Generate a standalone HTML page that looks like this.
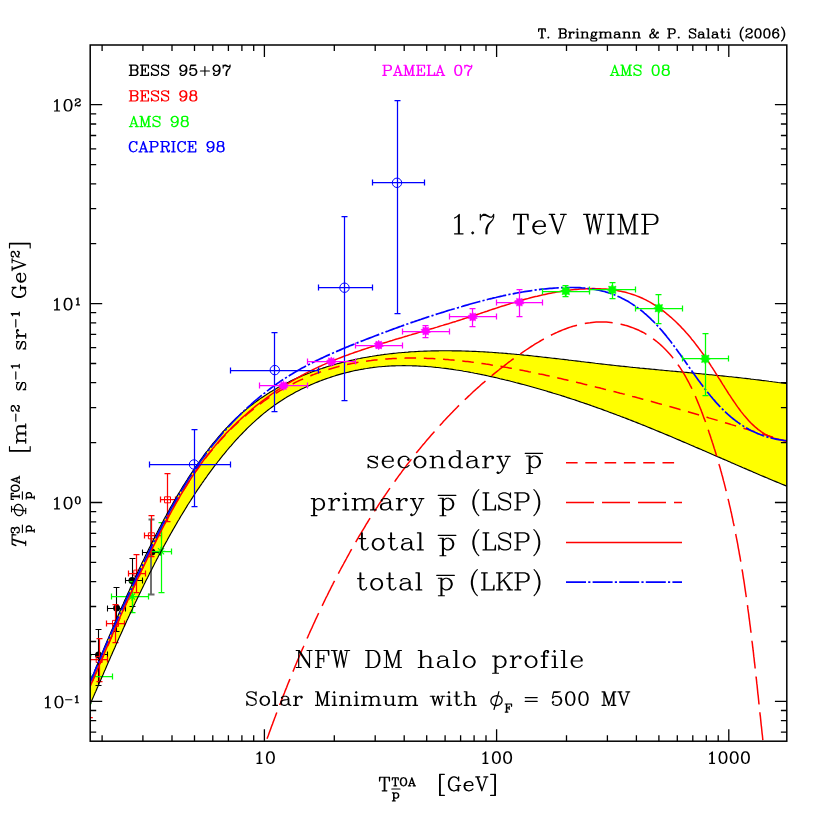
<!DOCTYPE html>
<html><head><meta charset="utf-8"><title>Antiproton flux</title>
<style>html,body{margin:0;padding:0;background:#fff;width:830px;height:830px;overflow:hidden;font-family:"Liberation Serif",serif}</style>
</head><body>
<svg width="830" height="830" viewBox="0 0 830 830" style="position:absolute;left:0;top:0">
<defs><clipPath id="cp"><rect x="90.2" y="45.0" width="696.6" height="696.2"/></clipPath></defs>
<rect width="830" height="830" fill="#fff"/>
<g clip-path="url(#cp)" fill="none" stroke-linecap="butt" stroke-linejoin="round">
<path d="M79.9 707.0 L80.5 705.4 L81.2 703.7 L81.9 702.0 L82.6 700.3 L83.3 698.7 L84.0 697.0 L84.7 695.3 L85.3 693.6 L86.0 692.0 L86.7 690.3 L87.4 688.6 L88.1 687.0 L88.8 685.3 L89.4 683.6 L90.1 681.9 L90.8 680.3 L91.5 678.6 L92.2 676.9 L92.9 675.3 L93.6 673.6 L94.3 671.9 L94.9 670.3 L95.6 668.6 L96.3 666.9 L97.0 665.3 L97.7 663.6 L98.4 661.9 L99.1 660.3 L99.8 658.6 L100.5 656.9 L101.2 655.3 L101.9 653.6 L102.6 651.9 L103.3 650.3 L103.9 648.6 L104.6 646.9 L105.3 645.3 L106.0 643.6 L106.7 642.0 L107.4 640.3 L108.2 638.6 L108.9 637.0 L109.6 635.3 L110.3 633.7 L111.0 632.0 L111.7 630.3 L112.4 628.7 L113.1 627.0 L113.8 625.4 L114.5 623.7 L115.2 622.1 L115.9 620.4 L116.7 618.8 L117.4 617.1 L118.1 615.5 L118.8 613.8 L119.5 612.2 L120.3 610.5 L121.0 608.9 L121.7 607.2 L122.4 605.6 L123.2 603.9 L123.9 602.3 L124.6 600.6 L125.4 599.0 L126.1 597.4 L126.8 595.7 L127.6 594.1 L128.3 592.4 L129.1 590.8 L129.8 589.2 L130.5 587.5 L131.3 585.9 L132.0 584.3 L132.8 582.6 L133.5 581.0 L134.3 579.4 L135.0 577.7 L135.8 576.1 L136.6 574.5 L137.3 572.9 L138.1 571.2 L138.9 569.6 L139.6 568.0 L140.4 566.4 L141.2 564.7 L141.9 563.1 L142.7 561.5 L143.5 559.9 L144.3 558.3 L145.0 556.7 L145.8 555.0 L146.6 553.4 L147.4 551.8 L148.2 550.2 L149.0 548.6 L149.8 547.0 L150.6 545.4 L151.4 543.8 L152.2 542.2 L153.0 540.6 L153.8 539.0 L154.6 537.4 L155.4 535.8 L156.2 534.2 L157.1 532.6 L157.9 531.0 L158.7 529.4 L159.5 527.8 L160.4 526.2 L161.2 524.7 L162.0 523.1 L162.9 521.5 L163.7 519.9 L164.6 518.3 L165.4 516.8 L166.3 515.2 L167.1 513.6 L168.0 512.0 L168.9 510.5 L169.7 508.9 L170.6 507.3 L171.5 505.8 L172.4 504.2 L173.3 502.6 L174.2 501.1 L175.1 499.5 L176.0 498.0 L176.9 496.4 L177.8 494.9 L178.7 493.3 L179.7 491.8 L180.6 490.2 L181.5 488.7 L182.5 487.1 L183.4 485.6 L184.4 484.1 L185.4 482.5 L186.3 481.0 L187.3 479.5 L188.3 477.9 L189.3 476.4 L190.3 474.9 L191.3 473.4 L192.3 471.9 L193.3 470.3 L194.3 468.8 L195.3 467.3 L196.4 465.8 L197.4 464.3 L198.5 462.8 L199.5 461.3 L200.6 459.8 L201.7 458.3 L202.8 456.9 L203.8 455.4 L204.9 453.9 L206.0 452.4 L207.2 451.0 L208.3 449.5 L209.4 448.1 L210.5 446.6 L211.7 445.2 L212.8 443.7 L214.0 442.3 L215.2 440.9 L216.3 439.5 L217.5 438.1 L218.7 436.7 L219.9 435.3 L221.1 433.9 L222.3 432.5 L223.5 431.2 L224.8 429.8 L226.0 428.5 L227.3 427.2 L228.5 425.8 L229.8 424.5 L231.1 423.2 L232.3 422.0 L233.6 420.7 L234.9 419.4 L236.2 418.2 L237.6 416.9 L238.9 415.7 L240.2 414.5 L241.6 413.3 L242.9 412.1 L244.3 410.9 L245.7 409.8 L247.0 408.6 L248.4 407.5 L249.8 406.4 L251.2 405.3 L252.7 404.2 L254.1 403.1 L255.5 402.1 L257.0 401.0 L258.4 400.0 L259.9 398.9 L261.3 397.9 L262.8 396.9 L264.3 395.9 L265.8 395.0 L267.3 394.0 L268.8 393.1 L270.3 392.1 L271.8 391.2 L273.3 390.3 L274.8 389.4 L276.4 388.5 L277.9 387.6 L279.5 386.8 L281.0 385.9 L282.6 385.1 L284.2 384.3 L285.8 383.5 L287.3 382.7 L288.9 381.9 L290.5 381.1 L292.1 380.3 L293.7 379.6 L295.3 378.8 L297.0 378.1 L298.6 377.4 L300.2 376.7 L301.8 376.0 L303.5 375.3 L305.1 374.6 L306.8 374.0 L308.4 373.3 L310.1 372.7 L311.7 372.0 L313.4 371.4 L315.1 370.8 L316.7 370.2 L318.4 369.6 L320.1 369.0 L321.8 368.5 L323.5 367.9 L325.2 367.4 L326.9 366.8 L328.6 366.3 L330.3 365.8 L332.0 365.3 L333.7 364.8 L335.4 364.3 L337.1 363.8 L338.9 363.4 L340.6 362.9 L342.3 362.4 L344.1 362.0 L345.8 361.6 L347.5 361.2 L349.3 360.8 L351.0 360.4 L352.8 360.0 L354.5 359.6 L356.3 359.2 L358.0 358.8 L359.8 358.5 L361.5 358.1 L363.3 357.8 L365.1 357.5 L366.8 357.2 L368.6 356.9 L370.4 356.5 L372.1 356.3 L373.9 356.0 L375.7 355.7 L377.5 355.4 L379.3 355.2 L381.1 354.9 L382.8 354.7 L384.6 354.4 L386.4 354.2 L388.2 354.0 L390.0 353.8 L391.8 353.6 L393.6 353.4 L395.4 353.2 L397.2 353.0 L399.0 352.8 L400.8 352.7 L402.6 352.5 L404.4 352.4 L406.2 352.2 L408.0 352.1 L409.8 351.9 L411.6 351.8 L413.5 351.7 L415.3 351.6 L417.1 351.5 L418.9 351.4 L420.7 351.3 L422.5 351.2 L424.4 351.1 L426.2 351.1 L428.0 351.0 L429.8 351.0 L431.6 350.9 L433.4 350.9 L435.3 350.8 L437.1 350.8 L438.9 350.8 L440.7 350.7 L442.5 350.7 L444.4 350.7 L446.2 350.7 L448.0 350.7 L449.8 350.7 L451.7 350.8 L453.5 350.8 L455.3 350.8 L457.1 350.8 L458.9 350.9 L460.8 350.9 L462.6 351.0 L464.4 351.0 L466.2 351.1 L468.0 351.1 L469.8 351.2 L471.7 351.3 L473.5 351.3 L475.3 351.4 L477.1 351.5 L478.9 351.6 L480.7 351.7 L482.5 351.8 L484.4 351.9 L486.2 352.0 L488.0 352.1 L489.8 352.2 L491.6 352.3 L493.4 352.5 L495.2 352.6 L497.0 352.7 L498.8 352.9 L500.6 353.0 L502.4 353.1 L504.2 353.3 L506.0 353.4 L507.8 353.6 L509.6 353.7 L511.4 353.9 L513.2 354.0 L515.0 354.2 L516.8 354.4 L518.6 354.5 L520.4 354.7 L522.2 354.9 L524.0 355.1 L525.8 355.2 L527.6 355.4 L529.4 355.6 L531.2 355.8 L533.0 356.0 L534.8 356.2 L536.6 356.4 L538.4 356.6 L540.2 356.8 L542.0 357.0 L543.7 357.2 L545.5 357.4 L547.3 357.6 L549.1 357.8 L550.9 358.0 L552.7 358.2 L554.5 358.4 L556.3 358.6 L558.1 358.8 L559.8 359.0 L561.6 359.2 L563.4 359.4 L565.2 359.6 L567.0 359.8 L568.8 360.1 L570.6 360.3 L572.3 360.5 L574.1 360.7 L575.9 360.9 L577.7 361.1 L579.5 361.3 L581.3 361.6 L583.0 361.8 L584.8 362.0 L586.6 362.2 L588.4 362.4 L590.2 362.6 L591.9 362.8 L593.7 363.0 L595.5 363.3 L597.3 363.5 L599.1 363.7 L600.9 363.9 L602.6 364.1 L604.4 364.3 L606.2 364.5 L608.0 364.7 L609.8 364.9 L611.5 365.1 L613.3 365.3 L615.1 365.5 L616.9 365.7 L618.7 365.9 L620.4 366.1 L622.2 366.3 L624.0 366.4 L625.8 366.6 L627.6 366.8 L629.3 367.0 L631.1 367.2 L632.9 367.4 L634.7 367.5 L636.5 367.7 L638.2 367.9 L640.0 368.1 L641.8 368.2 L643.6 368.4 L645.4 368.6 L647.1 368.8 L648.9 368.9 L650.7 369.1 L652.5 369.3 L654.3 369.4 L656.0 369.6 L657.8 369.8 L659.6 370.0 L661.4 370.1 L663.2 370.3 L665.0 370.5 L666.7 370.6 L668.5 370.8 L670.3 371.0 L672.1 371.1 L673.9 371.3 L675.7 371.4 L677.4 371.6 L679.2 371.8 L681.0 371.9 L682.8 372.1 L684.6 372.3 L686.4 372.4 L688.2 372.6 L689.9 372.8 L691.7 372.9 L693.5 373.1 L695.3 373.3 L697.1 373.5 L698.9 373.6 L700.7 373.8 L702.5 374.0 L704.2 374.1 L706.0 374.3 L707.8 374.5 L709.6 374.7 L711.4 374.8 L713.2 375.0 L715.0 375.2 L716.8 375.4 L718.6 375.5 L720.4 375.7 L722.2 375.9 L724.0 376.1 L725.8 376.3 L727.6 376.5 L729.3 376.7 L731.1 376.8 L732.9 377.0 L734.7 377.2 L736.5 377.4 L738.3 377.6 L740.1 377.8 L741.9 378.0 L743.7 378.2 L745.5 378.4 L747.3 378.6 L749.2 378.8 L751.0 379.1 L752.8 379.3 L754.6 379.5 L756.4 379.7 L758.2 379.9 L760.0 380.1 L761.8 380.4 L763.6 380.6 L765.4 380.8 L767.2 381.0 L769.0 381.3 L770.9 381.5 L772.7 381.8 L774.5 382.0 L776.3 382.2 L778.1 382.5 L779.9 382.7 L781.7 383.0 L783.6 383.3 L785.4 383.5 L787.2 383.8 L787.2 486.3 L785.4 485.6 L783.7 484.9 L782.0 484.2 L780.3 483.5 L778.6 482.8 L776.9 482.1 L775.2 481.4 L773.5 480.7 L771.8 480.0 L770.1 479.3 L768.4 478.6 L766.7 477.8 L765.0 477.1 L763.3 476.4 L761.6 475.7 L759.9 475.0 L758.2 474.2 L756.5 473.5 L754.8 472.8 L753.1 472.1 L751.5 471.3 L749.8 470.6 L748.1 469.9 L746.4 469.1 L744.7 468.4 L743.0 467.7 L741.3 466.9 L739.6 466.2 L737.9 465.5 L736.2 464.8 L734.5 464.0 L732.8 463.3 L731.1 462.6 L729.5 461.8 L727.8 461.1 L726.1 460.3 L724.4 459.6 L722.7 458.9 L721.0 458.1 L719.3 457.4 L717.6 456.7 L715.9 455.9 L714.2 455.2 L712.5 454.5 L710.9 453.7 L709.2 453.0 L707.5 452.3 L705.8 451.5 L704.1 450.8 L702.4 450.1 L700.7 449.3 L699.0 448.6 L697.3 447.9 L695.7 447.2 L694.0 446.4 L692.3 445.7 L690.6 445.0 L688.9 444.2 L687.2 443.5 L685.5 442.8 L683.8 442.1 L682.1 441.4 L680.4 440.6 L678.7 439.9 L677.0 439.2 L675.4 438.5 L673.7 437.8 L672.0 437.0 L670.3 436.3 L668.6 435.6 L666.9 434.9 L665.2 434.2 L663.5 433.5 L661.8 432.8 L660.1 432.1 L658.4 431.4 L656.7 430.7 L655.0 430.0 L653.3 429.3 L651.6 428.6 L649.9 427.9 L648.2 427.2 L646.5 426.5 L644.8 425.8 L643.1 425.1 L641.4 424.5 L639.7 423.8 L638.0 423.1 L636.3 422.4 L634.6 421.8 L632.9 421.1 L631.2 420.4 L629.5 419.8 L627.8 419.1 L626.1 418.4 L624.4 417.8 L622.6 417.1 L620.9 416.5 L619.2 415.8 L617.5 415.2 L615.8 414.5 L614.1 413.9 L612.4 413.2 L610.6 412.6 L608.9 412.0 L607.2 411.3 L605.5 410.7 L603.8 410.1 L602.1 409.4 L600.3 408.8 L598.6 408.2 L596.9 407.6 L595.2 407.0 L593.4 406.4 L591.7 405.8 L590.0 405.1 L588.2 404.5 L586.5 403.9 L584.8 403.4 L583.1 402.8 L581.3 402.2 L579.6 401.6 L577.8 401.0 L576.1 400.4 L574.4 399.8 L572.6 399.3 L570.9 398.7 L569.1 398.1 L567.4 397.6 L565.7 397.0 L563.9 396.4 L562.2 395.9 L560.4 395.3 L558.7 394.8 L556.9 394.2 L555.2 393.7 L553.4 393.2 L551.6 392.6 L549.9 392.1 L548.1 391.6 L546.4 391.0 L544.6 390.5 L542.8 390.0 L541.1 389.5 L539.3 389.0 L537.5 388.5 L535.8 388.0 L534.0 387.5 L532.2 387.0 L530.5 386.5 L528.7 386.0 L526.9 385.5 L525.1 385.0 L523.3 384.5 L521.6 384.1 L519.8 383.6 L518.0 383.1 L516.2 382.7 L514.4 382.2 L512.6 381.7 L510.8 381.3 L509.0 380.8 L507.2 380.4 L505.4 380.0 L503.6 379.5 L501.8 379.1 L500.0 378.7 L498.2 378.2 L496.4 377.8 L494.6 377.4 L492.8 377.0 L491.0 376.6 L489.1 376.2 L487.3 375.8 L485.5 375.4 L483.7 375.0 L481.9 374.6 L480.0 374.2 L478.2 373.9 L476.4 373.5 L474.6 373.2 L472.7 372.8 L470.9 372.5 L469.1 372.1 L467.2 371.8 L465.4 371.5 L463.6 371.2 L461.8 370.8 L459.9 370.5 L458.1 370.2 L456.2 370.0 L454.4 369.7 L452.6 369.4 L450.7 369.1 L448.9 368.9 L447.1 368.6 L445.2 368.4 L443.4 368.2 L441.5 368.0 L439.7 367.7 L437.9 367.5 L436.0 367.4 L434.2 367.2 L432.3 367.0 L430.5 366.8 L428.7 366.7 L426.8 366.5 L425.0 366.4 L423.1 366.3 L421.3 366.2 L419.5 366.1 L417.6 366.0 L415.8 365.9 L414.0 365.8 L412.1 365.8 L410.3 365.7 L408.5 365.7 L406.6 365.7 L404.8 365.6 L403.0 365.6 L401.1 365.7 L399.3 365.7 L397.5 365.7 L395.6 365.8 L393.8 365.8 L392.0 365.9 L390.2 366.0 L388.3 366.1 L386.5 366.2 L384.7 366.4 L382.9 366.5 L381.0 366.7 L379.2 366.8 L377.4 367.0 L375.6 367.2 L373.8 367.4 L372.0 367.7 L370.2 367.9 L368.4 368.2 L366.6 368.5 L364.8 368.7 L363.0 369.1 L361.2 369.4 L359.4 369.7 L357.6 370.1 L355.8 370.4 L354.0 370.8 L352.2 371.2 L350.4 371.6 L348.6 372.1 L346.9 372.5 L345.1 373.0 L343.3 373.4 L341.5 373.9 L339.8 374.4 L338.0 374.9 L336.3 375.4 L334.5 376.0 L332.8 376.5 L331.0 377.1 L329.3 377.7 L327.6 378.3 L325.8 378.9 L324.1 379.5 L322.4 380.1 L320.7 380.8 L319.0 381.4 L317.3 382.1 L315.6 382.8 L313.9 383.5 L312.2 384.2 L310.5 384.9 L308.8 385.7 L307.2 386.4 L305.5 387.2 L303.9 388.0 L302.2 388.8 L300.6 389.6 L299.0 390.4 L297.3 391.3 L295.7 392.1 L294.1 393.0 L292.5 393.9 L290.9 394.8 L289.3 395.7 L287.8 396.6 L286.2 397.6 L284.6 398.5 L283.1 399.5 L281.6 400.5 L280.0 401.5 L278.5 402.5 L277.0 403.5 L275.5 404.6 L274.0 405.6 L272.5 406.7 L271.1 407.8 L269.6 408.9 L268.1 410.0 L266.7 411.1 L265.3 412.3 L263.8 413.4 L262.4 414.6 L261.0 415.8 L259.6 417.0 L258.2 418.2 L256.8 419.4 L255.5 420.6 L254.1 421.9 L252.7 423.1 L251.4 424.4 L250.1 425.6 L248.7 426.9 L247.4 428.2 L246.1 429.5 L244.8 430.8 L243.5 432.1 L242.2 433.5 L240.9 434.8 L239.6 436.1 L238.4 437.5 L237.1 438.9 L235.9 440.2 L234.6 441.6 L233.4 443.0 L232.2 444.4 L231.0 445.8 L229.7 447.2 L228.5 448.6 L227.3 450.0 L226.2 451.4 L225.0 452.9 L223.8 454.3 L222.6 455.7 L221.5 457.2 L220.3 458.6 L219.2 460.1 L218.0 461.5 L216.9 463.0 L215.8 464.4 L214.6 465.9 L213.5 467.4 L212.4 468.9 L211.3 470.3 L210.2 471.8 L209.1 473.3 L208.0 474.8 L207.0 476.3 L205.9 477.8 L204.8 479.3 L203.8 480.8 L202.7 482.3 L201.7 483.8 L200.6 485.3 L199.6 486.9 L198.6 488.4 L197.5 489.9 L196.5 491.4 L195.5 493.0 L194.5 494.5 L193.5 496.0 L192.5 497.6 L191.5 499.1 L190.5 500.7 L189.5 502.2 L188.5 503.8 L187.5 505.3 L186.6 506.9 L185.6 508.5 L184.7 510.0 L183.7 511.6 L182.7 513.2 L181.8 514.7 L180.8 516.3 L179.9 517.9 L179.0 519.5 L178.0 521.0 L177.1 522.6 L176.2 524.2 L175.3 525.8 L174.4 527.4 L173.4 529.0 L172.5 530.6 L171.6 532.2 L170.7 533.8 L169.8 535.4 L168.9 537.0 L168.0 538.6 L167.2 540.2 L166.3 541.8 L165.4 543.4 L164.5 545.0 L163.6 546.6 L162.8 548.2 L161.9 549.8 L161.0 551.5 L160.2 553.1 L159.3 554.7 L158.4 556.3 L157.6 557.9 L156.7 559.6 L155.9 561.2 L155.0 562.8 L154.2 564.5 L153.4 566.1 L152.5 567.7 L151.7 569.4 L150.9 571.0 L150.0 572.6 L149.2 574.3 L148.4 575.9 L147.6 577.6 L146.7 579.2 L145.9 580.8 L145.1 582.5 L144.3 584.1 L143.5 585.8 L142.7 587.4 L141.9 589.1 L141.1 590.7 L140.3 592.4 L139.5 594.0 L138.7 595.7 L137.9 597.3 L137.1 599.0 L136.3 600.7 L135.5 602.3 L134.7 604.0 L133.9 605.6 L133.1 607.3 L132.4 609.0 L131.6 610.6 L130.8 612.3 L130.0 614.0 L129.3 615.6 L128.5 617.3 L127.7 619.0 L126.9 620.6 L126.2 622.3 L125.4 624.0 L124.6 625.7 L123.9 627.3 L123.1 629.0 L122.4 630.7 L121.6 632.4 L120.9 634.0 L120.1 635.7 L119.3 637.4 L118.6 639.1 L117.8 640.8 L117.1 642.4 L116.3 644.1 L115.6 645.8 L114.9 647.5 L114.1 649.2 L113.4 650.8 L112.6 652.5 L111.9 654.2 L111.1 655.9 L110.4 657.6 L109.7 659.3 L108.9 661.0 L108.2 662.6 L107.5 664.3 L106.7 666.0 L106.0 667.7 L105.3 669.4 L104.5 671.1 L103.8 672.8 L103.1 674.5 L102.3 676.2 L101.6 677.8 L100.9 679.5 L100.1 681.2 L99.4 682.9 L98.7 684.6 L98.0 686.3 L97.2 688.0 L96.5 689.7 L95.8 691.4 L95.0 693.1 L94.3 694.8 L93.6 696.4 L92.9 698.1 L92.1 699.8 L91.4 701.5 L90.7 703.2 L90.0 704.9 L89.2 706.6 L88.5 708.3 L87.8 710.0 L87.1 711.7 L86.4 713.4 L85.6 715.1 L84.9 716.8 L84.2 718.4 L83.5 720.1 L82.7 721.8 L82.0 723.5 Z" fill="#ffff00" stroke="none"/>
<g stroke="#000000" stroke-width="1.1"><path d="M90.5 654.5 H107.5 M90.5 651.5 V657.5 M107.5 651.5 V657.5"/><path d="M98.5 629.5 V685.5 M95.5 629.5 H101.5 M95.5 685.5 H101.5"/></g>
<circle cx="98.5" cy="654.9" r="3.5" fill="#000" stroke="none"/>
<g stroke="#000000" stroke-width="1.1"><path d="M107.5 608.5 H125.5 M107.5 605.5 V611.5 M125.5 605.5 V611.5"/><path d="M116.5 587.5 V631.5 M113.5 587.5 H119.5 M113.5 631.5 H119.5"/></g>
<circle cx="116.6" cy="608.1" r="3.5" fill="#000" stroke="none"/>
<g stroke="#000000" stroke-width="1.1"><path d="M125.5 580.5 H142.5 M125.5 577.5 V583.5 M142.5 577.5 V583.5"/><path d="M132.5 558.5 V606.5 M129.5 558.5 H135.5 M129.5 606.5 H135.5"/></g>
<circle cx="132.0" cy="580.4" r="3.5" fill="#000" stroke="none"/>
<g stroke="#000000" stroke-width="1.1"><path d="M142.5 552.5 H160.5 M142.5 549.5 V555.5 M160.5 549.5 V555.5"/><path stroke="#6a6a6a" stroke-width="1.9" d="M151.0 519.5 V594.5 M148.5 519.5 H154.5 M148.5 594.5 H154.5"/></g>
<circle cx="151.9" cy="552.0" r="3.5" fill="#000" stroke="none"/>
<g stroke="#ff0000" stroke-width="1.25"><path d="M90.5 659.5 H107.5 M90.5 656.5 V662.5 M107.5 656.5 V662.5"/><path d="M99.5 638.5 V681.5 M96.5 638.5 H102.5 M96.5 681.5 H102.5"/></g>
<rect x="96.2" y="656.5" width="6" height="6" stroke="#ff0000" stroke-width="1"/>
<g stroke="#ff0000" stroke-width="1.25"><path d="M106.5 623.5 H124.5 M106.5 620.5 V626.5 M124.5 620.5 V626.5"/><path d="M115.5 604.5 V642.5 M112.5 604.5 H118.5 M112.5 642.5 H118.5"/></g>
<rect x="112.5" y="620.4" width="6" height="6" stroke="#ff0000" stroke-width="1"/>
<g stroke="#ff0000" stroke-width="1.25"><path d="M128.5 573.5 H145.5 M128.5 570.5 V576.5 M145.5 570.5 V576.5"/><path d="M136.5 554.5 V592.5 M133.5 554.5 H139.5 M133.5 592.5 H139.5"/></g>
<rect x="133.8" y="570.1" width="6" height="6" stroke="#ff0000" stroke-width="1"/>
<g stroke="#ff0000" stroke-width="1.25"><path d="M144.5 535.5 H161.5 M144.5 532.5 V538.5 M161.5 532.5 V538.5"/><path d="M151.5 515.5 V556.5 M148.5 515.5 H154.5 M148.5 556.5 H154.5"/></g>
<rect x="148.4" y="532.8" width="6" height="6" stroke="#ff0000" stroke-width="1"/>
<g stroke="#ff0000" stroke-width="1.25"><path d="M160.5 499.5 H175.5 M160.5 496.5 V502.5 M175.5 496.5 V502.5"/><path d="M167.5 473.5 V521.5 M164.5 473.5 H170.5 M164.5 521.5 H170.5"/></g>
<rect x="164.5" y="496.8" width="6" height="6" stroke="#ff0000" stroke-width="1"/>
<path d="M90 717.6 H92.8" stroke="#ff0000" stroke-width="1.1"/>
<g stroke="#00ff00" stroke-width="1.25"><path d="M90.5 676.5 H112.5 M90.5 673.5 V679.5 M112.5 673.5 V679.5"/><path d="M88.5 655.5 V703.5 M85.5 655.5 H91.5 M85.5 703.5 H91.5"/></g>
<path d="M83.6 676.0 L92.4 676.0 M84.9 672.9 L91.1 679.1 M88.0 671.6 L88.0 680.4 M91.1 672.9 L84.9 679.1" stroke="#00ff00" stroke-width="1.1"/>
<circle cx="88.5" cy="676.5" r="1.8" fill="#00ff00" stroke="none"/>
<g stroke="#00ff00" stroke-width="1.25"><path d="M111.5 596.5 H148.5 M111.5 593.5 V599.5 M148.5 593.5 V599.5"/><path d="M132.5 581.5 V612.5 M129.5 581.5 H135.5 M129.5 612.5 H135.5"/></g>
<path d="M127.6 596.6 L136.4 596.6 M128.9 593.5 L135.1 599.7 M132.0 592.2 L132.0 601.0 M135.1 593.5 L128.9 599.7" stroke="#00ff00" stroke-width="1.1"/>
<circle cx="132.5" cy="596.5" r="1.8" fill="#00ff00" stroke="none"/>
<g stroke="#00ff00" stroke-width="1.25"><path d="M150.5 551.5 H171.5 M150.5 548.5 V554.5 M171.5 548.5 V554.5"/><path d="M161.5 522.5 V592.5 M158.5 522.5 H164.5 M158.5 592.5 H164.5"/></g>
<path d="M156.6 551.2 L165.4 551.2 M157.9 548.1 L164.1 554.3 M161.0 546.8 L161.0 555.6 M164.1 548.1 L157.9 554.3" stroke="#00ff00" stroke-width="1.1"/>
<circle cx="161.5" cy="551.5" r="1.8" fill="#00ff00" stroke="none"/>
<path d="M79.9 707.0 L80.5 705.4 L81.2 703.7 L81.9 702.0 L82.6 700.3 L83.3 698.7 L84.0 697.0 L84.7 695.3 L85.3 693.6 L86.0 692.0 L86.7 690.3 L87.4 688.6 L88.1 687.0 L88.8 685.3 L89.4 683.6 L90.1 681.9 L90.8 680.3 L91.5 678.6 L92.2 676.9 L92.9 675.3 L93.6 673.6 L94.3 671.9 L94.9 670.3 L95.6 668.6 L96.3 666.9 L97.0 665.3 L97.7 663.6 L98.4 661.9 L99.1 660.3 L99.8 658.6 L100.5 656.9 L101.2 655.3 L101.9 653.6 L102.6 651.9 L103.3 650.3 L103.9 648.6 L104.6 646.9 L105.3 645.3 L106.0 643.6 L106.7 642.0 L107.4 640.3 L108.2 638.6 L108.9 637.0 L109.6 635.3 L110.3 633.7 L111.0 632.0 L111.7 630.3 L112.4 628.7 L113.1 627.0 L113.8 625.4 L114.5 623.7 L115.2 622.1 L115.9 620.4 L116.7 618.8 L117.4 617.1 L118.1 615.5 L118.8 613.8 L119.5 612.2 L120.3 610.5 L121.0 608.9 L121.7 607.2 L122.4 605.6 L123.2 603.9 L123.9 602.3 L124.6 600.6 L125.4 599.0 L126.1 597.4 L126.8 595.7 L127.6 594.1 L128.3 592.4 L129.1 590.8 L129.8 589.2 L130.5 587.5 L131.3 585.9 L132.0 584.3 L132.8 582.6 L133.5 581.0 L134.3 579.4 L135.0 577.7 L135.8 576.1 L136.6 574.5 L137.3 572.9 L138.1 571.2 L138.9 569.6 L139.6 568.0 L140.4 566.4 L141.2 564.7 L141.9 563.1 L142.7 561.5 L143.5 559.9 L144.3 558.3 L145.0 556.7 L145.8 555.0 L146.6 553.4 L147.4 551.8 L148.2 550.2 L149.0 548.6 L149.8 547.0 L150.6 545.4 L151.4 543.8 L152.2 542.2 L153.0 540.6 L153.8 539.0 L154.6 537.4 L155.4 535.8 L156.2 534.2 L157.1 532.6 L157.9 531.0 L158.7 529.4 L159.5 527.8 L160.4 526.2 L161.2 524.7 L162.0 523.1 L162.9 521.5 L163.7 519.9 L164.6 518.3 L165.4 516.8 L166.3 515.2 L167.1 513.6 L168.0 512.0 L168.9 510.5 L169.7 508.9 L170.6 507.3 L171.5 505.8 L172.4 504.2 L173.3 502.6 L174.2 501.1 L175.1 499.5 L176.0 498.0 L176.9 496.4 L177.8 494.9 L178.7 493.3 L179.7 491.8 L180.6 490.2 L181.5 488.7 L182.5 487.1 L183.4 485.6 L184.4 484.1 L185.4 482.5 L186.3 481.0 L187.3 479.5 L188.3 477.9 L189.3 476.4 L190.3 474.9 L191.3 473.4 L192.3 471.9 L193.3 470.3 L194.3 468.8 L195.3 467.3 L196.4 465.8 L197.4 464.3 L198.5 462.8 L199.5 461.3 L200.6 459.8 L201.7 458.3 L202.8 456.9 L203.8 455.4 L204.9 453.9 L206.0 452.4 L207.2 451.0 L208.3 449.5 L209.4 448.1 L210.5 446.6 L211.7 445.2 L212.8 443.7 L214.0 442.3 L215.2 440.9 L216.3 439.5 L217.5 438.1 L218.7 436.7 L219.9 435.3 L221.1 433.9 L222.3 432.5 L223.5 431.2 L224.8 429.8 L226.0 428.5 L227.3 427.2 L228.5 425.8 L229.8 424.5 L231.1 423.2 L232.3 422.0 L233.6 420.7 L234.9 419.4 L236.2 418.2 L237.6 416.9 L238.9 415.7 L240.2 414.5 L241.6 413.3 L242.9 412.1 L244.3 410.9 L245.7 409.8 L247.0 408.6 L248.4 407.5 L249.8 406.4 L251.2 405.3 L252.7 404.2 L254.1 403.1 L255.5 402.1 L257.0 401.0 L258.4 400.0 L259.9 398.9 L261.3 397.9 L262.8 396.9 L264.3 395.9 L265.8 395.0 L267.3 394.0 L268.8 393.1 L270.3 392.1 L271.8 391.2 L273.3 390.3 L274.8 389.4 L276.4 388.5 L277.9 387.6 L279.5 386.8 L281.0 385.9 L282.6 385.1 L284.2 384.3 L285.8 383.5 L287.3 382.7 L288.9 381.9 L290.5 381.1 L292.1 380.3 L293.7 379.6 L295.3 378.8 L297.0 378.1 L298.6 377.4 L300.2 376.7 L301.8 376.0 L303.5 375.3 L305.1 374.6 L306.8 374.0 L308.4 373.3 L310.1 372.7 L311.7 372.0 L313.4 371.4 L315.1 370.8 L316.7 370.2 L318.4 369.6 L320.1 369.0 L321.8 368.5 L323.5 367.9 L325.2 367.4 L326.9 366.8 L328.6 366.3 L330.3 365.8 L332.0 365.3 L333.7 364.8 L335.4 364.3 L337.1 363.8 L338.9 363.4 L340.6 362.9 L342.3 362.4 L344.1 362.0 L345.8 361.6 L347.5 361.2 L349.3 360.8 L351.0 360.4 L352.8 360.0 L354.5 359.6 L356.3 359.2 L358.0 358.8 L359.8 358.5 L361.5 358.1 L363.3 357.8 L365.1 357.5 L366.8 357.2 L368.6 356.9 L370.4 356.5 L372.1 356.3 L373.9 356.0 L375.7 355.7 L377.5 355.4 L379.3 355.2 L381.1 354.9 L382.8 354.7 L384.6 354.4 L386.4 354.2 L388.2 354.0 L390.0 353.8 L391.8 353.6 L393.6 353.4 L395.4 353.2 L397.2 353.0 L399.0 352.8 L400.8 352.7 L402.6 352.5 L404.4 352.4 L406.2 352.2 L408.0 352.1 L409.8 351.9 L411.6 351.8 L413.5 351.7 L415.3 351.6 L417.1 351.5 L418.9 351.4 L420.7 351.3 L422.5 351.2 L424.4 351.1 L426.2 351.1 L428.0 351.0 L429.8 351.0 L431.6 350.9 L433.4 350.9 L435.3 350.8 L437.1 350.8 L438.9 350.8 L440.7 350.7 L442.5 350.7 L444.4 350.7 L446.2 350.7 L448.0 350.7 L449.8 350.7 L451.7 350.8 L453.5 350.8 L455.3 350.8 L457.1 350.8 L458.9 350.9 L460.8 350.9 L462.6 351.0 L464.4 351.0 L466.2 351.1 L468.0 351.1 L469.8 351.2 L471.7 351.3 L473.5 351.3 L475.3 351.4 L477.1 351.5 L478.9 351.6 L480.7 351.7 L482.5 351.8 L484.4 351.9 L486.2 352.0 L488.0 352.1 L489.8 352.2 L491.6 352.3 L493.4 352.5 L495.2 352.6 L497.0 352.7 L498.8 352.9 L500.6 353.0 L502.4 353.1 L504.2 353.3 L506.0 353.4 L507.8 353.6 L509.6 353.7 L511.4 353.9 L513.2 354.0 L515.0 354.2 L516.8 354.4 L518.6 354.5 L520.4 354.7 L522.2 354.9 L524.0 355.1 L525.8 355.2 L527.6 355.4 L529.4 355.6 L531.2 355.8 L533.0 356.0 L534.8 356.2 L536.6 356.4 L538.4 356.6 L540.2 356.8 L542.0 357.0 L543.7 357.2 L545.5 357.4 L547.3 357.6 L549.1 357.8 L550.9 358.0 L552.7 358.2 L554.5 358.4 L556.3 358.6 L558.1 358.8 L559.8 359.0 L561.6 359.2 L563.4 359.4 L565.2 359.6 L567.0 359.8 L568.8 360.1 L570.6 360.3 L572.3 360.5 L574.1 360.7 L575.9 360.9 L577.7 361.1 L579.5 361.3 L581.3 361.6 L583.0 361.8 L584.8 362.0 L586.6 362.2 L588.4 362.4 L590.2 362.6 L591.9 362.8 L593.7 363.0 L595.5 363.3 L597.3 363.5 L599.1 363.7 L600.9 363.9 L602.6 364.1 L604.4 364.3 L606.2 364.5 L608.0 364.7 L609.8 364.9 L611.5 365.1 L613.3 365.3 L615.1 365.5 L616.9 365.7 L618.7 365.9 L620.4 366.1 L622.2 366.3 L624.0 366.4 L625.8 366.6 L627.6 366.8 L629.3 367.0 L631.1 367.2 L632.9 367.4 L634.7 367.5 L636.5 367.7 L638.2 367.9 L640.0 368.1 L641.8 368.2 L643.6 368.4 L645.4 368.6 L647.1 368.8 L648.9 368.9 L650.7 369.1 L652.5 369.3 L654.3 369.4 L656.0 369.6 L657.8 369.8 L659.6 370.0 L661.4 370.1 L663.2 370.3 L665.0 370.5 L666.7 370.6 L668.5 370.8 L670.3 371.0 L672.1 371.1 L673.9 371.3 L675.7 371.4 L677.4 371.6 L679.2 371.8 L681.0 371.9 L682.8 372.1 L684.6 372.3 L686.4 372.4 L688.2 372.6 L689.9 372.8 L691.7 372.9 L693.5 373.1 L695.3 373.3 L697.1 373.5 L698.9 373.6 L700.7 373.8 L702.5 374.0 L704.2 374.1 L706.0 374.3 L707.8 374.5 L709.6 374.7 L711.4 374.8 L713.2 375.0 L715.0 375.2 L716.8 375.4 L718.6 375.5 L720.4 375.7 L722.2 375.9 L724.0 376.1 L725.8 376.3 L727.6 376.5 L729.3 376.7 L731.1 376.8 L732.9 377.0 L734.7 377.2 L736.5 377.4 L738.3 377.6 L740.1 377.8 L741.9 378.0 L743.7 378.2 L745.5 378.4 L747.3 378.6 L749.2 378.8 L751.0 379.1 L752.8 379.3 L754.6 379.5 L756.4 379.7 L758.2 379.9 L760.0 380.1 L761.8 380.4 L763.6 380.6 L765.4 380.8 L767.2 381.0 L769.0 381.3 L770.9 381.5 L772.7 381.8 L774.5 382.0 L776.3 382.2 L778.1 382.5 L779.9 382.7 L781.7 383.0 L783.6 383.3 L785.4 383.5 L787.2 383.8" stroke="#000" stroke-width="1.15"/>
<path d="M82.0 723.5 L82.7 721.8 L83.5 720.1 L84.2 718.4 L84.9 716.8 L85.6 715.1 L86.4 713.4 L87.1 711.7 L87.8 710.0 L88.5 708.3 L89.2 706.6 L90.0 704.9 L90.7 703.2 L91.4 701.5 L92.1 699.8 L92.9 698.1 L93.6 696.4 L94.3 694.8 L95.0 693.1 L95.8 691.4 L96.5 689.7 L97.2 688.0 L98.0 686.3 L98.7 684.6 L99.4 682.9 L100.1 681.2 L100.9 679.5 L101.6 677.8 L102.3 676.2 L103.1 674.5 L103.8 672.8 L104.5 671.1 L105.3 669.4 L106.0 667.7 L106.7 666.0 L107.5 664.3 L108.2 662.6 L108.9 661.0 L109.7 659.3 L110.4 657.6 L111.1 655.9 L111.9 654.2 L112.6 652.5 L113.4 650.8 L114.1 649.2 L114.9 647.5 L115.6 645.8 L116.3 644.1 L117.1 642.4 L117.8 640.8 L118.6 639.1 L119.3 637.4 L120.1 635.7 L120.9 634.0 L121.6 632.4 L122.4 630.7 L123.1 629.0 L123.9 627.3 L124.6 625.7 L125.4 624.0 L126.2 622.3 L126.9 620.6 L127.7 619.0 L128.5 617.3 L129.3 615.6 L130.0 614.0 L130.8 612.3 L131.6 610.6 L132.4 609.0 L133.1 607.3 L133.9 605.6 L134.7 604.0 L135.5 602.3 L136.3 600.7 L137.1 599.0 L137.9 597.3 L138.7 595.7 L139.5 594.0 L140.3 592.4 L141.1 590.7 L141.9 589.1 L142.7 587.4 L143.5 585.8 L144.3 584.1 L145.1 582.5 L145.9 580.8 L146.7 579.2 L147.6 577.6 L148.4 575.9 L149.2 574.3 L150.0 572.6 L150.9 571.0 L151.7 569.4 L152.5 567.7 L153.4 566.1 L154.2 564.5 L155.0 562.8 L155.9 561.2 L156.7 559.6 L157.6 557.9 L158.4 556.3 L159.3 554.7 L160.2 553.1 L161.0 551.5 L161.9 549.8 L162.8 548.2 L163.6 546.6 L164.5 545.0 L165.4 543.4 L166.3 541.8 L167.2 540.2 L168.0 538.6 L168.9 537.0 L169.8 535.4 L170.7 533.8 L171.6 532.2 L172.5 530.6 L173.4 529.0 L174.4 527.4 L175.3 525.8 L176.2 524.2 L177.1 522.6 L178.0 521.0 L179.0 519.5 L179.9 517.9 L180.8 516.3 L181.8 514.7 L182.7 513.2 L183.7 511.6 L184.7 510.0 L185.6 508.5 L186.6 506.9 L187.5 505.3 L188.5 503.8 L189.5 502.2 L190.5 500.7 L191.5 499.1 L192.5 497.6 L193.5 496.0 L194.5 494.5 L195.5 493.0 L196.5 491.4 L197.5 489.9 L198.6 488.4 L199.6 486.9 L200.6 485.3 L201.7 483.8 L202.7 482.3 L203.8 480.8 L204.8 479.3 L205.9 477.8 L207.0 476.3 L208.0 474.8 L209.1 473.3 L210.2 471.8 L211.3 470.3 L212.4 468.9 L213.5 467.4 L214.6 465.9 L215.8 464.4 L216.9 463.0 L218.0 461.5 L219.2 460.1 L220.3 458.6 L221.5 457.2 L222.6 455.7 L223.8 454.3 L225.0 452.9 L226.2 451.4 L227.3 450.0 L228.5 448.6 L229.7 447.2 L231.0 445.8 L232.2 444.4 L233.4 443.0 L234.6 441.6 L235.9 440.2 L237.1 438.9 L238.4 437.5 L239.6 436.1 L240.9 434.8 L242.2 433.5 L243.5 432.1 L244.8 430.8 L246.1 429.5 L247.4 428.2 L248.7 426.9 L250.1 425.6 L251.4 424.4 L252.7 423.1 L254.1 421.9 L255.5 420.6 L256.8 419.4 L258.2 418.2 L259.6 417.0 L261.0 415.8 L262.4 414.6 L263.8 413.4 L265.3 412.3 L266.7 411.1 L268.1 410.0 L269.6 408.9 L271.1 407.8 L272.5 406.7 L274.0 405.6 L275.5 404.6 L277.0 403.5 L278.5 402.5 L280.0 401.5 L281.6 400.5 L283.1 399.5 L284.6 398.5 L286.2 397.6 L287.8 396.6 L289.3 395.7 L290.9 394.8 L292.5 393.9 L294.1 393.0 L295.7 392.1 L297.3 391.3 L299.0 390.4 L300.6 389.6 L302.2 388.8 L303.9 388.0 L305.5 387.2 L307.2 386.4 L308.8 385.7 L310.5 384.9 L312.2 384.2 L313.9 383.5 L315.6 382.8 L317.3 382.1 L319.0 381.4 L320.7 380.8 L322.4 380.1 L324.1 379.5 L325.8 378.9 L327.6 378.3 L329.3 377.7 L331.0 377.1 L332.8 376.5 L334.5 376.0 L336.3 375.4 L338.0 374.9 L339.8 374.4 L341.5 373.9 L343.3 373.4 L345.1 373.0 L346.9 372.5 L348.6 372.1 L350.4 371.6 L352.2 371.2 L354.0 370.8 L355.8 370.4 L357.6 370.1 L359.4 369.7 L361.2 369.4 L363.0 369.1 L364.8 368.7 L366.6 368.5 L368.4 368.2 L370.2 367.9 L372.0 367.7 L373.8 367.4 L375.6 367.2 L377.4 367.0 L379.2 366.8 L381.0 366.7 L382.9 366.5 L384.7 366.4 L386.5 366.2 L388.3 366.1 L390.2 366.0 L392.0 365.9 L393.8 365.8 L395.6 365.8 L397.5 365.7 L399.3 365.7 L401.1 365.7 L403.0 365.6 L404.8 365.6 L406.6 365.7 L408.5 365.7 L410.3 365.7 L412.1 365.8 L414.0 365.8 L415.8 365.9 L417.6 366.0 L419.5 366.1 L421.3 366.2 L423.1 366.3 L425.0 366.4 L426.8 366.5 L428.7 366.7 L430.5 366.8 L432.3 367.0 L434.2 367.2 L436.0 367.4 L437.9 367.5 L439.7 367.7 L441.5 368.0 L443.4 368.2 L445.2 368.4 L447.1 368.6 L448.9 368.9 L450.7 369.1 L452.6 369.4 L454.4 369.7 L456.2 370.0 L458.1 370.2 L459.9 370.5 L461.8 370.8 L463.6 371.2 L465.4 371.5 L467.2 371.8 L469.1 372.1 L470.9 372.5 L472.7 372.8 L474.6 373.2 L476.4 373.5 L478.2 373.9 L480.0 374.2 L481.9 374.6 L483.7 375.0 L485.5 375.4 L487.3 375.8 L489.1 376.2 L491.0 376.6 L492.8 377.0 L494.6 377.4 L496.4 377.8 L498.2 378.2 L500.0 378.7 L501.8 379.1 L503.6 379.5 L505.4 380.0 L507.2 380.4 L509.0 380.8 L510.8 381.3 L512.6 381.7 L514.4 382.2 L516.2 382.7 L518.0 383.1 L519.8 383.6 L521.6 384.1 L523.3 384.5 L525.1 385.0 L526.9 385.5 L528.7 386.0 L530.5 386.5 L532.2 387.0 L534.0 387.5 L535.8 388.0 L537.5 388.5 L539.3 389.0 L541.1 389.5 L542.8 390.0 L544.6 390.5 L546.4 391.0 L548.1 391.6 L549.9 392.1 L551.6 392.6 L553.4 393.2 L555.2 393.7 L556.9 394.2 L558.7 394.8 L560.4 395.3 L562.2 395.9 L563.9 396.4 L565.7 397.0 L567.4 397.6 L569.1 398.1 L570.9 398.7 L572.6 399.3 L574.4 399.8 L576.1 400.4 L577.8 401.0 L579.6 401.6 L581.3 402.2 L583.1 402.8 L584.8 403.4 L586.5 403.9 L588.2 404.5 L590.0 405.1 L591.7 405.8 L593.4 406.4 L595.2 407.0 L596.9 407.6 L598.6 408.2 L600.3 408.8 L602.1 409.4 L603.8 410.1 L605.5 410.7 L607.2 411.3 L608.9 412.0 L610.6 412.6 L612.4 413.2 L614.1 413.9 L615.8 414.5 L617.5 415.2 L619.2 415.8 L620.9 416.5 L622.6 417.1 L624.4 417.8 L626.1 418.4 L627.8 419.1 L629.5 419.8 L631.2 420.4 L632.9 421.1 L634.6 421.8 L636.3 422.4 L638.0 423.1 L639.7 423.8 L641.4 424.5 L643.1 425.1 L644.8 425.8 L646.5 426.5 L648.2 427.2 L649.9 427.9 L651.6 428.6 L653.3 429.3 L655.0 430.0 L656.7 430.7 L658.4 431.4 L660.1 432.1 L661.8 432.8 L663.5 433.5 L665.2 434.2 L666.9 434.9 L668.6 435.6 L670.3 436.3 L672.0 437.0 L673.7 437.8 L675.4 438.5 L677.0 439.2 L678.7 439.9 L680.4 440.6 L682.1 441.4 L683.8 442.1 L685.5 442.8 L687.2 443.5 L688.9 444.2 L690.6 445.0 L692.3 445.7 L694.0 446.4 L695.7 447.2 L697.3 447.9 L699.0 448.6 L700.7 449.3 L702.4 450.1 L704.1 450.8 L705.8 451.5 L707.5 452.3 L709.2 453.0 L710.9 453.7 L712.5 454.5 L714.2 455.2 L715.9 455.9 L717.6 456.7 L719.3 457.4 L721.0 458.1 L722.7 458.9 L724.4 459.6 L726.1 460.3 L727.8 461.1 L729.5 461.8 L731.1 462.6 L732.8 463.3 L734.5 464.0 L736.2 464.8 L737.9 465.5 L739.6 466.2 L741.3 466.9 L743.0 467.7 L744.7 468.4 L746.4 469.1 L748.1 469.9 L749.8 470.6 L751.5 471.3 L753.1 472.1 L754.8 472.8 L756.5 473.5 L758.2 474.2 L759.9 475.0 L761.6 475.7 L763.3 476.4 L765.0 477.1 L766.7 477.8 L768.4 478.6 L770.1 479.3 L771.8 480.0 L773.5 480.7 L775.2 481.4 L776.9 482.1 L778.6 482.8 L780.3 483.5 L782.0 484.2 L783.7 484.9 L785.4 485.6 L787.2 486.3" stroke="#000" stroke-width="1.15"/>
<path d="M81.0 707.6 L81.7 706.0 L82.5 704.3 L83.2 702.6 L84.0 700.9 L84.7 699.2 L85.4 697.6 L86.1 695.9 L86.9 694.2 L87.6 692.5 L88.3 690.8 L89.1 689.2 L89.8 687.5 L90.5 685.8 L91.2 684.2 L91.9 682.5 L92.7 680.8 L93.4 679.1 L94.1 677.5 L94.8 675.8 L95.5 674.1 L96.3 672.5 L97.0 670.8 L97.7 669.1 L98.4 667.5 L99.1 665.8 L99.9 664.2 L100.6 662.5 L101.3 660.8 L102.0 659.2 L102.7 657.5 L103.4 655.9 L104.2 654.2 L104.9 652.5 L105.6 650.9 L106.3 649.2 L107.0 647.6 L107.7 645.9 L108.5 644.3 L109.2 642.6 L109.9 640.9 L110.6 639.3 L111.3 637.6 L112.0 636.0 L112.8 634.3 L113.5 632.7 L114.2 631.0 L114.9 629.4 L115.6 627.7 L116.4 626.1 L117.1 624.4 L117.8 622.8 L118.5 621.1 L119.3 619.5 L120.0 617.8 L120.7 616.2 L121.4 614.6 L122.2 612.9 L122.9 611.3 L123.6 609.6 L124.3 608.0 L125.1 606.3 L125.8 604.7 L126.5 603.0 L127.3 601.4 L128.0 599.8 L128.8 598.1 L129.5 596.5 L130.2 594.8 L131.0 593.2 L131.7 591.5 L132.5 589.9 L133.2 588.3 L134.0 586.6 L134.7 585.0 L135.5 583.3 L136.2 581.7 L137.0 580.0 L137.7 578.4 L138.5 576.8 L139.2 575.1 L140.0 573.5 L140.8 571.8 L141.5 570.2 L142.3 568.6 L143.1 566.9 L143.8 565.3 L144.6 563.6 L145.4 562.0 L146.2 560.4 L147.0 558.7 L147.7 557.1 L148.5 555.4 L149.3 553.8 L150.1 552.2 L150.9 550.5 L151.7 548.9 L152.5 547.2 L153.3 545.6 L154.1 544.0 L154.9 542.3 L155.7 540.7 L156.5 539.1 L157.4 537.4 L158.2 535.8 L159.0 534.2 L159.8 532.6 L160.7 530.9 L161.5 529.3 L162.3 527.7 L163.2 526.1 L164.0 524.5 L164.9 522.8 L165.7 521.2 L166.6 519.6 L167.5 518.0 L168.3 516.4 L169.2 514.8 L170.1 513.2 L171.0 511.6 L171.9 510.0 L172.7 508.4 L173.6 506.9 L174.5 505.3 L175.5 503.7 L176.4 502.1 L177.3 500.5 L178.2 499.0 L179.1 497.4 L180.1 495.8 L181.0 494.3 L182.0 492.7 L182.9 491.2 L183.9 489.6 L184.8 488.1 L185.8 486.6 L186.8 485.0 L187.7 483.5 L188.7 482.0 L189.7 480.4 L190.7 478.9 L191.7 477.4 L192.7 475.9 L193.8 474.4 L194.8 472.9 L195.8 471.4 L196.9 470.0 L197.9 468.5 L199.0 467.0 L200.0 465.5 L201.1 464.1 L202.2 462.6 L203.3 461.2 L204.3 459.7 L205.4 458.3 L206.5 456.9 L207.7 455.4 L208.8 454.0 L209.9 452.6 L211.0 451.2 L212.2 449.8 L213.3 448.4 L214.5 447.0 L215.7 445.6 L216.8 444.3 L218.0 442.9 L219.2 441.5 L220.4 440.2 L221.6 438.9 L222.9 437.5 L224.1 436.2 L225.3 434.9 L226.6 433.6 L227.8 432.3 L229.1 431.0 L230.4 429.7 L231.6 428.4 L232.9 427.1 L234.2 425.9 L235.6 424.6 L236.9 423.4 L238.2 422.1 L239.5 420.9 L240.9 419.7 L242.2 418.5 L243.6 417.3 L245.0 416.1 L246.3 414.9 L247.7 413.7 L249.1 412.6 L250.5 411.4 L251.9 410.3 L253.4 409.1 L254.8 408.0 L256.2 406.9 L257.7 405.8 L259.1 404.7 L260.6 403.6 L262.0 402.6 L263.5 401.5 L265.0 400.5 L266.5 399.4 L268.0 398.4 L269.5 397.4 L271.0 396.4 L272.5 395.4 L274.0 394.5 L275.5 393.5 L277.1 392.5 L278.6 391.6 L280.1 390.7 L281.7 389.8 L283.3 388.9 L284.8 388.0 L286.4 387.1 L288.0 386.3 L289.6 385.4 L291.2 384.6 L292.8 383.8 L294.4 383.0 L296.0 382.2 L297.6 381.4 L299.2 380.6 L300.8 379.9 L302.4 379.2 L304.1 378.4 L305.7 377.7 L307.4 377.0 L309.0 376.3 L310.7 375.7 L312.3 375.0 L314.0 374.4 L315.7 373.7 L317.3 373.1 L319.0 372.5 L320.7 371.9 L322.4 371.3 L324.1 370.8 L325.8 370.2 L327.5 369.7 L329.2 369.2 L330.9 368.7 L332.6 368.2 L334.3 367.7 L336.0 367.2 L337.8 366.8 L339.5 366.3 L341.2 365.9 L343.0 365.5 L344.7 365.1 L346.5 364.7 L348.2 364.3 L349.9 363.9 L351.7 363.6 L353.5 363.2 L355.2 362.9 L357.0 362.6 L358.7 362.3 L360.5 362.0 L362.3 361.7 L364.1 361.4 L365.8 361.2 L367.6 360.9 L369.4 360.7 L371.2 360.5 L373.0 360.2 L374.8 360.0 L376.6 359.9 L378.3 359.7 L380.1 359.5 L381.9 359.3 L383.7 359.2 L385.5 359.0 L387.3 358.9 L389.2 358.8 L391.0 358.7 L392.8 358.6 L394.6 358.5 L396.4 358.4 L398.2 358.3 L400.0 358.3 L401.8 358.2 L403.7 358.2 L405.5 358.1 L407.3 358.1 L409.1 358.1 L410.9 358.1 L412.8 358.1 L414.6 358.1 L416.4 358.1 L418.2 358.1 L420.1 358.2 L421.9 358.2 L423.7 358.3 L425.6 358.3 L427.4 358.4 L429.2 358.5 L431.0 358.5 L432.9 358.6 L434.7 358.7 L436.5 358.8 L438.4 358.9 L440.2 359.1 L442.0 359.2 L443.9 359.3 L445.7 359.5 L447.5 359.6 L449.4 359.8 L451.2 359.9 L453.0 360.1 L454.8 360.3 L456.7 360.4 L458.5 360.6 L460.3 360.8 L462.1 361.0 L464.0 361.2 L465.8 361.4 L467.6 361.6 L469.4 361.8 L471.3 362.1 L473.1 362.3 L474.9 362.5 L476.7 362.8 L478.5 363.0 L480.3 363.3 L482.1 363.5 L484.0 363.8 L485.8 364.1 L487.6 364.3 L489.4 364.6 L491.2 364.9 L493.0 365.2 L494.8 365.4 L496.6 365.7 L498.4 366.0 L500.2 366.3 L502.0 366.6 L503.8 366.9 L505.6 367.3 L507.4 367.6 L509.2 367.9 L510.9 368.2 L512.7 368.5 L514.5 368.9 L516.3 369.2 L518.1 369.6 L519.9 369.9 L521.7 370.2 L523.5 370.6 L525.2 370.9 L527.0 371.3 L528.8 371.7 L530.6 372.0 L532.4 372.4 L534.1 372.7 L535.9 373.1 L537.7 373.5 L539.5 373.9 L541.2 374.2 L543.0 374.6 L544.8 375.0 L546.5 375.4 L548.3 375.8 L550.1 376.2 L551.9 376.6 L553.6 377.0 L555.4 377.4 L557.2 377.8 L558.9 378.2 L560.7 378.6 L562.4 379.0 L564.2 379.4 L566.0 379.8 L567.7 380.2 L569.5 380.6 L571.2 381.0 L573.0 381.4 L574.8 381.9 L576.5 382.3 L578.3 382.7 L580.0 383.1 L581.8 383.5 L583.5 384.0 L585.3 384.4 L587.0 384.8 L588.8 385.2 L590.5 385.7 L592.3 386.1 L594.0 386.5 L595.8 387.0 L597.5 387.4 L599.3 387.8 L601.0 388.3 L602.8 388.7 L604.5 389.2 L606.3 389.6 L608.0 390.0 L609.8 390.5 L611.5 390.9 L613.3 391.4 L615.0 391.8 L616.7 392.3 L618.5 392.7 L620.2 393.2 L622.0 393.6 L623.7 394.1 L625.4 394.5 L627.2 395.0 L628.9 395.5 L630.7 395.9 L632.4 396.4 L634.1 396.8 L635.9 397.3 L637.6 397.8 L639.4 398.2 L641.1 398.7 L642.8 399.2 L644.6 399.6 L646.3 400.1 L648.0 400.6 L649.8 401.1 L651.5 401.5 L653.3 402.0 L655.0 402.5 L656.7 403.0 L658.5 403.5 L660.2 403.9 L661.9 404.4 L663.7 404.9 L665.4 405.4 L667.1 405.9 L668.9 406.4 L670.6 406.8 L672.3 407.3 L674.1 407.8 L675.8 408.3 L677.5 408.8 L679.3 409.3 L681.0 409.8 L682.8 410.3 L684.5 410.8 L686.2 411.3 L688.0 411.8 L689.7 412.3 L691.4 412.8 L693.2 413.3 L694.9 413.8 L696.6 414.3 L698.4 414.8 L700.1 415.3 L701.8 415.8 L703.6 416.3 L705.3 416.8 L707.0 417.3 L708.8 417.9 L710.5 418.4 L712.2 418.9 L714.0 419.4 L715.7 419.9 L717.5 420.4 L719.2 420.9 L720.9 421.5 L722.7 422.0 L724.4 422.5 L726.1 423.0 L727.9 423.5 L729.6 424.0 L731.4 424.6 L733.1 425.1 L734.8 425.6 L736.6 426.1 L738.3 426.7 L740.1 427.2 L741.8 427.7 L743.5 428.2 L745.3 428.8 L747.0 429.3 L748.8 429.8 L750.5 430.3 L752.3 430.9 L754.0 431.4 L755.7 431.9 L757.5 432.5 L759.2 433.0 L761.0 433.5 L762.7 434.1 L764.5 434.6 L766.2 435.1 L768.0 435.7 L769.7 436.2 L771.5 436.7 L773.2 437.3 L775.0 437.8 L776.7 438.4 L778.5 438.9 L780.2 439.4 L782.0 440.0 L783.7 440.5 L785.5 441.0 L787.2 441.6" stroke="#ff0000" stroke-width="1.5" stroke-dasharray="11.6 7.7" stroke-dashoffset="-9"/>
<path d="M266.0 741.6 L266.7 739.6 L267.4 737.7 L268.2 735.7 L268.9 733.8 L269.6 731.8 L270.3 729.9 L271.0 727.9 L271.7 726.0 L272.5 724.1 L273.2 722.1 L273.9 720.2 L274.6 718.2 L275.4 716.3 L276.1 714.3 L276.9 712.4 L277.6 710.4 L278.3 708.5 L279.1 706.6 L279.8 704.6 L280.6 702.7 L281.3 700.7 L282.1 698.8 L282.8 696.9 L283.6 694.9 L284.4 693.0 L285.1 691.0 L285.9 689.1 L286.7 687.2 L287.4 685.2 L288.2 683.3 L289.0 681.4 L289.8 679.4 L290.5 677.5 L291.3 675.5 L292.1 673.6 L292.9 671.7 L293.7 669.8 L294.5 667.8 L295.3 665.9 L296.1 664.0 L296.9 662.0 L297.7 660.1 L298.5 658.2 L299.4 656.3 L300.2 654.3 L301.0 652.4 L301.8 650.5 L302.6 648.6 L303.5 646.7 L304.3 644.8 L305.1 642.8 L306.0 640.9 L306.8 639.0 L307.7 637.1 L308.5 635.2 L309.4 633.3 L310.2 631.4 L311.1 629.5 L312.0 627.6 L312.8 625.7 L313.7 623.8 L314.6 621.9 L315.4 620.0 L316.3 618.1 L317.2 616.2 L318.1 614.3 L319.0 612.4 L319.9 610.5 L320.8 608.6 L321.7 606.7 L322.6 604.9 L323.5 603.0 L324.4 601.1 L325.3 599.2 L326.2 597.3 L327.2 595.5 L328.1 593.6 L329.0 591.7 L330.0 589.9 L330.9 588.0 L331.8 586.1 L332.8 584.3 L333.7 582.4 L334.7 580.6 L335.7 578.7 L336.6 576.9 L337.6 575.0 L338.6 573.2 L339.5 571.3 L340.5 569.5 L341.5 567.6 L342.5 565.8 L343.5 564.0 L344.5 562.1 L345.5 560.3 L346.5 558.5 L347.5 556.6 L348.5 554.8 L349.5 553.0 L350.5 551.2 L351.5 549.4 L352.6 547.5 L353.6 545.7 L354.6 543.9 L355.7 542.1 L356.7 540.3 L357.8 538.5 L358.8 536.7 L359.9 534.9 L361.0 533.2 L362.0 531.4 L363.1 529.6 L364.2 527.8 L365.3 526.0 L366.3 524.2 L367.4 522.5 L368.5 520.7 L369.6 518.9 L370.7 517.2 L371.8 515.4 L373.0 513.7 L374.1 511.9 L375.2 510.2 L376.3 508.4 L377.5 506.7 L378.6 504.9 L379.7 503.2 L380.9 501.5 L382.1 499.7 L383.2 498.0 L384.4 496.3 L385.5 494.6 L386.7 492.9 L387.9 491.1 L389.1 489.4 L390.3 487.7 L391.5 486.0 L392.7 484.3 L393.9 482.6 L395.1 481.0 L396.3 479.3 L397.5 477.6 L398.7 475.9 L400.0 474.2 L401.2 472.6 L402.4 470.9 L403.7 469.2 L404.9 467.6 L406.2 465.9 L407.4 464.3 L408.7 462.6 L410.0 461.0 L411.3 459.4 L412.6 457.7 L413.8 456.1 L415.1 454.5 L416.4 452.8 L417.7 451.2 L419.1 449.6 L420.4 448.0 L421.7 446.4 L423.0 444.8 L424.4 443.2 L425.7 441.6 L427.0 440.0 L428.4 438.4 L429.7 436.9 L431.1 435.3 L432.5 433.7 L433.9 432.2 L435.2 430.6 L436.6 429.1 L438.0 427.5 L439.4 426.0 L440.8 424.4 L442.2 422.9 L443.6 421.3 L445.1 419.8 L446.5 418.3 L447.9 416.8 L449.4 415.3 L450.8 413.8 L452.3 412.3 L453.7 410.8 L455.2 409.3 L456.7 407.8 L458.1 406.3 L459.6 404.8 L461.1 403.4 L462.6 401.9 L464.1 400.5 L465.6 399.0 L467.1 397.6 L468.6 396.1 L470.2 394.7 L471.7 393.3 L473.2 391.8 L474.8 390.4 L476.3 389.0 L477.9 387.6 L479.5 386.2 L481.0 384.8 L482.6 383.4 L484.2 382.1 L485.8 380.7 L487.4 379.3 L489.0 378.0 L490.6 376.6 L492.2 375.3 L493.9 373.9 L495.5 372.6 L497.1 371.3 L498.8 370.0 L500.4 368.7 L502.1 367.4 L503.8 366.1 L505.4 364.8 L507.1 363.5 L508.8 362.2 L510.5 361.0 L512.2 359.7 L513.9 358.5 L515.6 357.2 L517.3 356.0 L519.1 354.8 L520.8 353.6 L522.5 352.4 L524.3 351.2 L526.0 350.0 L527.8 348.8 L529.6 347.6 L531.3 346.5 L533.1 345.4 L534.9 344.2 L536.7 343.1 L538.5 342.1 L540.3 341.0 L542.2 339.9 L544.0 338.9 L545.8 337.9 L547.7 336.9 L549.5 336.0 L551.4 335.0 L553.2 334.1 L555.1 333.2 L557.0 332.4 L558.9 331.5 L560.8 330.7 L562.7 329.9 L564.6 329.2 L566.5 328.5 L568.4 327.8 L570.3 327.1 L572.3 326.5 L574.2 325.9 L576.2 325.4 L578.1 324.9 L580.1 324.4 L582.1 324.0 L584.1 323.6 L586.1 323.2 L588.1 322.9 L590.1 322.7 L592.1 322.4 L594.1 322.2 L596.2 322.1 L598.2 322.0 L600.2 322.0 L602.3 322.0 L604.4 322.0 L606.4 322.1 L608.5 322.3 L610.6 322.5 L612.7 322.7 L614.8 323.0 L616.8 323.4 L618.9 323.8 L621.0 324.2 L623.0 324.7 L625.1 325.3 L627.1 325.8 L629.1 326.5 L631.1 327.2 L633.1 327.9 L635.1 328.7 L637.0 329.5 L639.0 330.3 L640.8 331.3 L642.7 332.2 L644.5 333.2 L646.3 334.3 L648.1 335.3 L649.8 336.5 L651.6 337.6 L653.2 338.8 L654.9 340.1 L656.5 341.3 L658.1 342.7 L659.7 344.0 L661.2 345.4 L662.7 346.8 L664.2 348.2 L665.7 349.7 L667.1 351.2 L668.5 352.7 L669.9 354.2 L671.2 355.8 L672.5 357.4 L673.8 359.0 L675.1 360.6 L676.3 362.3 L677.5 364.0 L678.7 365.7 L679.9 367.4 L681.0 369.1 L682.1 370.8 L683.2 372.6 L684.3 374.4 L685.3 376.2 L686.3 378.0 L687.3 379.8 L688.3 381.6 L689.3 383.5 L690.2 385.4 L691.2 387.2 L692.1 389.1 L693.0 391.0 L693.9 392.9 L694.7 394.8 L695.6 396.8 L696.4 398.7 L697.2 400.6 L698.0 402.6 L698.8 404.5 L699.6 406.5 L700.4 408.5 L701.2 410.4 L701.9 412.4 L702.7 414.4 L703.4 416.4 L704.1 418.4 L704.9 420.3 L705.6 422.3 L706.3 424.3 L707.0 426.3 L707.7 428.3 L708.4 430.3 L709.0 432.3 L709.7 434.3 L710.4 436.3 L711.0 438.3 L711.7 440.2 L712.3 442.2 L713.0 444.2 L713.6 446.2 L714.2 448.2 L714.9 450.2 L715.5 452.2 L716.1 454.2 L716.7 456.2 L717.3 458.3 L717.9 460.3 L718.5 462.3 L719.0 464.3 L719.6 466.3 L720.2 468.3 L720.7 470.3 L721.3 472.3 L721.8 474.3 L722.4 476.3 L722.9 478.3 L723.4 480.4 L724.0 482.4 L724.5 484.4 L725.0 486.4 L725.5 488.4 L726.0 490.5 L726.5 492.5 L727.0 494.5 L727.5 496.5 L728.0 498.5 L728.5 500.6 L729.0 502.6 L729.4 504.6 L729.9 506.6 L730.4 508.7 L730.8 510.7 L731.3 512.7 L731.7 514.7 L732.1 516.8 L732.6 518.8 L733.0 520.8 L733.4 522.9 L733.9 524.9 L734.3 526.9 L734.7 529.0 L735.1 531.0 L735.5 533.1 L735.9 535.1 L736.3 537.1 L736.7 539.2 L737.1 541.2 L737.5 543.2 L737.9 545.3 L738.2 547.3 L738.6 549.4 L739.0 551.4 L739.3 553.5 L739.7 555.5 L740.1 557.5 L740.4 559.6 L740.8 561.6 L741.1 563.7 L741.4 565.7 L741.8 567.8 L742.1 569.8 L742.5 571.9 L742.8 573.9 L743.1 576.0 L743.4 578.0 L743.8 580.1 L744.1 582.1 L744.4 584.2 L744.7 586.3 L745.0 588.3 L745.3 590.4 L745.6 592.4 L745.9 594.5 L746.2 596.5 L746.5 598.6 L746.8 600.7 L747.1 602.7 L747.4 604.8 L747.7 606.8 L747.9 608.9 L748.2 611.0 L748.5 613.0 L748.8 615.1 L749.0 617.1 L749.3 619.2 L749.6 621.3 L749.8 623.3 L750.1 625.4 L750.4 627.5 L750.6 629.5 L750.9 631.6 L751.1 633.7 L751.4 635.7 L751.6 637.8 L751.9 639.9 L752.1 641.9 L752.4 644.0 L752.6 646.1 L752.9 648.2 L753.1 650.2 L753.4 652.3 L753.6 654.4 L753.8 656.4 L754.1 658.5 L754.3 660.6 L754.5 662.7 L754.8 664.7 L755.0 666.8 L755.2 668.9 L755.5 671.0 L755.7 673.0 L755.9 675.1 L756.1 677.2 L756.4 679.3 L756.6 681.3 L756.8 683.4 L757.1 685.5 L757.3 687.6 L757.5 689.6 L757.7 691.7 L757.9 693.8 L758.2 695.9 L758.4 698.0 L758.6 700.0 L758.8 702.1 L759.0 704.2 L759.3 706.3 L759.5 708.4 L759.7 710.4 L759.9 712.5 L760.1 714.6 L760.4 716.7 L760.6 718.8 L760.8 720.8 L761.0 722.9 L761.2 725.0 L761.5 727.1 L761.7 729.2 L761.9 731.3 L762.1 733.3 L762.4 735.4 L762.6 737.5 L762.8 739.6 L763.0 741.7" stroke="#ff0000" stroke-width="1.5" stroke-dasharray="28 8" stroke-dashoffset="-3"/>
<path d="M81.4 707.7 L82.1 705.9 L82.9 704.1 L83.6 702.3 L84.4 700.5 L85.1 698.7 L85.9 696.9 L86.6 695.1 L87.4 693.3 L88.1 691.5 L88.9 689.7 L89.6 687.8 L90.4 686.0 L91.1 684.2 L91.9 682.4 L92.6 680.6 L93.4 678.8 L94.2 677.0 L94.9 675.2 L95.7 673.4 L96.4 671.6 L97.2 669.9 L97.9 668.1 L98.7 666.3 L99.5 664.5 L100.2 662.7 L101.0 660.9 L101.8 659.1 L102.5 657.3 L103.3 655.5 L104.1 653.7 L104.8 651.9 L105.6 650.1 L106.4 648.4 L107.1 646.6 L107.9 644.8 L108.7 643.0 L109.5 641.2 L110.2 639.4 L111.0 637.6 L111.8 635.9 L112.6 634.1 L113.4 632.3 L114.1 630.5 L114.9 628.7 L115.7 627.0 L116.5 625.2 L117.3 623.4 L118.1 621.6 L118.9 619.9 L119.6 618.1 L120.4 616.3 L121.2 614.5 L122.0 612.8 L122.8 611.0 L123.6 609.2 L124.4 607.4 L125.2 605.7 L126.0 603.9 L126.8 602.1 L127.6 600.4 L128.5 598.6 L129.3 596.8 L130.1 595.1 L130.9 593.3 L131.7 591.5 L132.5 589.8 L133.3 588.0 L134.2 586.2 L135.0 584.5 L135.8 582.7 L136.6 581.0 L137.5 579.2 L138.3 577.4 L139.1 575.7 L140.0 573.9 L140.8 572.2 L141.6 570.4 L142.5 568.7 L143.3 566.9 L144.2 565.2 L145.0 563.4 L145.9 561.6 L146.7 559.9 L147.6 558.1 L148.4 556.4 L149.3 554.6 L150.1 552.9 L151.0 551.1 L151.9 549.4 L152.7 547.6 L153.6 545.9 L154.5 544.2 L155.4 542.4 L156.2 540.7 L157.1 538.9 L158.0 537.2 L158.9 535.4 L159.8 533.7 L160.7 532.0 L161.5 530.2 L162.4 528.5 L163.3 526.7 L164.2 525.0 L165.1 523.3 L166.1 521.5 L167.0 519.8 L167.9 518.1 L168.8 516.4 L169.7 514.6 L170.7 512.9 L171.6 511.2 L172.5 509.5 L173.5 507.8 L174.4 506.1 L175.4 504.4 L176.3 502.7 L177.3 501.0 L178.3 499.3 L179.3 497.6 L180.2 495.9 L181.2 494.2 L182.2 492.5 L183.2 490.9 L184.2 489.2 L185.3 487.5 L186.3 485.9 L187.3 484.2 L188.3 482.6 L189.4 480.9 L190.4 479.3 L191.5 477.6 L192.6 476.0 L193.6 474.4 L194.7 472.8 L195.8 471.2 L196.9 469.6 L198.0 468.0 L199.2 466.4 L200.3 464.8 L201.4 463.2 L202.6 461.7 L203.7 460.1 L204.9 458.5 L206.1 457.0 L207.2 455.4 L208.4 453.9 L209.6 452.4 L210.8 450.9 L212.1 449.4 L213.3 447.9 L214.6 446.4 L215.8 444.9 L217.1 443.4 L218.3 442.0 L219.6 440.5 L220.9 439.1 L222.2 437.6 L223.6 436.2 L224.9 434.8 L226.2 433.3 L227.6 431.9 L228.9 430.5 L230.3 429.2 L231.6 427.8 L233.0 426.4 L234.4 425.0 L235.8 423.7 L237.2 422.3 L238.6 421.0 L240.1 419.7 L241.5 418.4 L242.9 417.1 L244.4 415.8 L245.9 414.5 L247.3 413.2 L248.8 411.9 L250.3 410.7 L251.8 409.4 L253.3 408.2 L254.8 406.9 L256.3 405.7 L257.8 404.5 L259.4 403.3 L260.9 402.1 L262.5 400.9 L264.0 399.8 L265.6 398.6 L267.2 397.4 L268.7 396.3 L270.3 395.2 L271.9 394.0 L273.5 392.9 L275.1 391.8 L276.7 390.7 L278.3 389.6 L280.0 388.6 L281.6 387.5 L283.2 386.4 L284.9 385.4 L286.5 384.4 L288.2 383.3 L289.9 382.3 L291.5 381.3 L293.2 380.3 L294.9 379.4 L296.6 378.4 L298.3 377.4 L300.0 376.5 L301.7 375.5 L303.4 374.6 L305.1 373.7 L306.8 372.8 L308.5 371.9 L310.3 371.0 L312.0 370.1 L313.7 369.3 L315.5 368.4 L317.2 367.6 L319.0 366.8 L320.8 366.0 L322.5 365.1 L324.3 364.4 L326.1 363.6 L327.8 362.8 L329.6 362.0 L331.4 361.3 L333.2 360.5 L335.0 359.8 L336.8 359.1 L338.6 358.4 L340.4 357.7 L342.2 357.0 L344.0 356.3 L345.8 355.6 L347.7 355.0 L349.5 354.3 L351.3 353.6 L353.1 353.0 L355.0 352.3 L356.8 351.7 L358.6 351.1 L360.5 350.5 L362.3 349.8 L364.2 349.2 L366.0 348.6 L367.9 348.0 L369.7 347.4 L371.6 346.8 L373.4 346.2 L375.3 345.6 L377.1 345.1 L379.0 344.5 L380.9 343.9 L382.7 343.3 L384.6 342.7 L386.5 342.2 L388.3 341.6 L390.2 341.0 L392.1 340.5 L393.9 339.9 L395.8 339.3 L397.7 338.8 L399.6 338.2 L401.4 337.7 L403.3 337.1 L405.2 336.5 L407.1 336.0 L409.0 335.4 L410.8 334.9 L412.7 334.3 L414.6 333.8 L416.5 333.2 L418.4 332.6 L420.2 332.1 L422.1 331.5 L424.0 331.0 L425.9 330.4 L427.8 329.9 L429.6 329.3 L431.5 328.7 L433.4 328.2 L435.3 327.6 L437.1 327.1 L439.0 326.5 L440.9 325.9 L442.7 325.4 L444.6 324.8 L446.5 324.2 L448.4 323.7 L450.2 323.1 L452.1 322.5 L453.9 321.9 L455.8 321.4 L457.7 320.8 L459.5 320.2 L461.4 319.6 L463.2 319.0 L465.1 318.4 L466.9 317.8 L468.8 317.2 L470.6 316.6 L472.4 316.0 L474.3 315.4 L476.1 314.8 L478.0 314.2 L479.8 313.6 L481.6 313.0 L483.5 312.4 L485.3 311.8 L487.1 311.2 L489.0 310.5 L490.8 309.9 L492.6 309.3 L494.5 308.7 L496.3 308.1 L498.2 307.5 L500.0 306.9 L501.8 306.3 L503.7 305.8 L505.5 305.2 L507.4 304.6 L509.2 304.0 L511.1 303.4 L512.9 302.9 L514.8 302.3 L516.6 301.8 L518.5 301.2 L520.3 300.7 L522.2 300.1 L524.1 299.6 L526.0 299.1 L527.8 298.6 L529.7 298.1 L531.6 297.6 L533.5 297.1 L535.4 296.6 L537.3 296.2 L539.2 295.7 L541.1 295.3 L543.0 294.8 L544.9 294.4 L546.9 294.0 L548.8 293.6 L550.8 293.2 L552.7 292.8 L554.7 292.4 L556.6 292.1 L558.6 291.7 L560.5 291.4 L562.5 291.1 L564.5 290.8 L566.4 290.6 L568.4 290.3 L570.4 290.0 L572.4 289.8 L574.3 289.6 L576.3 289.4 L578.3 289.3 L580.3 289.1 L582.2 289.0 L584.2 288.9 L586.2 288.8 L588.1 288.7 L590.1 288.7 L592.1 288.6 L594.0 288.6 L596.0 288.7 L597.9 288.7 L599.9 288.8 L601.8 288.9 L603.7 289.0 L605.7 289.1 L607.6 289.3 L609.5 289.5 L611.4 289.7 L613.3 290.0 L615.2 290.3 L617.1 290.6 L619.0 290.9 L620.8 291.3 L622.7 291.7 L624.5 292.1 L626.4 292.6 L628.2 293.1 L630.0 293.6 L631.8 294.2 L633.6 294.8 L635.4 295.4 L637.2 296.1 L638.9 296.8 L640.6 297.5 L642.4 298.3 L644.1 299.1 L645.8 299.9 L647.5 300.8 L649.1 301.7 L650.8 302.6 L652.4 303.6 L654.0 304.6 L655.6 305.6 L657.2 306.6 L658.8 307.7 L660.4 308.8 L662.0 310.0 L663.5 311.1 L665.0 312.3 L666.5 313.6 L668.0 314.8 L669.5 316.1 L671.0 317.3 L672.5 318.7 L673.9 320.0 L675.3 321.3 L676.8 322.7 L678.2 324.1 L679.6 325.5 L681.0 326.9 L682.3 328.4 L683.7 329.8 L685.0 331.3 L686.3 332.8 L687.7 334.3 L689.0 335.8 L690.3 337.3 L691.5 338.9 L692.8 340.4 L694.1 342.0 L695.3 343.6 L696.5 345.2 L697.7 346.8 L698.9 348.4 L700.1 350.0 L701.3 351.6 L702.5 353.2 L703.6 354.8 L704.8 356.5 L705.9 358.1 L707.0 359.7 L708.1 361.4 L709.2 363.0 L710.3 364.6 L711.3 366.3 L712.4 367.9 L713.5 369.6 L714.5 371.2 L715.5 372.8 L716.6 374.5 L717.6 376.1 L718.6 377.8 L719.7 379.4 L720.7 381.0 L721.7 382.7 L722.7 384.3 L723.8 385.9 L724.8 387.6 L725.8 389.2 L726.9 390.8 L727.9 392.5 L728.9 394.1 L730.0 395.7 L731.1 397.3 L732.1 398.9 L733.2 400.5 L734.3 402.1 L735.4 403.7 L736.5 405.3 L737.6 406.9 L738.8 408.5 L739.9 410.0 L741.1 411.6 L742.3 413.1 L743.5 414.6 L744.7 416.1 L746.0 417.6 L747.3 419.1 L748.5 420.5 L749.9 421.9 L751.2 423.3 L752.6 424.6 L754.0 425.9 L755.4 427.2 L756.9 428.4 L758.3 429.6 L759.9 430.7 L761.4 431.8 L763.0 432.8 L764.6 433.8 L766.3 434.8 L768.0 435.6 L769.7 436.5 L771.5 437.2 L773.3 437.9 L775.2 438.6 L777.1 439.1 L779.0 439.6 L781.0 440.1 L783.0 440.4 L785.1 440.7 L787.2 440.9" stroke="#ff0000" stroke-width="1.5"/>
<path d="M79.9 707.2 L80.7 705.3 L81.4 703.5 L82.2 701.7 L82.9 699.9 L83.7 698.1 L84.4 696.3 L85.1 694.5 L85.9 692.6 L86.6 690.8 L87.4 689.0 L88.1 687.2 L88.9 685.4 L89.6 683.6 L90.4 681.8 L91.1 680.0 L91.9 678.2 L92.6 676.4 L93.4 674.6 L94.2 672.8 L94.9 671.0 L95.7 669.2 L96.4 667.4 L97.2 665.6 L98.0 663.8 L98.7 662.0 L99.5 660.2 L100.3 658.4 L101.0 656.6 L101.8 654.8 L102.6 653.0 L103.3 651.2 L104.1 649.4 L104.9 647.7 L105.7 645.9 L106.4 644.1 L107.2 642.3 L108.0 640.5 L108.8 638.7 L109.5 636.9 L110.3 635.2 L111.1 633.4 L111.9 631.6 L112.7 629.8 L113.5 628.0 L114.3 626.3 L115.0 624.5 L115.8 622.7 L116.6 620.9 L117.4 619.2 L118.2 617.4 L119.0 615.6 L119.8 613.8 L120.6 612.1 L121.4 610.3 L122.2 608.5 L123.0 606.7 L123.8 605.0 L124.6 603.2 L125.5 601.4 L126.3 599.7 L127.1 597.9 L127.9 596.1 L128.7 594.4 L129.5 592.6 L130.3 590.8 L131.2 589.1 L132.0 587.3 L132.8 585.5 L133.6 583.8 L134.5 582.0 L135.3 580.3 L136.1 578.5 L136.9 576.7 L137.8 575.0 L138.6 573.2 L139.5 571.5 L140.3 569.7 L141.1 568.0 L142.0 566.2 L142.8 564.4 L143.7 562.7 L144.5 560.9 L145.4 559.2 L146.2 557.4 L147.1 555.7 L147.9 553.9 L148.8 552.2 L149.6 550.4 L150.5 548.7 L151.3 546.9 L152.2 545.2 L153.1 543.4 L153.9 541.7 L154.8 539.9 L155.7 538.2 L156.6 536.4 L157.4 534.7 L158.3 532.9 L159.2 531.2 L160.1 529.5 L161.0 527.7 L161.9 526.0 L162.8 524.2 L163.7 522.5 L164.6 520.8 L165.5 519.0 L166.4 517.3 L167.3 515.6 L168.3 513.9 L169.2 512.2 L170.1 510.4 L171.1 508.7 L172.0 507.0 L173.0 505.3 L173.9 503.6 L174.9 501.9 L175.8 500.2 L176.8 498.5 L177.8 496.8 L178.8 495.1 L179.8 493.4 L180.7 491.7 L181.7 490.1 L182.8 488.4 L183.8 486.7 L184.8 485.1 L185.8 483.4 L186.9 481.7 L187.9 480.1 L188.9 478.4 L190.0 476.8 L191.1 475.2 L192.1 473.5 L193.2 471.9 L194.3 470.3 L195.4 468.6 L196.5 467.0 L197.6 465.4 L198.7 463.8 L199.9 462.2 L201.0 460.6 L202.2 459.0 L203.3 457.5 L204.5 455.9 L205.6 454.3 L206.8 452.7 L208.0 451.2 L209.2 449.6 L210.4 448.1 L211.6 446.6 L212.8 445.0 L214.0 443.5 L215.3 442.0 L216.5 440.5 L217.7 439.0 L219.0 437.5 L220.3 436.0 L221.5 434.5 L222.8 433.0 L224.1 431.6 L225.4 430.1 L226.7 428.7 L228.0 427.2 L229.3 425.8 L230.7 424.4 L232.0 422.9 L233.3 421.5 L234.7 420.1 L236.0 418.7 L237.4 417.3 L238.8 416.0 L240.2 414.6 L241.6 413.2 L243.0 411.9 L244.4 410.5 L245.8 409.2 L247.2 407.9 L248.6 406.6 L250.1 405.3 L251.5 404.0 L253.0 402.7 L254.4 401.4 L255.9 400.1 L257.4 398.9 L258.9 397.6 L260.4 396.4 L261.9 395.2 L263.4 394.0 L264.9 392.8 L266.4 391.6 L268.0 390.4 L269.5 389.2 L271.1 388.0 L272.6 386.9 L274.2 385.8 L275.8 384.6 L277.3 383.5 L278.9 382.4 L280.5 381.3 L282.1 380.2 L283.8 379.2 L285.4 378.1 L287.0 377.0 L288.7 376.0 L290.3 375.0 L292.0 374.0 L293.6 373.0 L295.3 372.0 L297.0 371.0 L298.7 370.0 L300.4 369.1 L302.1 368.1 L303.8 367.2 L305.5 366.3 L307.2 365.4 L308.9 364.5 L310.7 363.6 L312.4 362.7 L314.2 361.8 L315.9 360.9 L317.7 360.1 L319.4 359.2 L321.2 358.4 L323.0 357.6 L324.7 356.7 L326.5 355.9 L328.3 355.1 L330.1 354.3 L331.9 353.5 L333.7 352.7 L335.5 351.9 L337.3 351.1 L339.1 350.4 L340.9 349.6 L342.7 348.8 L344.5 348.1 L346.3 347.3 L348.1 346.6 L349.9 345.8 L351.7 345.1 L353.6 344.4 L355.4 343.6 L357.2 342.9 L359.0 342.2 L360.8 341.4 L362.7 340.7 L364.5 340.0 L366.3 339.3 L368.1 338.6 L370.0 337.9 L371.8 337.2 L373.6 336.5 L375.4 335.8 L377.3 335.1 L379.1 334.4 L380.9 333.7 L382.7 333.0 L384.6 332.3 L386.4 331.6 L388.2 331.0 L390.0 330.3 L391.9 329.6 L393.7 328.9 L395.5 328.3 L397.4 327.6 L399.2 326.9 L401.0 326.3 L402.9 325.6 L404.7 325.0 L406.5 324.3 L408.4 323.7 L410.2 323.0 L412.0 322.4 L413.9 321.8 L415.7 321.1 L417.6 320.5 L419.4 319.9 L421.2 319.3 L423.1 318.6 L424.9 318.0 L426.8 317.4 L428.6 316.8 L430.5 316.2 L432.3 315.6 L434.2 315.0 L436.0 314.4 L437.9 313.8 L439.7 313.2 L441.6 312.6 L443.4 312.1 L445.3 311.5 L447.1 310.9 L449.0 310.3 L450.8 309.8 L452.7 309.2 L454.5 308.7 L456.4 308.1 L458.3 307.6 L460.1 307.0 L462.0 306.5 L463.9 305.9 L465.7 305.4 L467.6 304.9 L469.5 304.3 L471.3 303.8 L473.2 303.3 L475.1 302.8 L477.0 302.3 L478.8 301.8 L480.7 301.3 L482.6 300.8 L484.5 300.3 L486.4 299.8 L488.2 299.3 L490.1 298.8 L492.0 298.4 L493.9 297.9 L495.8 297.5 L497.7 297.0 L499.6 296.6 L501.5 296.2 L503.4 295.7 L505.3 295.3 L507.2 294.9 L509.1 294.5 L511.0 294.1 L513.0 293.8 L514.9 293.4 L516.8 293.0 L518.7 292.7 L520.6 292.3 L522.6 292.0 L524.5 291.7 L526.4 291.4 L528.4 291.1 L530.3 290.8 L532.3 290.5 L534.2 290.2 L536.2 289.9 L538.1 289.7 L540.1 289.4 L542.0 289.2 L544.0 289.0 L546.0 288.8 L548.0 288.6 L549.9 288.4 L551.9 288.3 L553.9 288.1 L555.9 288.0 L557.9 287.8 L559.8 287.7 L561.8 287.7 L563.8 287.6 L565.8 287.5 L567.8 287.5 L569.8 287.5 L571.7 287.5 L573.7 287.5 L575.7 287.6 L577.7 287.6 L579.6 287.7 L581.6 287.9 L583.5 288.0 L585.5 288.2 L587.4 288.4 L589.3 288.6 L591.3 288.9 L593.2 289.2 L595.1 289.5 L597.0 289.8 L598.9 290.2 L600.8 290.6 L602.6 291.1 L604.5 291.5 L606.3 292.1 L608.2 292.6 L610.0 293.2 L611.8 293.9 L613.6 294.5 L615.4 295.2 L617.1 296.0 L618.9 296.8 L620.6 297.6 L622.3 298.4 L624.0 299.3 L625.7 300.2 L627.4 301.1 L629.1 302.1 L630.7 303.1 L632.3 304.1 L633.9 305.2 L635.5 306.3 L637.1 307.4 L638.6 308.5 L640.2 309.7 L641.7 310.8 L643.2 312.0 L644.6 313.3 L646.1 314.5 L647.5 315.8 L648.9 317.1 L650.3 318.4 L651.7 319.8 L653.1 321.1 L654.4 322.5 L655.8 323.9 L657.1 325.3 L658.4 326.8 L659.7 328.2 L661.0 329.7 L662.3 331.1 L663.5 332.6 L664.8 334.1 L666.0 335.6 L667.2 337.2 L668.5 338.7 L669.7 340.3 L670.9 341.8 L672.1 343.4 L673.3 345.0 L674.4 346.6 L675.6 348.2 L676.8 349.8 L678.0 351.4 L679.1 353.0 L680.3 354.6 L681.4 356.2 L682.6 357.8 L683.7 359.5 L684.9 361.1 L686.0 362.7 L687.1 364.3 L688.3 366.0 L689.4 367.6 L690.6 369.2 L691.7 370.8 L692.9 372.5 L694.0 374.1 L695.2 375.7 L696.3 377.3 L697.5 378.9 L698.6 380.5 L699.8 382.1 L701.0 383.7 L702.2 385.3 L703.3 386.8 L704.5 388.4 L705.7 389.9 L706.9 391.5 L708.2 393.0 L709.4 394.5 L710.6 396.0 L711.9 397.5 L713.1 399.0 L714.4 400.4 L715.6 401.9 L716.9 403.3 L718.2 404.7 L719.5 406.1 L720.9 407.5 L722.2 408.8 L723.6 410.2 L724.9 411.5 L726.3 412.8 L727.7 414.1 L729.1 415.3 L730.5 416.6 L732.0 417.8 L733.4 419.0 L734.9 420.1 L736.4 421.3 L737.9 422.4 L739.5 423.5 L741.0 424.6 L742.6 425.6 L744.2 426.6 L745.8 427.6 L747.5 428.5 L749.1 429.5 L750.8 430.4 L752.5 431.2 L754.3 432.0 L756.0 432.8 L757.8 433.6 L759.6 434.3 L761.4 435.0 L763.3 435.7 L765.2 436.3 L767.1 436.9 L769.0 437.5 L771.0 438.0 L773.0 438.5 L775.0 438.9 L777.1 439.3 L779.2 439.7 L781.3 440.0 L783.4 440.3 L785.6 440.5 L787.8 440.7" stroke="#0000ff" stroke-width="1.7" stroke-dasharray="20 2.2 2.2 2.2" stroke-dashoffset="1"/>
<g stroke="#0000ff" stroke-width="1.25"><path d="M149.5 464.5 H230.5 M149.5 461.5 V467.5 M230.5 461.5 V467.5"/><path d="M194.5 429.5 V506.5 M191.5 429.5 H197.5 M191.5 506.5 H197.5"/></g>
<circle cx="194.0" cy="464.5" r="4.7" stroke="#0000ff" stroke-width="1"/>
<g stroke="#0000ff" stroke-width="1.25"><path d="M230.5 370.5 H318.5 M230.5 367.5 V373.5 M318.5 367.5 V373.5"/><path d="M274.5 332.5 V411.5 M271.5 332.5 H277.5 M271.5 411.5 H277.5"/></g>
<circle cx="274.8" cy="370.1" r="4.7" stroke="#0000ff" stroke-width="1"/>
<g stroke="#0000ff" stroke-width="1.25"><path d="M318.5 287.5 H372.5 M318.5 284.5 V290.5 M372.5 284.5 V290.5"/><path d="M344.5 216.5 V400.5 M341.5 216.5 H347.5 M341.5 400.5 H347.5"/></g>
<circle cx="344.5" cy="287.7" r="4.7" stroke="#0000ff" stroke-width="1"/>
<g stroke="#0000ff" stroke-width="1.25"><path d="M372.5 182.5 H424.5 M372.5 179.5 V185.5 M424.5 179.5 V185.5"/><path d="M397.5 100.5 V313.5 M394.5 100.5 H400.5 M394.5 313.5 H400.5"/></g>
<circle cx="397.0" cy="182.8" r="4.7" stroke="#0000ff" stroke-width="1"/>
<g stroke="#ff00ff" stroke-width="1.25"><path d="M259.5 385.5 H307.5 M259.5 382.5 V388.5 M307.5 382.5 V388.5"/><path d="M283.5 384.5 V387.5 M280.5 384.5 H286.5 M280.5 387.5 H286.5"/></g>
<path d="M283.5 380.9 L284.5 382.7 L286.3 381.8 L286.1 383.8 L288.1 384.2 L286.7 385.7 L288.1 387.2 L286.1 387.6 L286.3 389.6 L284.5 388.7 L283.5 390.5 L282.5 388.7 L280.7 389.6 L280.9 387.6 L278.9 387.2 L280.3 385.7 L278.9 384.2 L280.9 383.8 L280.7 381.8 L282.5 382.7 Z" fill="#ff00ff" stroke="#ff00ff" stroke-width="0.6"/>
<g stroke="#ff00ff" stroke-width="1.25"><path d="M307.5 361.5 H355.5 M307.5 358.5 V364.5 M355.5 358.5 V364.5"/><path d="M331.5 360.5 V363.5 M328.5 360.5 H334.5 M328.5 363.5 H334.5"/></g>
<path d="M331.3 356.9 L332.3 358.7 L334.1 357.8 L333.9 359.8 L335.9 360.2 L334.5 361.7 L335.9 363.2 L333.9 363.6 L334.1 365.6 L332.3 364.7 L331.3 366.5 L330.3 364.7 L328.5 365.6 L328.7 363.6 L326.7 363.2 L328.1 361.7 L326.7 360.2 L328.7 359.8 L328.5 357.8 L330.3 358.7 Z" fill="#ff00ff" stroke="#ff00ff" stroke-width="0.6"/>
<g stroke="#ff00ff" stroke-width="1.25"><path d="M355.5 345.5 H402.5 M355.5 342.5 V348.5 M402.5 342.5 V348.5"/><path d="M378.5 342.5 V347.5 M375.5 342.5 H381.5 M375.5 347.5 H381.5"/></g>
<path d="M378.7 340.2 L379.7 342.0 L381.5 341.1 L381.3 343.1 L383.3 343.5 L381.9 345.0 L383.3 346.5 L381.3 346.9 L381.5 348.9 L379.7 348.0 L378.7 349.8 L377.7 348.0 L375.9 348.9 L376.1 346.9 L374.1 346.5 L375.5 345.0 L374.1 343.5 L376.1 343.1 L375.9 341.1 L377.7 342.0 Z" fill="#ff00ff" stroke="#ff00ff" stroke-width="0.6"/>
<g stroke="#ff00ff" stroke-width="1.25"><path d="M402.5 331.5 H449.5 M402.5 328.5 V334.5 M449.5 328.5 V334.5"/><path d="M425.5 325.5 V337.5 M422.5 325.5 H428.5 M422.5 337.5 H428.5"/></g>
<path d="M425.7 326.2 L426.7 328.0 L428.5 327.1 L428.3 329.1 L430.3 329.5 L428.9 331.0 L430.3 332.5 L428.3 332.9 L428.5 334.9 L426.7 334.0 L425.7 335.8 L424.7 334.0 L422.9 334.9 L423.1 332.9 L421.1 332.5 L422.5 331.0 L421.1 329.5 L423.1 329.1 L422.9 327.1 L424.7 328.0 Z" fill="#ff00ff" stroke="#ff00ff" stroke-width="0.6"/>
<g stroke="#ff00ff" stroke-width="1.25"><path d="M449.5 316.5 H496.5 M449.5 313.5 V319.5 M496.5 313.5 V319.5"/><path d="M472.5 308.5 V326.5 M469.5 308.5 H475.5 M469.5 326.5 H475.5"/></g>
<path d="M472.7 312.1 L473.7 313.9 L475.5 313.0 L475.3 315.0 L477.3 315.4 L475.9 316.9 L477.3 318.4 L475.3 318.8 L475.5 320.8 L473.7 319.9 L472.7 321.7 L471.7 319.9 L469.9 320.8 L470.1 318.8 L468.1 318.4 L469.5 316.9 L468.1 315.4 L470.1 315.0 L469.9 313.0 L471.7 313.9 Z" fill="#ff00ff" stroke="#ff00ff" stroke-width="0.6"/>
<g stroke="#ff00ff" stroke-width="1.25"><path d="M496.5 302.5 H542.5 M496.5 299.5 V305.5 M542.5 299.5 V305.5"/><path d="M519.5 289.5 V316.5 M516.5 289.5 H522.5 M516.5 316.5 H522.5"/></g>
<path d="M519.4 297.4 L520.4 299.2 L522.2 298.3 L522.0 300.3 L524.0 300.7 L522.6 302.2 L524.0 303.7 L522.0 304.1 L522.2 306.1 L520.4 305.2 L519.4 307.0 L518.4 305.2 L516.6 306.1 L516.8 304.1 L514.8 303.7 L516.2 302.2 L514.8 300.7 L516.8 300.3 L516.6 298.3 L518.4 299.2 Z" fill="#ff00ff" stroke="#ff00ff" stroke-width="0.6"/>
<g stroke="#00ff00" stroke-width="1.25"><path d="M542.5 291.5 H589.5 M542.5 288.5 V294.5 M589.5 288.5 V294.5"/><path d="M565.5 285.5 V296.5 M562.5 285.5 H568.5 M562.5 296.5 H568.5"/></g>
<path d="M565.8 285.8 L567.1 287.9 L569.5 287.3 L568.9 289.7 L571.0 291.0 L568.9 292.3 L569.5 294.7 L567.1 294.1 L565.8 296.2 L564.5 294.1 L562.1 294.7 L562.7 292.3 L560.6 291.0 L562.7 289.7 L562.1 287.3 L564.5 287.9 Z" fill="#00ff00" stroke="#00ff00" stroke-width="0.6"/>
<g stroke="#00ff00" stroke-width="1.25"><path d="M589.5 289.5 H635.5 M589.5 286.5 V292.5 M635.5 286.5 V292.5"/><path d="M612.5 282.5 V298.5 M609.5 282.5 H615.5 M609.5 298.5 H615.5"/></g>
<path d="M612.3 284.6 L613.6 286.7 L616.0 286.1 L615.4 288.5 L617.5 289.8 L615.4 291.1 L616.0 293.5 L613.6 292.9 L612.3 295.0 L611.0 292.9 L608.6 293.5 L609.2 291.1 L607.1 289.8 L609.2 288.5 L608.6 286.1 L611.0 286.7 Z" fill="#00ff00" stroke="#00ff00" stroke-width="0.6"/>
<g stroke="#00ff00" stroke-width="1.25"><path d="M635.5 308.5 H682.5 M635.5 305.5 V311.5 M682.5 305.5 V311.5"/><path d="M658.5 294.5 V323.5 M655.5 294.5 H661.5 M655.5 323.5 H661.5"/></g>
<path d="M658.8 303.0 L660.1 305.1 L662.5 304.5 L661.9 306.9 L664.0 308.2 L661.9 309.5 L662.5 311.9 L660.1 311.3 L658.8 313.4 L657.5 311.3 L655.1 311.9 L655.7 309.5 L653.6 308.2 L655.7 306.9 L655.1 304.5 L657.5 305.1 Z" fill="#00ff00" stroke="#00ff00" stroke-width="0.6"/>
<g stroke="#00ff00" stroke-width="1.25"><path d="M682.5 358.5 H728.5 M682.5 355.5 V361.5 M728.5 355.5 V361.5"/><path d="M705.5 333.5 V395.5 M702.5 333.5 H708.5 M702.5 395.5 H708.5"/></g>
<path d="M705.3 353.6 L706.6 355.7 L709.0 355.1 L708.4 357.5 L710.5 358.8 L708.4 360.1 L709.0 362.5 L706.6 361.9 L705.3 364.0 L704.0 361.9 L701.6 362.5 L702.2 360.1 L700.1 358.8 L702.2 357.5 L701.6 355.1 L704.0 355.7 Z" fill="#00ff00" stroke="#00ff00" stroke-width="0.6"/>
<path d="M566 462.7 H681" stroke="#ff0000" stroke-width="1.5" stroke-dasharray="11.6 7.7"/>
<path d="M566 502.6 H682" stroke="#ff0000" stroke-width="1.5" stroke-dasharray="28 8"/>
<path d="M566 542.4 H682" stroke="#ff0000" stroke-width="1.5"/>
<path d="M566 582.1 H682" stroke="#0000ff" stroke-width="1.6" stroke-dasharray="20 2.2 2.2 2.2"/>
</g>
<path d="M102.1 741.2 v-6.0 M102.1 45.0 v6.0 M142.9 741.2 v-6.0 M142.9 45.0 v6.0 M172.0 741.2 v-6.0 M172.0 45.0 v6.0 M194.5 741.2 v-6.0 M194.5 45.0 v6.0 M212.8 741.2 v-6.0 M212.8 45.0 v6.0 M228.4 741.2 v-6.0 M228.4 45.0 v6.0 M241.9 741.2 v-6.0 M241.9 45.0 v6.0 M253.7 741.2 v-6.0 M253.7 45.0 v6.0 M264.4 741.2 v-12.0 M264.4 45.0 v12.0 M334.3 741.2 v-6.0 M334.3 45.0 v6.0 M375.2 741.2 v-6.0 M375.2 45.0 v6.0 M404.2 741.2 v-6.0 M404.2 45.0 v6.0 M426.7 741.2 v-6.0 M426.7 45.0 v6.0 M445.1 741.2 v-6.0 M445.1 45.0 v6.0 M460.6 741.2 v-6.0 M460.6 45.0 v6.0 M474.1 741.2 v-6.0 M474.1 45.0 v6.0 M486.0 741.2 v-6.0 M486.0 45.0 v6.0 M496.6 741.2 v-12.0 M496.6 45.0 v12.0 M566.5 741.2 v-6.0 M566.5 45.0 v6.0 M607.4 741.2 v-6.0 M607.4 45.0 v6.0 M636.4 741.2 v-6.0 M636.4 45.0 v6.0 M658.9 741.2 v-6.0 M658.9 45.0 v6.0 M677.3 741.2 v-6.0 M677.3 45.0 v6.0 M692.8 741.2 v-6.0 M692.8 45.0 v6.0 M706.3 741.2 v-6.0 M706.3 45.0 v6.0 M718.2 741.2 v-6.0 M718.2 45.0 v6.0 M728.8 741.2 v-12.0 M728.8 45.0 v12.0 M90.2 732.2 h6.0 M786.9 732.2 h-6.0 M90.2 720.7 h6.0 M786.9 720.7 h-6.0 M90.2 710.5 h6.0 M786.9 710.5 h-6.0 M90.2 701.4 h12.0 M786.9 701.4 h-12.0 M90.2 641.5 h6.0 M786.9 641.5 h-6.0 M90.2 606.5 h6.0 M786.9 606.5 h-6.0 M90.2 581.7 h6.0 M786.9 581.7 h-6.0 M90.2 562.4 h6.0 M786.9 562.4 h-6.0 M90.2 546.6 h6.0 M786.9 546.6 h-6.0 M90.2 533.3 h6.0 M786.9 533.3 h-6.0 M90.2 521.8 h6.0 M786.9 521.8 h-6.0 M90.2 511.6 h6.0 M786.9 511.6 h-6.0 M90.2 502.5 h12.0 M786.9 502.5 h-12.0 M90.2 442.6 h6.0 M786.9 442.6 h-6.0 M90.2 407.6 h6.0 M786.9 407.6 h-6.0 M90.2 382.7 h6.0 M786.9 382.7 h-6.0 M90.2 363.5 h6.0 M786.9 363.5 h-6.0 M90.2 347.7 h6.0 M786.9 347.7 h-6.0 M90.2 334.4 h6.0 M786.9 334.4 h-6.0 M90.2 322.9 h6.0 M786.9 322.9 h-6.0 M90.2 312.7 h6.0 M786.9 312.7 h-6.0 M90.2 303.6 h12.0 M786.9 303.6 h-12.0 M90.2 243.7 h6.0 M786.9 243.7 h-6.0 M90.2 208.7 h6.0 M786.9 208.7 h-6.0 M90.2 183.8 h6.0 M786.9 183.8 h-6.0 M90.2 164.6 h6.0 M786.9 164.6 h-6.0 M90.2 148.8 h6.0 M786.9 148.8 h-6.0 M90.2 135.5 h6.0 M786.9 135.5 h-6.0 M90.2 124.0 h6.0 M786.9 124.0 h-6.0 M90.2 113.8 h6.0 M786.9 113.8 h-6.0 M90.2 104.7 h12.0 M786.9 104.7 h-12.0" stroke="#000" stroke-width="1.3" fill="none"/>
<rect x="90.2" y="45.0" width="696.6" height="696.2" fill="none" stroke="#000" stroke-width="1.5"/>
<path d="M539.0 28.9 538.6 31.5 538.6 28.9 545.3 28.9 545.3 31.5 544.8 28.9M540.4 38.0 543.5 38.0M541.7 28.9 541.7 38.0M542.2 28.9 542.2 38.0M547.9 37.6 548.4 38.0 548.8 37.6 548.4 37.1 547.9 37.6M558.6 28.9 564.0 28.9 565.3 29.4 565.7 29.8 566.2 30.7 566.2 31.5 565.7 32.4 565.3 32.8 564.0 33.3 560.4 33.3 560.4 28.9M558.6 38.0 564.0 38.0 565.3 37.6 565.7 37.1 566.2 36.3 566.2 35.0 565.7 34.1 565.3 33.7 564.0 33.3 564.8 32.8 565.3 32.4 565.7 31.5 565.7 30.7 565.3 29.8 564.8 29.4 564.0 28.9M560.0 28.9 560.0 38.0M560.4 33.3 560.4 38.0M564.0 33.3 564.8 33.7 565.3 34.1 565.7 35.0 565.7 36.3 565.3 37.1 564.8 37.6 564.0 38.0M568.4 32.0 570.2 32.0 570.2 38.0 568.4 38.0M569.7 32.0 569.7 38.0M570.2 34.5 570.6 33.3 571.5 32.4 572.4 32.0 573.7 32.0 574.2 32.4 574.2 32.8 573.7 33.3 573.3 32.8 573.7 32.4M570.2 38.0 571.5 38.0M576.0 32.0 577.8 32.0 577.8 38.0 576.0 38.0M577.3 32.0 577.3 38.0M577.8 38.0 579.1 38.0M576.9 29.4 577.3 29.8 577.8 29.4 577.3 28.9 576.9 29.4M580.9 32.0 582.6 32.0 582.6 38.0 580.9 38.0M582.2 32.0 582.2 38.0M582.6 33.3 583.5 32.4 584.9 32.0 585.8 32.0 587.1 32.4 587.5 33.3 587.5 38.0 588.9 38.0M582.6 38.0 584.0 38.0M585.8 32.0 586.7 32.4 587.1 33.3 587.1 38.0 585.8 38.0M587.1 38.0 587.5 38.0M591.1 37.1 591.1 36.7 591.5 35.8 592.0 35.4 591.5 34.5 591.5 33.7 592.0 32.8 592.4 32.4 593.3 32.0 594.2 32.0 595.1 32.4 595.6 32.8 596.0 33.7 596.0 34.5 595.6 35.4 595.1 35.8 594.2 36.3 593.3 36.3 592.4 35.8 592.0 35.4M591.1 37.1 591.5 37.6 592.9 38.0 595.1 38.0 596.4 38.4 596.9 39.3 596.9 39.7 596.4 40.6 595.1 41.0 592.4 41.0 591.1 40.6 590.7 39.7 590.7 39.3 591.1 38.4 592.4 38.0M591.1 37.1 591.5 38.0 592.9 38.4 595.1 38.4 596.4 38.9 596.9 39.3M592.4 32.4 592.0 33.3 592.0 35.0 592.4 35.8M595.1 32.4 595.6 33.3 595.6 35.0 595.1 35.8M595.6 32.8 596.0 32.4 596.9 32.0 596.9 32.4 596.0 32.4M599.1 32.0 600.9 32.0 600.9 38.0 599.1 38.0M600.4 32.0 600.4 38.0M600.9 33.3 601.8 32.4 603.1 32.0 604.0 32.0 605.3 32.4 605.8 33.3 605.8 38.0 607.1 38.0M600.9 38.0 602.2 38.0M604.0 32.0 604.9 32.4 605.3 33.3 605.3 38.0 604.0 38.0M605.3 38.0 605.8 38.0M605.8 33.3 606.7 32.4 608.0 32.0 608.9 32.0 610.2 32.4 610.7 33.3 610.7 38.0 608.9 38.0M608.9 32.0 609.8 32.4 610.2 33.3 610.2 38.0M610.7 38.0 612.0 38.0M615.1 32.8 615.1 33.3 614.7 33.3 614.7 32.8 615.1 32.4 616.0 32.0 617.8 32.0 618.7 32.4 619.1 32.8 619.6 33.7 619.6 36.7 620.0 37.6 620.5 38.0 620.9 38.0M616.0 34.5 618.7 34.1 619.1 33.7 619.1 32.8M616.0 34.5 615.1 35.0 614.7 35.8 614.7 36.7 615.1 37.6 616.0 38.0 617.4 38.0 618.2 37.6 619.1 36.7 619.1 33.7M616.0 34.5 614.7 35.0 614.2 35.8 614.2 36.7 614.7 37.6 616.0 38.0M619.1 36.7 619.6 37.6 620.5 38.0M622.7 32.0 624.5 32.0 624.5 38.0 622.7 38.0M624.0 32.0 624.0 38.0M624.5 33.3 625.4 32.4 626.7 32.0 627.6 32.0 628.9 32.4 629.4 33.3 629.4 38.0 630.7 38.0M624.5 38.0 625.8 38.0M627.6 32.0 628.5 32.4 628.9 33.3 628.9 38.0 627.6 38.0M628.9 38.0 629.4 38.0M632.5 32.0 634.3 32.0 634.3 38.0 632.5 38.0M633.8 32.0 633.8 38.0M634.3 33.3 635.2 32.4 636.5 32.0 637.4 32.0 638.7 32.4 639.2 33.3 639.2 38.0 640.5 38.0M634.3 38.0 635.6 38.0M637.4 32.0 638.3 32.4 638.7 33.3 638.7 38.0 637.4 38.0M638.7 38.0 639.2 38.0M651.6 31.1 651.6 30.2 652.1 29.4 653.0 28.9 653.8 29.4 654.3 30.2 654.3 31.1 653.8 32.0 653.0 32.8 650.3 34.5 649.8 35.4 649.8 36.7 650.3 37.6 651.6 38.0 653.0 38.0 653.8 37.6 654.7 36.7 655.6 35.4 656.5 33.3 657.0 32.4 657.4 32.0 657.9 32.0 658.3 32.4 658.3 32.8 657.9 33.3 657.4 32.8 657.9 32.4M651.6 31.1 652.1 32.0 655.6 36.7 656.5 37.6 657.4 38.0 657.9 38.0 658.3 37.6 658.3 37.1M651.6 31.1 652.1 32.4 653.0 33.7 655.2 36.7 656.1 37.6 657.4 38.0M651.6 33.7 650.7 34.5 650.3 35.4 650.3 36.7 650.7 37.6 651.6 38.0M652.1 32.4 655.2 36.7M667.6 28.9 673.0 28.9 674.3 29.4 674.8 29.8 675.2 30.7 675.2 32.0 674.8 32.8 674.3 33.3 673.0 33.7 669.4 33.7 669.4 28.9M667.6 38.0 670.8 38.0M669.0 28.9 669.0 38.0M669.4 33.7 669.4 38.0M673.0 28.9 673.9 29.4 674.3 29.8 674.8 30.7 674.8 32.0 674.3 32.8 673.9 33.3 673.0 33.7M678.3 37.6 678.8 38.0 679.2 37.6 678.8 37.1 678.3 37.6M689.4 31.1 690.3 32.0 691.2 32.4 693.9 33.3 694.8 33.7 695.2 34.1 695.7 35.0 695.7 36.7 694.8 37.6 693.5 38.0 692.1 38.0 690.8 37.6 689.9 36.7 689.4 35.4 689.4 38.0 689.9 36.7M689.4 31.1 689.4 30.2 690.3 29.4 691.7 28.9 693.0 28.9 694.3 29.4 695.2 30.2 695.7 31.5 695.7 28.9 695.2 30.2M689.4 31.1 689.9 32.0 690.3 32.4 691.2 32.8 693.9 33.7 694.8 34.1 695.7 35.0M699.2 32.8 699.2 33.3 698.8 33.3 698.8 32.8 699.2 32.4 700.1 32.0 701.9 32.0 702.8 32.4 703.2 32.8 703.7 33.7 703.7 36.7 704.1 37.6 704.6 38.0 705.0 38.0M700.1 34.5 702.8 34.1 703.2 33.7 703.2 32.8M700.1 34.5 699.2 35.0 698.8 35.8 698.8 36.7 699.2 37.6 700.1 38.0 701.5 38.0 702.4 37.6 703.2 36.7 703.2 33.7M700.1 34.5 698.8 35.0 698.3 35.8 698.3 36.7 698.8 37.6 700.1 38.0M703.2 36.7 703.7 37.6 704.6 38.0M706.8 28.9 708.6 28.9 708.6 38.0 706.8 38.0M708.1 28.9 708.1 38.0M708.6 38.0 709.9 38.0M713.0 32.8 713.0 33.3 712.6 33.3 712.6 32.8 713.0 32.4 713.9 32.0 715.7 32.0 716.6 32.4 717.0 32.8 717.5 33.7 717.5 36.7 717.9 37.6 718.4 38.0 718.8 38.0M713.9 34.5 716.6 34.1 717.0 33.7 717.0 32.8M713.9 34.5 713.0 35.0 712.6 35.8 712.6 36.7 713.0 37.6 713.9 38.0 715.3 38.0 716.1 37.6 717.0 36.7 717.0 33.7M713.9 34.5 712.6 35.0 712.1 35.8 712.1 36.7 712.6 37.6 713.9 38.0M717.0 36.7 717.5 37.6 718.4 38.0M720.6 32.0 724.2 32.0M721.9 28.9 721.9 36.3 722.4 37.6 723.3 38.0 724.2 38.0 725.0 37.6 725.5 36.7M722.4 28.9 722.4 36.3 722.8 37.6 723.3 38.0M727.3 32.0 729.0 32.0 729.0 38.0 727.3 38.0M728.6 32.0 728.6 38.0M729.0 38.0 730.4 38.0M728.2 29.4 728.6 29.8 729.0 29.4 728.6 28.9 728.2 29.4M742.4 28.1 741.5 29.8 741.1 31.1 740.6 33.3 740.6 35.0 741.1 37.1 741.5 38.4 742.4 40.2 743.3 41.0M742.4 28.1 743.3 27.2M742.4 28.1 741.5 29.4 740.6 31.1 740.2 33.3 740.2 35.0 740.6 37.1 741.5 38.9 742.4 40.2M746.0 37.1 746.4 36.7 747.3 36.7 749.5 37.6 750.9 37.6 751.7 37.1 752.2 36.7 752.2 35.8M746.0 37.1 746.0 36.7 746.4 35.4 747.3 34.5 750.0 33.3 751.3 32.4 751.7 31.5 751.7 30.7 751.3 29.8 750.9 29.4 750.0 28.9 748.2 28.9 746.8 29.4 746.4 29.8 746.0 30.7 746.0 31.1 746.4 31.5 746.8 31.1 746.4 30.7M746.0 37.1 746.0 38.0M747.3 36.7 749.5 38.0 751.3 38.0 751.7 37.6 752.2 36.7M748.2 34.1 750.4 33.3 751.7 32.4 752.2 31.5 752.2 30.7 751.7 29.8 751.3 29.4 750.0 28.9M757.5 28.9 756.6 29.4 756.2 29.8 755.7 30.7 755.3 32.8 755.3 34.1 755.7 36.3 756.2 37.1 756.6 37.6 757.5 38.0 758.4 38.0 759.8 37.6 760.6 36.3 761.1 34.1 761.1 32.8 760.6 30.7 759.8 29.4 758.4 28.9 757.5 28.9 756.2 29.4 755.3 30.7 754.9 32.8 754.9 34.1 755.3 36.3 756.2 37.6 757.5 38.0M758.4 28.9 759.3 29.4 759.8 29.8 760.2 30.7 760.6 32.8 760.6 34.1 760.2 36.3 759.8 37.1 759.3 37.6 758.4 38.0M766.4 28.9 765.5 29.4 765.1 29.8 764.6 30.7 764.2 32.8 764.2 34.1 764.6 36.3 765.1 37.1 765.5 37.6 766.4 38.0 767.3 38.0 768.7 37.6 769.5 36.3 770.0 34.1 770.0 32.8 769.5 30.7 768.7 29.4 767.3 28.9 766.4 28.9 765.1 29.4 764.2 30.7 763.8 32.8 763.8 34.1 764.2 36.3 765.1 37.6 766.4 38.0M767.3 28.9 768.2 29.4 768.7 29.8 769.1 30.7 769.5 32.8 769.5 34.1 769.1 36.3 768.7 37.1 768.2 37.6 767.3 38.0M773.1 35.0 773.5 33.7 774.4 32.8 775.8 32.4 776.2 32.4 777.6 32.8 778.4 33.7 778.9 35.0 778.9 35.4 778.4 36.7 777.6 37.6 776.2 38.0 775.3 38.0 774.0 37.6 773.1 36.7 772.7 35.4 772.7 32.8 773.1 31.1 773.5 30.2 774.4 29.4 775.8 28.9 777.1 28.9 778.0 29.4 778.4 30.2 778.4 30.7 778.0 31.1 777.6 30.7 778.0 30.2M773.1 35.0 773.1 35.4 773.5 36.7 774.4 37.6 775.3 38.0M773.1 35.0 773.1 32.8 773.5 31.1 774.0 30.2 774.9 29.4 775.8 28.9M776.2 32.4 777.1 32.8 778.0 33.7 778.4 35.0 778.4 35.4 778.0 36.7 777.1 37.6 776.2 38.0M781.6 27.2 782.4 28.1 783.3 29.4 784.2 31.1 784.7 33.3 784.7 35.0 784.2 37.1 783.3 38.9 782.4 40.2 781.6 41.0M782.4 28.1 783.3 29.8 783.8 31.1 784.2 33.3 784.2 35.0 783.8 37.1 783.3 38.4 782.4 40.2" fill="none" stroke="#000" stroke-width="1.15" stroke-linecap="round" stroke-linejoin="round"/>
<path d="M129.3 65.1 135.4 65.1 136.9 65.6 137.4 66.1 137.9 67.1 137.9 68.1 137.4 69.0 136.9 69.5 135.4 70.0 131.3 70.0 131.3 65.1M129.3 75.4 135.4 75.4 136.9 74.9 137.4 74.4 137.9 73.4 137.9 72.0 137.4 71.0 136.9 70.5 135.4 70.0 136.4 69.5 136.9 69.0 137.4 68.1 137.4 67.1 136.9 66.1 136.4 65.6 135.4 65.1M130.8 65.1 130.8 75.4M131.3 70.0 131.3 75.4M135.4 70.0 136.4 70.5 136.9 71.0 137.4 72.0 137.4 73.4 136.9 74.4 136.4 74.9 135.4 75.4M140.4 65.1 148.5 65.1 148.5 68.1 148.0 65.1M140.4 75.4 148.5 75.4 148.5 72.5 148.0 75.4M141.9 65.1 141.9 75.4M142.4 65.1 142.4 75.4M142.4 70.0 145.4 70.0 145.4 68.1M145.4 70.0 145.4 72.0M151.5 67.6 152.5 68.6 153.5 69.0 156.5 70.0 157.5 70.5 158.0 71.0 158.5 72.0 158.5 73.9 157.5 74.9 156.0 75.4 154.5 75.4 153.0 74.9 152.0 73.9 151.5 72.5 151.5 75.4 152.0 73.9M151.5 67.6 151.5 66.6 152.5 65.6 154.0 65.1 155.5 65.1 157.0 65.6 158.0 66.6 158.5 68.1 158.5 65.1 158.0 66.6M151.5 67.6 152.0 68.6 152.5 69.0 153.5 69.5 156.5 70.5 157.5 71.0 158.5 72.0M161.6 67.6 162.6 68.6 163.6 69.0 166.6 70.0 167.6 70.5 168.1 71.0 168.6 72.0 168.6 73.9 167.6 74.9 166.1 75.4 164.6 75.4 163.1 74.9 162.1 73.9 161.6 72.5 161.6 75.4 162.1 73.9M161.6 67.6 161.6 66.6 162.6 65.6 164.1 65.1 165.6 65.1 167.1 65.6 168.1 66.6 168.6 68.1 168.6 65.1 168.1 66.6M161.6 67.6 162.1 68.6 162.6 69.0 163.6 69.5 166.6 70.5 167.6 71.0 168.6 72.0M180.7 73.9 181.2 73.4 180.7 73.0 180.2 73.4 180.2 73.9 180.7 74.9 181.7 75.4 183.2 75.4 184.7 74.9 185.8 73.9 186.3 73.0 186.8 71.0 186.8 68.1 186.3 66.6 185.3 65.6 183.7 65.1 182.7 65.1 181.2 65.6 180.2 66.6 179.7 68.1 179.7 68.6 180.2 70.0 181.2 71.0 182.7 71.5 183.2 71.5 184.7 71.0 185.8 70.0 186.3 68.6 186.3 68.1 185.8 66.6 184.7 65.6 183.7 65.1M182.7 65.1 181.7 65.6 180.7 66.6 180.2 68.1 180.2 68.6 180.7 70.0 181.7 71.0 182.7 71.5M183.2 75.4 184.2 74.9 185.3 73.9 185.8 73.0 186.3 71.0 186.3 68.6M190.3 73.4 190.8 73.0 190.3 72.5 189.8 73.0 189.8 73.4 190.3 74.4 190.8 74.9 192.3 75.4 193.8 75.4 195.3 74.9 196.3 73.9 196.8 72.5 196.8 71.5 196.3 70.0 195.3 69.0 193.8 68.6 192.3 68.6 190.8 69.0 189.8 70.0 190.8 65.1 195.8 65.1 193.3 65.6 190.8 65.6M193.8 68.6 194.8 69.0 195.8 70.0 196.3 71.5 196.3 72.5 195.8 73.9 194.8 74.9 193.8 75.4M200.4 71.0 209.4 71.0M204.9 66.6 204.9 75.4M214.0 73.9 214.5 73.4 214.0 73.0 213.5 73.4 213.5 73.9 214.0 74.9 215.0 75.4 216.5 75.4 218.0 74.9 219.0 73.9 219.5 73.0 220.0 71.0 220.0 68.1 219.5 66.6 218.5 65.6 217.0 65.1 216.0 65.1 214.5 65.6 213.5 66.6 213.0 68.1 213.0 68.6 213.5 70.0 214.5 71.0 216.0 71.5 216.5 71.5 218.0 71.0 219.0 70.0 219.5 68.6 219.5 68.1 219.0 66.6 218.0 65.6 217.0 65.1M216.0 65.1 215.0 65.6 214.0 66.6 213.5 68.1 213.5 68.6 214.0 70.0 215.0 71.0 216.0 71.5M216.5 75.4 217.5 74.9 218.5 73.9 219.0 73.0 219.5 71.0 219.5 68.6M223.1 65.1 223.1 68.1M223.1 67.1 223.6 66.1 224.6 65.1 225.6 65.1 228.1 66.6 229.1 66.6 229.6 66.1 230.1 65.1 230.1 66.6 229.6 68.1 227.6 70.5 227.1 71.5 226.6 73.0 226.6 75.4M223.6 66.1 224.6 65.6 225.6 65.6 228.1 66.6M226.1 75.4 226.1 73.0 226.6 71.5 227.1 70.5 229.6 68.1" fill="none" stroke="#000" stroke-width="1.15" stroke-linecap="round" stroke-linejoin="round"/>
<path d="M129.3 90.7 135.4 90.7 136.9 91.2 137.4 91.7 137.9 92.7 137.9 93.7 137.4 94.6 136.9 95.1 135.4 95.6 131.3 95.6 131.3 90.7M129.3 101.0 135.4 101.0 136.9 100.5 137.4 100.0 137.9 99.0 137.9 97.6 137.4 96.6 136.9 96.1 135.4 95.6 136.4 95.1 136.9 94.6 137.4 93.7 137.4 92.7 136.9 91.7 136.4 91.2 135.4 90.7M130.8 90.7 130.8 101.0M131.3 95.6 131.3 101.0M135.4 95.6 136.4 96.1 136.9 96.6 137.4 97.6 137.4 99.0 136.9 100.0 136.4 100.5 135.4 101.0M140.4 90.7 148.5 90.7 148.5 93.7 148.0 90.7M140.4 101.0 148.5 101.0 148.5 98.1 148.0 101.0M141.9 90.7 141.9 101.0M142.4 90.7 142.4 101.0M142.4 95.6 145.4 95.6 145.4 93.7M145.4 95.6 145.4 97.6M151.5 93.2 152.5 94.2 153.5 94.6 156.5 95.6 157.5 96.1 158.0 96.6 158.5 97.6 158.5 99.5 157.5 100.5 156.0 101.0 154.5 101.0 153.0 100.5 152.0 99.5 151.5 98.1 151.5 101.0 152.0 99.5M151.5 93.2 151.5 92.2 152.5 91.2 154.0 90.7 155.5 90.7 157.0 91.2 158.0 92.2 158.5 93.7 158.5 90.7 158.0 92.2M151.5 93.2 152.0 94.2 152.5 94.6 153.5 95.1 156.5 96.1 157.5 96.6 158.5 97.6M161.6 93.2 162.6 94.2 163.6 94.6 166.6 95.6 167.6 96.1 168.1 96.6 168.6 97.6 168.6 99.5 167.6 100.5 166.1 101.0 164.6 101.0 163.1 100.5 162.1 99.5 161.6 98.1 161.6 101.0 162.1 99.5M161.6 93.2 161.6 92.2 162.6 91.2 164.1 90.7 165.6 90.7 167.1 91.2 168.1 92.2 168.6 93.7 168.6 90.7 168.1 92.2M161.6 93.2 162.1 94.2 162.6 94.6 163.6 95.1 166.6 96.1 167.6 96.6 168.6 97.6M180.7 99.5 181.2 99.0 180.7 98.6 180.2 99.0 180.2 99.5 180.7 100.5 181.7 101.0 183.2 101.0 184.7 100.5 185.8 99.5 186.3 98.6 186.8 96.6 186.8 93.7 186.3 92.2 185.3 91.2 183.7 90.7 182.7 90.7 181.2 91.2 180.2 92.2 179.7 93.7 179.7 94.2 180.2 95.6 181.2 96.6 182.7 97.1 183.2 97.1 184.7 96.6 185.8 95.6 186.3 94.2 186.3 93.7 185.8 92.2 184.7 91.2 183.7 90.7M182.7 90.7 181.7 91.2 180.7 92.2 180.2 93.7 180.2 94.2 180.7 95.6 181.7 96.6 182.7 97.1M183.2 101.0 184.2 100.5 185.3 99.5 185.8 98.6 186.3 96.6 186.3 94.2M192.3 90.7 191.3 91.2 190.8 92.2 190.8 93.7 191.3 94.6 192.3 95.1 194.3 95.1 195.8 95.6 196.3 96.1 196.8 97.1 196.8 99.0 196.3 100.0 195.8 100.5 194.3 101.0 192.3 101.0 190.8 100.5 190.3 100.0 189.8 99.0 189.8 97.1 190.3 96.1 190.8 95.6 192.3 95.1 190.8 94.6 190.3 93.7 190.3 92.2 190.8 91.2 192.3 90.7 194.3 90.7 195.8 91.2 196.3 92.2 196.3 93.7 195.8 94.6 194.3 95.1 195.3 95.6 195.8 96.1 196.3 97.1 196.3 99.0 195.8 100.0 195.3 100.5 194.3 101.0M192.3 95.1 191.3 95.6 190.8 96.1 190.3 97.1 190.3 99.0 190.8 100.0 191.3 100.5 192.3 101.0M194.3 90.7 195.3 91.2 195.8 92.2 195.8 93.7 195.3 94.6 194.3 95.1" fill="none" stroke="#ff0000" stroke-width="1.15" stroke-linecap="round" stroke-linejoin="round"/>
<path d="M129.3 126.6 132.3 126.6M130.3 126.6 133.8 116.3 137.4 126.6 138.4 126.6M131.3 123.7 135.9 123.7 136.9 126.6 137.4 126.6M133.8 117.8 135.9 123.7M135.4 126.6 136.9 126.6M139.9 116.3 141.9 116.3 144.9 125.1M139.9 126.6 142.9 126.6M141.4 126.6 141.4 116.3 144.9 126.6 148.5 116.3 150.5 116.3M146.9 126.6 150.5 126.6M148.5 116.3 148.5 126.6M149.0 116.3 149.0 126.6M153.0 118.8 154.0 119.8 155.0 120.2 158.0 121.2 159.0 121.7 159.5 122.2 160.0 123.2 160.0 125.1 159.0 126.1 157.5 126.6 156.0 126.6 154.5 126.1 153.5 125.1 153.0 123.7 153.0 126.6 153.5 125.1M153.0 118.8 153.0 117.8 154.0 116.8 155.5 116.3 157.0 116.3 158.5 116.8 159.5 117.8 160.0 119.3 160.0 116.3 159.5 117.8M153.0 118.8 153.5 119.8 154.0 120.2 155.0 120.7 158.0 121.7 159.0 122.2 160.0 123.2M172.1 125.1 172.6 124.6 172.1 124.2 171.6 124.6 171.6 125.1 172.1 126.1 173.2 126.6 174.7 126.6 176.2 126.1 177.2 125.1 177.7 124.2 178.2 122.2 178.2 119.3 177.7 117.8 176.7 116.8 175.2 116.3 174.2 116.3 172.6 116.8 171.6 117.8 171.1 119.3 171.1 119.8 171.6 121.2 172.6 122.2 174.2 122.7 174.7 122.7 176.2 122.2 177.2 121.2 177.7 119.8 177.7 119.3 177.2 117.8 176.2 116.8 175.2 116.3M174.2 116.3 173.2 116.8 172.1 117.8 171.6 119.3 171.6 119.8 172.1 121.2 173.2 122.2 174.2 122.7M174.7 126.6 175.7 126.1 176.7 125.1 177.2 124.2 177.7 122.2 177.7 119.8M183.7 116.3 182.7 116.8 182.2 117.8 182.2 119.3 182.7 120.2 183.7 120.7 185.8 120.7 187.3 121.2 187.8 121.7 188.3 122.7 188.3 124.6 187.8 125.6 187.3 126.1 185.8 126.6 183.7 126.6 182.2 126.1 181.7 125.6 181.2 124.6 181.2 122.7 181.7 121.7 182.2 121.2 183.7 120.7 182.2 120.2 181.7 119.3 181.7 117.8 182.2 116.8 183.7 116.3 185.8 116.3 187.3 116.8 187.8 117.8 187.8 119.3 187.3 120.2 185.8 120.7 186.8 121.2 187.3 121.7 187.8 122.7 187.8 124.6 187.3 125.6 186.8 126.1 185.8 126.6M183.7 120.7 182.7 121.2 182.2 121.7 181.7 122.7 181.7 124.6 182.2 125.6 182.7 126.1 183.7 126.6M185.8 116.3 186.8 116.8 187.3 117.8 187.3 119.3 186.8 120.2 185.8 120.7" fill="none" stroke="#00ff00" stroke-width="1.15" stroke-linecap="round" stroke-linejoin="round"/>
<path d="M132.8 141.5 131.3 142.0 130.3 143.0 129.8 144.0 129.3 145.4 129.3 147.9 129.8 149.4 130.3 150.3 131.3 151.3 132.8 151.8 133.8 151.8 135.4 151.3 136.4 150.3 136.9 149.4M132.8 141.5 131.8 142.0 130.8 143.0 130.3 144.0 129.8 145.4 129.8 147.9 130.3 149.4 130.8 150.3 131.8 151.3 132.8 151.8M132.8 141.5 133.8 141.5 135.4 142.0 136.4 143.0 136.9 144.5 136.9 141.5 136.4 143.0M138.9 151.8 141.9 151.8M139.9 151.8 143.4 141.5 147.0 151.8 148.0 151.8M140.9 148.9 145.4 148.9 146.4 151.8 147.0 151.8M143.4 143.0 145.4 148.9M144.9 151.8 146.4 151.8M149.5 141.5 155.5 141.5 157.0 142.0 157.5 142.5 158.0 143.5 158.0 145.0 157.5 145.9 157.0 146.4 155.5 146.9 151.5 146.9 151.5 141.5M149.5 151.8 153.0 151.8M151.0 141.5 151.0 151.8M151.5 146.9 151.5 151.8M155.5 141.5 156.5 142.0 157.0 142.5 157.5 143.5 157.5 145.0 157.0 145.9 156.5 146.4 155.5 146.9M160.6 141.5 166.6 141.5 168.1 142.0 168.6 142.5 169.1 143.5 169.1 144.5 168.6 145.4 168.1 145.9 166.6 146.4 162.6 146.4 162.6 141.5M160.6 151.8 164.1 151.8M162.1 141.5 162.1 151.8M162.6 146.4 162.6 151.8M165.1 146.4 166.1 146.9 166.6 147.4 168.1 150.8 168.6 151.3 169.1 151.3 169.6 150.8 169.6 150.3M166.1 146.9 166.6 147.9 167.6 151.3 168.1 151.8 169.1 151.8 169.6 150.8M166.6 141.5 167.6 142.0 168.1 142.5 168.6 143.5 168.6 144.5 168.1 145.4 167.6 145.9 166.6 146.4M171.6 141.5 175.2 141.5M171.6 151.8 175.2 151.8M173.2 141.5 173.2 151.8M173.7 141.5 173.7 151.8M181.2 141.5 179.7 142.0 178.7 143.0 178.2 144.0 177.7 145.4 177.7 147.9 178.2 149.4 178.7 150.3 179.7 151.3 181.2 151.8 182.2 151.8 183.7 151.3 184.8 150.3 185.3 149.4M181.2 141.5 180.2 142.0 179.2 143.0 178.7 144.0 178.2 145.4 178.2 147.9 178.7 149.4 179.2 150.3 180.2 151.3 181.2 151.8M181.2 141.5 182.2 141.5 183.7 142.0 184.8 143.0 185.3 144.5 185.3 141.5 184.8 143.0M187.8 141.5 195.8 141.5 195.8 144.5 195.3 141.5M187.8 151.8 195.8 151.8 195.8 148.9 195.3 151.8M189.3 141.5 189.3 151.8M189.8 141.5 189.8 151.8M189.8 146.4 192.8 146.4 192.8 144.5M192.8 146.4 192.8 148.4M207.9 150.3 208.4 149.8 207.9 149.4 207.4 149.8 207.4 150.3 207.9 151.3 208.9 151.8 210.5 151.8 212.0 151.3 213.0 150.3 213.5 149.4 214.0 147.4 214.0 144.5 213.5 143.0 212.5 142.0 211.0 141.5 210.0 141.5 208.4 142.0 207.4 143.0 206.9 144.5 206.9 145.0 207.4 146.4 208.4 147.4 210.0 147.9 210.5 147.9 212.0 147.4 213.0 146.4 213.5 145.0 213.5 144.5 213.0 143.0 212.0 142.0 211.0 141.5M210.0 141.5 208.9 142.0 207.9 143.0 207.4 144.5 207.4 145.0 207.9 146.4 208.9 147.4 210.0 147.9M210.5 151.8 211.5 151.3 212.5 150.3 213.0 149.4 213.5 147.4 213.5 145.0M219.5 141.5 218.5 142.0 218.0 143.0 218.0 144.5 218.5 145.4 219.5 145.9 221.5 145.9 223.1 146.4 223.6 146.9 224.1 147.9 224.1 149.8 223.6 150.8 223.1 151.3 221.5 151.8 219.5 151.8 218.0 151.3 217.5 150.8 217.0 149.8 217.0 147.9 217.5 146.9 218.0 146.4 219.5 145.9 218.0 145.4 217.5 144.5 217.5 143.0 218.0 142.0 219.5 141.5 221.5 141.5 223.1 142.0 223.6 143.0 223.6 144.5 223.1 145.4 221.5 145.9 222.6 146.4 223.1 146.9 223.6 147.9 223.6 149.8 223.1 150.8 222.6 151.3 221.5 151.8M219.5 145.9 218.5 146.4 218.0 146.9 217.5 147.9 217.5 149.8 218.0 150.8 218.5 151.3 219.5 151.8M221.5 141.5 222.6 142.0 223.1 143.0 223.1 144.5 222.6 145.4 221.5 145.9" fill="none" stroke="#0000ff" stroke-width="1.15" stroke-linecap="round" stroke-linejoin="round"/>
<path d="M382.8 65.2 388.8 65.2 390.4 65.6 390.9 66.1 391.4 67.1 391.4 68.6 390.9 69.5 390.4 70.0 388.8 70.5 384.8 70.5 384.8 65.2M382.8 75.4 386.3 75.4M384.3 65.2 384.3 75.4M384.8 70.5 384.8 75.4M388.8 65.2 389.8 65.6 390.4 66.1 390.9 67.1 390.9 68.6 390.4 69.5 389.8 70.0 388.8 70.5M393.4 75.4 396.4 75.4M394.4 75.4 397.9 65.2 401.4 75.4 402.4 75.4M395.4 72.5 399.9 72.5 400.9 75.4 401.4 75.4M397.9 66.6 399.9 72.5M399.4 75.4 400.9 75.4M403.9 65.2 405.9 65.2 409.0 73.9M403.9 75.4 406.9 75.4M405.4 75.4 405.4 65.2 409.0 75.4 412.5 65.2 414.5 65.2M411.0 75.4 414.5 75.4M412.5 65.2 412.5 75.4M413.0 65.2 413.0 75.4M416.5 65.2 424.6 65.2 424.6 68.1 424.1 65.2M416.5 75.4 424.6 75.4 424.6 72.5 424.1 75.4M418.0 65.2 418.0 75.4M418.5 65.2 418.5 75.4M418.5 70.0 421.5 70.0 421.5 68.1M421.5 70.0 421.5 72.0M427.1 65.2 430.6 65.2M427.1 75.4 434.6 75.4 434.6 72.5 434.1 75.4M428.6 65.2 428.6 75.4M429.1 65.2 429.1 75.4M435.6 75.4 438.6 75.4M436.6 75.4 440.1 65.2 443.7 75.4 444.7 75.4M437.6 72.5 442.2 72.5 443.2 75.4 443.7 75.4M440.1 66.6 442.2 72.5M441.7 75.4 443.2 75.4M457.8 65.2 456.7 65.6 456.2 66.1 455.7 67.1 455.2 69.5 455.2 71.0 455.7 73.4 456.2 74.4 456.7 74.9 457.8 75.4 458.8 75.4 460.3 74.9 461.3 73.4 461.8 71.0 461.8 69.5 461.3 67.1 460.3 65.6 458.8 65.2 457.8 65.2 456.2 65.6 455.2 67.1 454.7 69.5 454.7 71.0 455.2 73.4 456.2 74.9 457.8 75.4M458.8 65.2 459.8 65.6 460.3 66.1 460.8 67.1 461.3 69.5 461.3 71.0 460.8 73.4 460.3 74.4 459.8 74.9 458.8 75.4M464.8 65.2 464.8 68.1M464.8 67.1 465.3 66.1 466.3 65.2 467.3 65.2 469.8 66.6 470.8 66.6 471.3 66.1 471.8 65.2 471.8 66.6 471.3 68.1 469.3 70.5 468.8 71.5 468.3 73.0 468.3 75.4M465.3 66.1 466.3 65.6 467.3 65.6 469.8 66.6M467.8 75.4 467.8 73.0 468.3 71.5 468.8 70.5 471.3 68.1" fill="none" stroke="#ff00ff" stroke-width="1.15" stroke-linecap="round" stroke-linejoin="round"/>
<path d="M610.3 75.4 613.3 75.4M611.3 75.4 614.8 65.1 618.4 75.4 619.4 75.4M612.3 72.5 616.9 72.5 617.9 75.4 618.4 75.4M614.8 66.6 616.9 72.5M616.4 75.4 617.9 75.4M620.9 65.1 622.9 65.1 625.9 73.9M620.9 75.4 623.9 75.4M622.4 75.4 622.4 65.1 625.9 75.4 629.5 65.1 631.5 65.1M627.9 75.4 631.5 75.4M629.5 65.1 629.5 75.4M630.0 65.1 630.0 75.4M634.0 67.6 635.0 68.6 636.0 69.0 639.0 70.0 640.0 70.5 640.5 71.0 641.0 72.0 641.0 73.9 640.0 74.9 638.5 75.4 637.0 75.4 635.5 74.9 634.5 73.9 634.0 72.5 634.0 75.4 634.5 73.9M634.0 67.6 634.0 66.6 635.0 65.6 636.5 65.1 638.0 65.1 639.5 65.6 640.5 66.6 641.0 68.1 641.0 65.1 640.5 66.6M634.0 67.6 634.5 68.6 635.0 69.0 636.0 69.5 639.0 70.5 640.0 71.0 641.0 72.0M655.2 65.1 654.2 65.6 653.6 66.1 653.1 67.1 652.6 69.5 652.6 71.0 653.1 73.4 653.6 74.4 654.2 74.9 655.2 75.4 656.2 75.4 657.7 74.9 658.7 73.4 659.2 71.0 659.2 69.5 658.7 67.1 657.7 65.6 656.2 65.1 655.2 65.1 653.6 65.6 652.6 67.1 652.1 69.5 652.1 71.0 652.6 73.4 653.6 74.9 655.2 75.4M656.2 65.1 657.2 65.6 657.7 66.1 658.2 67.1 658.7 69.5 658.7 71.0 658.2 73.4 657.7 74.4 657.2 74.9 656.2 75.4M664.7 65.1 663.7 65.6 663.2 66.6 663.2 68.1 663.7 69.0 664.7 69.5 666.8 69.5 668.3 70.0 668.8 70.5 669.3 71.5 669.3 73.4 668.8 74.4 668.3 74.9 666.8 75.4 664.7 75.4 663.2 74.9 662.7 74.4 662.2 73.4 662.2 71.5 662.7 70.5 663.2 70.0 664.7 69.5 663.2 69.0 662.7 68.1 662.7 66.6 663.2 65.6 664.7 65.1 666.8 65.1 668.3 65.6 668.8 66.6 668.8 68.1 668.3 69.0 666.8 69.5 667.8 70.0 668.3 70.5 668.8 71.5 668.8 73.4 668.3 74.4 667.8 74.9 666.8 75.4M664.7 69.5 663.7 70.0 663.2 70.5 662.7 71.5 662.7 73.4 663.2 74.4 663.7 74.9 664.7 75.4M666.8 65.1 667.8 65.6 668.3 66.6 668.3 68.1 667.8 69.0 666.8 69.5" fill="none" stroke="#00ff00" stroke-width="1.15" stroke-linecap="round" stroke-linejoin="round"/>
<path d="M454.5 218.1 456.4 217.1 459.3 214.3 459.3 233.8 463.1 233.8M454.5 233.8 459.3 233.8M458.4 215.3 458.4 233.8M471.7 232.9 472.7 233.8 473.6 232.9 472.7 231.9 471.7 232.9M480.3 214.3 480.3 219.9M480.3 218.1 481.3 216.2 483.2 214.3 485.1 214.3 489.9 217.1 491.8 217.1 492.7 216.2 493.7 214.3 493.7 217.1 492.7 219.9 488.9 224.5 488.0 226.4 487.0 229.2 487.0 233.8M481.3 216.2 483.2 215.3 485.1 215.3 489.9 217.1M486.0 233.8 486.0 229.2 487.0 226.4 488.0 224.5 492.7 219.9M514.7 214.3 513.7 219.9 513.7 214.3 528.1 214.3 528.1 219.9 527.1 214.3M517.6 233.8 524.2 233.8M520.4 214.3 520.4 233.8M521.4 214.3 521.4 233.8M533.8 226.4 533.8 228.2 534.8 231.0 536.7 232.9 538.6 233.8 540.5 233.8 543.3 232.9 545.3 231.0M533.8 226.4 545.3 226.4 545.3 224.5 544.3 222.7 543.3 221.8 541.4 220.8 538.6 220.8 535.7 221.8 533.8 223.6 532.8 226.4 532.8 228.2 533.8 231.0 535.7 232.9 538.6 233.8M533.8 226.4 534.8 223.6 536.7 221.8 538.6 220.8M543.3 221.8 544.3 223.6 544.3 226.4M549.1 214.3 554.8 214.3M551.0 214.3 557.7 233.8 564.4 214.3 566.3 214.3M551.9 214.3 557.7 231.0M560.5 214.3 564.4 214.3M583.5 214.3 590.1 214.3M586.3 214.3 590.1 233.8 594.0 214.3 597.8 233.8 601.6 214.3 604.5 214.3M587.3 214.3 590.1 229.2M594.9 214.3 597.8 229.2M598.7 214.3 601.6 214.3M607.3 214.3 614.0 214.3M607.3 233.8 614.0 233.8M610.2 214.3 610.2 233.8M611.1 214.3 611.1 233.8M617.8 214.3 621.7 214.3 627.4 231.0M617.8 233.8 623.6 233.8M620.7 233.8 620.7 214.3 627.4 233.8 634.1 214.3 637.9 214.3M631.2 233.8 637.9 233.8M634.1 214.3 634.1 233.8M635.0 214.3 635.0 233.8M641.7 214.3 653.2 214.3 656.0 215.3 657.0 216.2 657.9 218.1 657.9 220.8 657.0 222.7 656.0 223.6 653.2 224.5 645.5 224.5 645.5 214.3M641.7 233.8 648.4 233.8M644.6 214.3 644.6 233.8M645.5 224.5 645.5 233.8M653.2 214.3 655.1 215.3 656.0 216.2 657.0 218.1 657.0 220.8 656.0 222.7 655.1 223.6 653.2 224.5" fill="none" stroke="#000" stroke-width="1.15" stroke-linecap="round" stroke-linejoin="round"/>
<path d="M296.2 650.5 299.5 650.5 309.5 665.9 309.5 667.5 299.5 652.1M296.2 667.5 301.2 667.5M298.7 650.5 298.7 667.5M307.0 650.5 312.1 650.5M309.5 650.5 309.5 665.9M315.4 650.5 328.8 650.5 328.8 655.3 327.9 650.5M315.4 667.5 321.3 667.5M317.9 650.5 317.9 667.5M318.7 650.5 318.7 667.5M318.7 658.6 323.8 658.6 323.8 655.3M323.8 658.6 323.8 661.8M331.3 650.5 337.1 650.5M333.8 650.5 337.1 667.5 340.5 650.5 343.8 667.5 347.2 650.5 349.7 650.5M334.6 650.5 337.1 663.4M341.3 650.5 343.8 663.4M344.7 650.5 347.2 650.5M365.6 650.5 373.9 650.5 376.4 651.3 378.1 652.9 378.9 654.5 379.8 657.0 379.8 661.0 378.9 663.4 378.1 665.1 376.4 666.7 373.9 667.5 365.6 667.5M368.1 650.5 368.1 667.5M368.9 650.5 368.9 667.5M373.9 650.5 375.6 651.3 377.3 652.9 378.1 654.5 378.9 657.0 378.9 661.0 378.1 663.4 377.3 665.1 375.6 666.7 373.9 667.5M384.0 650.5 387.3 650.5 392.3 665.1M384.0 667.5 389.0 667.5M386.5 667.5 386.5 650.5 392.3 667.5 398.2 650.5 401.5 650.5M395.7 667.5 401.5 667.5M398.2 650.5 398.2 667.5M399.0 650.5 399.0 667.5M418.2 650.5 421.6 650.5 421.6 667.5 418.2 667.5M420.7 650.5 420.7 667.5M421.6 658.6 423.2 657.0 425.8 656.1 427.4 656.1 429.9 657.0 430.8 658.6 430.8 667.5 433.3 667.5M421.6 667.5 424.1 667.5M427.4 656.1 429.1 657.0 429.9 658.6 429.9 667.5 427.4 667.5M429.9 667.5 430.8 667.5M439.1 657.8 439.1 658.6 438.3 658.6 438.3 657.8 439.1 657.0 440.8 656.1 444.1 656.1 445.8 657.0 446.7 657.8 447.5 659.4 447.5 665.1 448.3 666.7 449.2 667.5 450.0 667.5M440.8 661.0 445.8 660.2 446.7 659.4 446.7 657.8M440.8 661.0 439.1 661.8 438.3 663.4 438.3 665.1 439.1 666.7 440.8 667.5 443.3 667.5 445.0 666.7 446.7 665.1 446.7 659.4M440.8 661.0 438.3 661.8 437.5 663.4 437.5 665.1 438.3 666.7 440.8 667.5M446.7 665.1 447.5 666.7 449.2 667.5M453.3 650.5 456.7 650.5 456.7 667.5 453.3 667.5M455.8 650.5 455.8 667.5M456.7 667.5 459.2 667.5M468.4 656.1 470.1 656.1 472.6 657.0 474.2 658.6 475.1 661.0 475.1 662.6 474.2 665.1 472.6 666.7 470.1 667.5 468.4 667.5 465.9 666.7 464.2 665.1 463.4 662.6 463.4 661.0 464.2 658.6 465.9 657.0 468.4 656.1 466.7 657.0 465.0 658.6 464.2 661.0 464.2 662.6 465.0 665.1 466.7 666.7 468.4 667.5M470.1 656.1 471.7 657.0 473.4 658.6 474.2 661.0 474.2 662.6 473.4 665.1 471.7 666.7 470.1 667.5M492.6 656.1 496.0 656.1 496.0 673.2 492.6 673.2M495.1 656.1 495.1 673.2M496.0 658.6 497.6 657.0 499.3 656.1 501.0 656.1 503.5 657.0 505.2 658.6 506.0 661.0 506.0 662.6 505.2 665.1 503.5 666.7 501.0 667.5 499.3 667.5 497.6 666.7 496.0 665.1M496.0 673.2 498.5 673.2M501.0 656.1 502.7 657.0 504.3 658.6 505.2 661.0 505.2 662.6 504.3 665.1 502.7 666.7 501.0 667.5M510.2 656.1 513.5 656.1 513.5 667.5 510.2 667.5M512.7 656.1 512.7 667.5M513.5 661.0 514.4 658.6 516.0 657.0 517.7 656.1 520.2 656.1 521.1 657.0 521.1 657.8 520.2 658.6 519.4 657.8 520.2 657.0M513.5 667.5 516.0 667.5M530.3 656.1 531.9 656.1 534.4 657.0 536.1 658.6 536.9 661.0 536.9 662.6 536.1 665.1 534.4 666.7 531.9 667.5 530.3 667.5 527.7 666.7 526.1 665.1 525.2 662.6 525.2 661.0 526.1 658.6 527.7 657.0 530.3 656.1 528.6 657.0 526.9 658.6 526.1 661.0 526.1 662.6 526.9 665.1 528.6 666.7 530.3 667.5M531.9 656.1 533.6 657.0 535.3 658.6 536.1 661.0 536.1 662.6 535.3 665.1 533.6 666.7 531.9 667.5M541.1 656.1 547.8 656.1M541.1 667.5 547.0 667.5M543.6 667.5 543.6 652.9 544.5 651.3 546.1 650.5 547.8 650.5 548.6 651.3 548.6 652.1 547.8 652.9 547.0 652.1 547.8 651.3M544.5 667.5 544.5 652.9 545.3 651.3 546.1 650.5M552.0 656.1 555.3 656.1 555.3 667.5 552.0 667.5M554.5 656.1 554.5 667.5M555.3 667.5 557.8 667.5M553.7 651.3 554.5 652.1 555.3 651.3 554.5 650.5 553.7 651.3M561.2 650.5 564.5 650.5 564.5 667.5 561.2 667.5M563.7 650.5 563.7 667.5M564.5 667.5 567.0 667.5M572.1 661.0 572.1 662.6 572.9 665.1 574.6 666.7 576.2 667.5 577.9 667.5 580.4 666.7 582.1 665.1M572.1 661.0 582.1 661.0 582.1 659.4 581.2 657.8 580.4 657.0 578.7 656.1 576.2 656.1 573.7 657.0 572.1 658.6 571.2 661.0 571.2 662.6 572.1 665.1 573.7 666.7 576.2 667.5M572.1 661.0 572.9 658.6 574.6 657.0 576.2 656.1M580.4 657.0 581.2 658.6 581.2 661.0" fill="none" stroke="#000" stroke-width="1.15" stroke-linecap="round" stroke-linejoin="round"/>
<path d="M246.8 694.9 248.1 696.2 249.5 696.9 253.5 698.2 254.8 698.8 255.5 699.5 256.1 700.8 256.1 703.4 254.8 704.7 252.8 705.3 250.8 705.3 248.8 704.7 247.5 703.4 246.8 701.4 246.8 705.3 247.5 703.4M246.8 694.9 246.8 693.7 248.1 692.4 250.1 691.7 252.1 691.7 254.1 692.4 255.5 693.7 256.1 695.6 256.1 691.7 255.5 693.7M246.8 694.9 247.5 696.2 248.1 696.9 249.5 697.5 253.5 698.8 254.8 699.5 256.1 700.8M264.1 696.2 265.5 696.2 267.5 696.9 268.8 698.2 269.5 700.1 269.5 701.4 268.8 703.4 267.5 704.7 265.5 705.3 264.1 705.3 262.1 704.7 260.8 703.4 260.1 701.4 260.1 700.1 260.8 698.2 262.1 696.9 264.1 696.2 262.8 696.9 261.5 698.2 260.8 700.1 260.8 701.4 261.5 703.4 262.8 704.7 264.1 705.3M265.5 696.2 266.8 696.9 268.1 698.2 268.8 700.1 268.8 701.4 268.1 703.4 266.8 704.7 265.5 705.3M272.8 691.7 275.5 691.7 275.5 705.3 272.8 705.3M274.8 691.7 274.8 705.3M275.5 705.3 277.5 705.3M282.2 697.5 282.2 698.2 281.5 698.2 281.5 697.5 282.2 696.9 283.5 696.2 286.2 696.2 287.5 696.9 288.2 697.5 288.8 698.8 288.8 703.4 289.5 704.7 290.2 705.3 290.8 705.3M283.5 700.1 287.5 699.5 288.2 698.8 288.2 697.5M283.5 700.1 282.2 700.8 281.5 702.1 281.5 703.4 282.2 704.7 283.5 705.3 285.5 705.3 286.8 704.7 288.2 703.4 288.2 698.8M283.5 700.1 281.5 700.8 280.8 702.1 280.8 703.4 281.5 704.7 283.5 705.3M288.2 703.4 288.8 704.7 290.2 705.3M293.5 696.2 296.2 696.2 296.2 705.3 293.5 705.3M295.5 696.2 295.5 705.3M296.2 700.1 296.8 698.2 298.2 696.9 299.5 696.2 301.5 696.2 302.2 696.9 302.2 697.5 301.5 698.2 300.8 697.5 301.5 696.9M296.2 705.3 298.2 705.3M315.5 691.7 318.2 691.7 322.2 703.4M315.5 705.3 319.5 705.3M317.5 705.3 317.5 691.7 322.2 705.3 326.8 691.7 329.5 691.7M324.8 705.3 329.5 705.3M326.8 691.7 326.8 705.3M327.5 691.7 327.5 705.3M332.2 696.2 334.8 696.2 334.8 705.3 332.2 705.3M334.2 696.2 334.2 705.3M334.8 705.3 336.8 705.3M333.5 692.4 334.2 693.0 334.8 692.4 334.2 691.7 333.5 692.4M339.5 696.2 342.2 696.2 342.2 705.3 339.5 705.3M341.5 696.2 341.5 705.3M342.2 698.2 343.5 696.9 345.5 696.2 346.9 696.2 348.9 696.9 349.5 698.2 349.5 705.3 351.5 705.3M342.2 705.3 344.2 705.3M346.9 696.2 348.2 696.9 348.9 698.2 348.9 705.3 346.9 705.3M348.9 705.3 349.5 705.3M354.2 696.2 356.9 696.2 356.9 705.3 354.2 705.3M356.2 696.2 356.2 705.3M356.9 705.3 358.9 705.3M355.5 692.4 356.2 693.0 356.9 692.4 356.2 691.7 355.5 692.4M361.5 696.2 364.2 696.2 364.2 705.3 361.5 705.3M363.5 696.2 363.5 705.3M364.2 698.2 365.5 696.9 367.5 696.2 368.9 696.2 370.9 696.9 371.5 698.2 371.5 705.3 373.5 705.3M364.2 705.3 366.2 705.3M368.9 696.2 370.2 696.9 370.9 698.2 370.9 705.3 368.9 705.3M370.9 705.3 371.5 705.3M371.5 698.2 372.9 696.9 374.9 696.2 376.2 696.2 378.2 696.9 378.9 698.2 378.9 705.3 376.2 705.3M376.2 696.2 377.5 696.9 378.2 698.2 378.2 705.3M378.9 705.3 380.9 705.3M383.5 696.2 386.2 696.2 386.2 703.4 386.9 704.7 388.2 705.3 389.5 705.3 391.5 704.7 392.9 703.4 392.9 696.2 390.9 696.2M385.5 696.2 385.5 703.4 386.2 704.7 388.2 705.3M392.9 696.2 393.5 696.2 393.5 705.3 392.9 705.3 392.9 703.4M393.5 705.3 395.5 705.3M398.2 696.2 400.9 696.2 400.9 705.3 398.2 705.3M400.2 696.2 400.2 705.3M400.9 698.2 402.2 696.9 404.2 696.2 405.5 696.2 407.5 696.9 408.2 698.2 408.2 705.3 410.2 705.3M400.9 705.3 402.9 705.3M405.5 696.2 406.9 696.9 407.5 698.2 407.5 705.3 405.5 705.3M407.5 705.3 408.2 705.3M408.2 698.2 409.5 696.9 411.5 696.2 412.9 696.2 414.9 696.9 415.6 698.2 415.6 705.3 412.9 705.3M412.9 696.2 414.2 696.9 414.9 698.2 414.9 705.3M415.6 705.3 417.6 705.3M430.2 696.2 434.9 696.2M432.2 696.2 434.9 705.3 437.6 696.2 440.2 705.3 442.9 696.2 444.9 696.2M432.9 696.2 434.9 703.4M438.2 696.2 440.2 703.4M440.9 696.2 442.9 696.2M446.9 696.2 449.6 696.2 449.6 705.3 446.9 705.3M448.9 696.2 448.9 705.3M449.6 705.3 451.6 705.3M448.2 692.4 448.9 693.0 449.6 692.4 448.9 691.7 448.2 692.4M454.2 696.2 459.6 696.2M456.2 691.7 456.2 702.7 456.9 704.7 458.2 705.3 459.6 705.3 460.9 704.7 461.6 703.4M456.9 691.7 456.9 702.7 457.6 704.7 458.2 705.3M464.2 691.7 466.9 691.7 466.9 705.3 464.2 705.3M466.2 691.7 466.2 705.3M466.9 698.2 468.2 696.9 470.2 696.2 471.6 696.2 473.6 696.9 474.2 698.2 474.2 705.3 476.2 705.3M466.9 705.3 468.9 705.3M471.6 696.2 472.9 696.9 473.6 698.2 473.6 705.3 471.6 705.3M473.6 705.3 474.2 705.3" fill="none" stroke="#000" stroke-width="1.15" stroke-linecap="round" stroke-linejoin="round"/>
<path d="M525.2 697.6 537.2 697.6M525.2 701.4 537.2 701.4M553.1 702.7 553.7 702.1 553.1 701.4 552.4 702.1 552.4 702.7 553.1 704.0 553.7 704.7 555.7 705.3 557.7 705.3 559.7 704.7 561.0 703.4 561.7 701.4 561.7 700.2 561.0 698.2 559.7 697.0 557.7 696.3 555.7 696.3 553.7 697.0 552.4 698.2 553.7 691.8 560.3 691.8 557.0 692.5 553.7 692.5M557.7 696.3 559.0 697.0 560.3 698.2 561.0 700.2 561.0 701.4 560.3 703.4 559.0 704.7 557.7 705.3M569.6 691.8 568.3 692.5 567.6 693.1 567.0 694.4 566.3 697.6 566.3 699.5 567.0 702.7 567.6 704.0 568.3 704.7 569.6 705.3 570.9 705.3 572.9 704.7 574.2 702.7 574.9 699.5 574.9 697.6 574.2 694.4 572.9 692.5 570.9 691.8 569.6 691.8 567.6 692.5 566.3 694.4 565.6 697.6 565.6 699.5 566.3 702.7 567.6 704.7 569.6 705.3M570.9 691.8 572.2 692.5 572.9 693.1 573.6 694.4 574.2 697.6 574.2 699.5 573.6 702.7 572.9 704.0 572.2 704.7 570.9 705.3M582.8 691.8 581.5 692.5 580.9 693.1 580.2 694.4 579.5 697.6 579.5 699.5 580.2 702.7 580.9 704.0 581.5 704.7 582.8 705.3 584.2 705.3 586.2 704.7 587.5 702.7 588.1 699.5 588.1 697.6 587.5 694.4 586.2 692.5 584.2 691.8 582.8 691.8 580.9 692.5 579.5 694.4 578.9 697.6 578.9 699.5 579.5 702.7 580.9 704.7 582.8 705.3M584.2 691.8 585.5 692.5 586.2 693.1 586.8 694.4 587.5 697.6 587.5 699.5 586.8 702.7 586.2 704.0 585.5 704.7 584.2 705.3M602.0 691.8 604.7 691.8 608.7 703.4M602.0 705.3 606.0 705.3M604.0 705.3 604.0 691.8 608.7 705.3 613.3 691.8 615.9 691.8M611.3 705.3 615.9 705.3M613.3 691.8 613.3 705.3M614.0 691.8 614.0 705.3M617.9 691.8 621.9 691.8M619.3 691.8 623.9 705.3 628.5 691.8 629.8 691.8M619.9 691.8 623.9 703.4M625.9 691.8 628.5 691.8" fill="none" stroke="#000" stroke-width="1.15" stroke-linecap="round" stroke-linejoin="round"/>
<path d="M505.2 704.0 511.6 704.0 511.6 706.3 511.2 704.0M505.2 712.1 508.0 712.1M506.4 704.0 506.4 712.1M506.8 704.0 506.8 712.1M506.8 707.8 509.2 707.8 509.2 706.3M509.2 707.8 509.2 709.4" fill="none" stroke="#000" stroke-width="1.15" stroke-linecap="round" stroke-linejoin="round"/>
<path d="M502.1 700.6 L501.9 701.6 L501.6 702.5 L501.0 703.3 L500.3 704.1 L499.4 704.7 L498.4 705.1 L497.3 705.4 L496.2 705.5 L495.1 705.4 L494.1 705.1 L493.1 704.7 L492.3 704.1 L491.7 703.3 L491.2 702.5 L491.0 701.6 L490.9 700.6 L491.1 699.6 L491.4 698.7 L492.0 697.9 L492.7 697.1 L493.6 696.5 L494.6 696.1 L495.7 695.8 L496.8 695.7 L497.9 695.8 L498.9 696.1 L499.9 696.5 L500.7 697.1 L501.3 697.9 L501.8 698.7 L502.0 699.6 L502.1 700.6 Z" fill="none" stroke="#000" stroke-width="1.3"/>
<path d="M498.9 691.6 L494.0 709.5" stroke="#000" stroke-width="1.2" stroke-linecap="round"/>
<path d="M368.1 458.8 368.1 458.0 368.9 457.2 370.6 456.3 374.0 456.3 375.6 457.2 376.5 458.0 377.3 459.6 377.3 456.3 376.5 458.0M368.1 458.8 368.9 459.6 370.6 460.4 374.8 462.0 376.5 462.8 377.3 463.6 377.3 466.1 376.5 466.9 374.8 467.7 371.5 467.7 369.8 466.9 368.9 466.1 368.1 464.5 368.1 467.7 368.9 466.1M368.1 458.8 368.1 459.6 368.9 460.4 370.6 461.2 374.8 462.8 376.5 463.6 377.3 464.5M383.2 461.2 383.2 462.8 384.0 465.3 385.7 466.9 387.3 467.7 389.0 467.7 391.5 466.9 393.2 465.3M383.2 461.2 393.2 461.2 393.2 459.6 392.4 458.0 391.5 457.2 389.8 456.3 387.3 456.3 384.8 457.2 383.2 458.8 382.3 461.2 382.3 462.8 383.2 465.3 384.8 466.9 387.3 467.7M383.2 461.2 384.0 458.8 385.7 457.2 387.3 456.3M391.5 457.2 392.4 458.8 392.4 461.2M403.2 456.3 405.7 456.3 407.4 457.2 409.1 458.8 409.1 459.6 408.2 460.4 407.4 459.6 408.2 458.8M403.2 456.3 400.7 457.2 399.0 458.8 398.2 461.2 398.2 462.8 399.0 465.3 400.7 466.9 403.2 467.7 404.9 467.7 407.4 466.9 409.1 465.3M403.2 456.3 401.5 457.2 399.9 458.8 399.0 461.2 399.0 462.8 399.9 465.3 401.5 466.9 403.2 467.7M419.1 456.3 420.8 456.3 423.3 457.2 425.0 458.8 425.8 461.2 425.8 462.8 425.0 465.3 423.3 466.9 420.8 467.7 419.1 467.7 416.6 466.9 414.9 465.3 414.1 462.8 414.1 461.2 414.9 458.8 416.6 457.2 419.1 456.3 417.4 457.2 415.8 458.8 414.9 461.2 414.9 462.8 415.8 465.3 417.4 466.9 419.1 467.7M420.8 456.3 422.4 457.2 424.1 458.8 425.0 461.2 425.0 462.8 424.1 465.3 422.4 466.9 420.8 467.7M430.0 456.3 433.3 456.3 433.3 467.7 430.0 467.7M432.5 456.3 432.5 467.7M433.3 458.8 435.0 457.2 437.5 456.3 439.2 456.3 441.7 457.2 442.5 458.8 442.5 467.7 445.0 467.7M433.3 467.7 435.8 467.7M439.2 456.3 440.8 457.2 441.7 458.8 441.7 467.7 439.2 467.7M441.7 467.7 442.5 467.7M454.2 456.3 451.7 457.2 450.0 458.8 449.2 461.2 449.2 462.8 450.0 465.3 451.7 466.9 454.2 467.7 455.9 467.7 457.6 466.9 459.2 465.3 459.2 450.7 460.1 450.7 460.1 467.7 459.2 467.7 459.2 465.3M454.2 456.3 452.5 457.2 450.9 458.8 450.0 461.2 450.0 462.8 450.9 465.3 452.5 466.9 454.2 467.7M454.2 456.3 455.9 456.3 457.6 457.2 459.2 458.8M456.7 450.7 459.2 450.7M460.1 467.7 462.6 467.7M468.4 458.0 468.4 458.8 467.6 458.8 467.6 458.0 468.4 457.2 470.1 456.3 473.4 456.3 475.1 457.2 476.0 458.0 476.8 459.6 476.8 465.3 477.6 466.9 478.5 467.7 479.3 467.7M470.1 461.2 475.1 460.4 476.0 459.6 476.0 458.0M470.1 461.2 468.4 462.0 467.6 463.6 467.6 465.3 468.4 466.9 470.1 467.7 472.6 467.7 474.3 466.9 476.0 465.3 476.0 459.6M470.1 461.2 467.6 462.0 466.8 463.6 466.8 465.3 467.6 466.9 470.1 467.7M476.0 465.3 476.8 466.9 478.5 467.7M482.6 456.3 486.0 456.3 486.0 467.7 482.6 467.7M485.1 456.3 485.1 467.7M486.0 461.2 486.8 458.8 488.5 457.2 490.2 456.3 492.7 456.3 493.5 457.2 493.5 458.0 492.7 458.8 491.8 458.0 492.7 457.2M486.0 467.7 488.5 467.7M496.9 456.3 501.9 456.3M498.5 456.3 503.5 467.7 501.9 470.9 500.2 472.6 498.5 473.4 497.7 473.4 496.9 472.6 497.7 471.8 498.5 472.6M499.4 456.3 503.5 466.1M503.5 467.7 508.6 456.3 510.2 456.3M505.2 456.3 508.6 456.3" fill="none" stroke="#000" stroke-width="1.15" stroke-linecap="round" stroke-linejoin="round"/>
<path d="M526.6 456.0 530.1 456.0 530.1 473.5 526.6 473.5M529.2 456.0 529.2 473.5M530.1 458.5 531.8 456.9 533.5 456.0 535.2 456.0 537.8 456.9 539.5 458.5 540.4 461.0 540.4 462.7 539.5 465.2 537.8 466.9 535.2 467.7 533.5 467.7 531.8 466.9 530.1 465.2M530.1 473.5 532.6 473.5M535.2 456.0 536.9 456.9 538.7 458.5 539.5 461.0 539.5 462.7 538.7 465.2 536.9 466.9 535.2 467.7" fill="none" stroke="#000" stroke-width="1.15" stroke-linecap="round" stroke-linejoin="round"/>
<path d="M525.2 453.3 L542.6 453.3" stroke="#000" stroke-width="1.15" stroke-linecap="round"/>
<path d="M311.2 498.6 314.5 498.6 314.5 515.6 311.2 515.6M313.7 498.6 313.7 515.6M314.5 501.0 316.2 499.4 317.9 498.6 319.5 498.6 322.0 499.4 323.7 501.0 324.5 503.4 324.5 505.0 323.7 507.5 322.0 509.1 319.5 509.9 317.9 509.9 316.2 509.1 314.5 507.5M314.5 515.6 317.0 515.6M319.5 498.6 321.2 499.4 322.9 501.0 323.7 503.4 323.7 505.0 322.9 507.5 321.2 509.1 319.5 509.9M328.7 498.6 332.0 498.6 332.0 509.9 328.7 509.9M331.2 498.6 331.2 509.9M332.0 503.4 332.9 501.0 334.6 499.4 336.2 498.6 338.7 498.6 339.6 499.4 339.6 500.2 338.7 501.0 337.9 500.2 338.7 499.4M332.0 509.9 334.6 509.9M342.9 498.6 346.2 498.6 346.2 509.9 342.9 509.9M345.4 498.6 345.4 509.9M346.2 509.9 348.7 509.9M344.6 493.7 345.4 494.5 346.2 493.7 345.4 492.9 344.6 493.7M352.1 498.6 355.4 498.6 355.4 509.9 352.1 509.9M354.6 498.6 354.6 509.9M355.4 501.0 357.1 499.4 359.6 498.6 361.3 498.6 363.8 499.4 364.6 501.0 364.6 509.9 367.1 509.9M355.4 509.9 357.9 509.9M361.3 498.6 362.9 499.4 363.8 501.0 363.8 509.9 361.3 509.9M363.8 509.9 364.6 509.9M364.6 501.0 366.3 499.4 368.8 498.6 370.5 498.6 373.0 499.4 373.8 501.0 373.8 509.9 370.5 509.9M370.5 498.6 372.1 499.4 373.0 501.0 373.0 509.9M373.8 509.9 376.3 509.9M382.1 500.2 382.1 501.0 381.3 501.0 381.3 500.2 382.1 499.4 383.8 498.6 387.2 498.6 388.8 499.4 389.7 500.2 390.5 501.8 390.5 507.5 391.3 509.1 392.2 509.9 393.0 509.9M383.8 503.4 388.8 502.6 389.7 501.8 389.7 500.2M383.8 503.4 382.1 504.2 381.3 505.9 381.3 507.5 382.1 509.1 383.8 509.9 386.3 509.9 388.0 509.1 389.7 507.5 389.7 501.8M383.8 503.4 381.3 504.2 380.5 505.9 380.5 507.5 381.3 509.1 383.8 509.9M389.7 507.5 390.5 509.1 392.2 509.9M396.3 498.6 399.7 498.6 399.7 509.9 396.3 509.9M398.8 498.6 398.8 509.9M399.7 503.4 400.5 501.0 402.2 499.4 403.9 498.6 406.4 498.6 407.2 499.4 407.2 500.2 406.4 501.0 405.5 500.2 406.4 499.4M399.7 509.9 402.2 509.9M410.5 498.6 415.5 498.6M412.2 498.6 417.2 509.9 415.5 513.1 413.9 514.8 412.2 515.6 411.4 515.6 410.5 514.8 411.4 513.9 412.2 514.8M413.0 498.6 417.2 508.3M417.2 509.9 422.2 498.6 423.9 498.6M418.9 498.6 422.2 498.6" fill="none" stroke="#000" stroke-width="1.15" stroke-linecap="round" stroke-linejoin="round"/>
<path d="M439.9 498.2 443.4 498.2 443.4 515.7 439.9 515.7M442.5 498.2 442.5 515.7M443.4 500.7 445.1 499.1 446.8 498.2 448.5 498.2 451.1 499.1 452.8 500.7 453.7 503.2 453.7 504.9 452.8 507.4 451.1 509.1 448.5 509.9 446.8 509.9 445.1 509.1 443.4 507.4M443.4 515.7 445.9 515.7M448.5 498.2 450.2 499.1 452.0 500.7 452.8 503.2 452.8 504.9 452.0 507.4 450.2 509.1 448.5 509.9" fill="none" stroke="#000" stroke-width="1.15" stroke-linecap="round" stroke-linejoin="round"/>
<path d="M438.2 495.3 L455.9 495.3" stroke="#000" stroke-width="1.15" stroke-linecap="round"/>
<path d="M477.1 491.3 475.4 494.5 474.6 496.9 473.8 501.0 473.8 504.2 474.6 508.3 475.4 510.7 477.1 513.9 478.8 515.6M477.1 491.3 478.8 489.7M477.1 491.3 475.4 493.7 473.8 496.9 472.9 501.0 472.9 504.2 473.8 508.3 475.4 511.5 477.1 513.9M483.0 492.9 488.8 492.9M483.0 509.9 495.5 509.9 495.5 505.0 494.7 509.9M485.5 492.9 485.5 509.9M486.3 492.9 486.3 509.9M498.8 496.9 500.5 498.6 502.2 499.4 507.2 501.0 508.8 501.8 509.7 502.6 510.5 504.2 510.5 507.5 508.8 509.1 506.3 509.9 503.8 509.9 501.3 509.1 499.7 507.5 498.8 505.0 498.8 509.9 499.7 507.5M498.8 496.9 498.8 495.3 500.5 493.7 503.0 492.9 505.5 492.9 508.0 493.7 509.7 495.3 510.5 497.8 510.5 492.9 509.7 495.3M498.8 496.9 499.7 498.6 500.5 499.4 502.2 500.2 507.2 501.8 508.8 502.6 510.5 504.2M514.7 492.9 524.7 492.9 527.2 493.7 528.0 494.5 528.9 496.1 528.9 498.6 528.0 500.2 527.2 501.0 524.7 501.8 518.0 501.8 518.0 492.9M514.7 509.9 520.5 509.9M517.2 492.9 517.2 509.9M518.0 501.8 518.0 509.9M524.7 492.9 526.4 493.7 527.2 494.5 528.0 496.1 528.0 498.6 527.2 500.2 526.4 501.0 524.7 501.8M533.9 489.7 535.6 491.3 537.2 493.7 538.9 496.9 539.7 501.0 539.7 504.2 538.9 508.3 537.2 511.5 535.6 513.9 533.9 515.6M535.6 491.3 537.2 494.5 538.1 496.9 538.9 501.0 538.9 504.2 538.1 508.3 537.2 510.7 535.6 513.9" fill="none" stroke="#000" stroke-width="1.15" stroke-linecap="round" stroke-linejoin="round"/>
<path d="M359.0 538.6 365.7 538.6M361.5 532.9 361.5 546.7 362.3 549.1 364.0 549.9 365.7 549.9 367.3 549.1 368.2 547.5M362.3 532.9 362.3 546.7 363.1 549.1 364.0 549.9M377.3 538.6 379.0 538.6 381.5 539.4 383.2 541.0 384.0 543.4 384.0 545.0 383.2 547.5 381.5 549.1 379.0 549.9 377.3 549.9 374.8 549.1 373.2 547.5 372.3 545.0 372.3 543.4 373.2 541.0 374.8 539.4 377.3 538.6 375.7 539.4 374.0 541.0 373.2 543.4 373.2 545.0 374.0 547.5 375.7 549.1 377.3 549.9M379.0 538.6 380.7 539.4 382.3 541.0 383.2 543.4 383.2 545.0 382.3 547.5 380.7 549.1 379.0 549.9M388.2 538.6 394.9 538.6M390.7 532.9 390.7 546.7 391.5 549.1 393.2 549.9 394.9 549.9 396.5 549.1 397.4 547.5M391.5 532.9 391.5 546.7 392.4 549.1 393.2 549.9M403.2 540.2 403.2 541.0 402.4 541.0 402.4 540.2 403.2 539.4 404.9 538.6 408.2 538.6 409.9 539.4 410.7 540.2 411.6 541.8 411.6 547.5 412.4 549.1 413.2 549.9 414.1 549.9M404.9 543.4 409.9 542.6 410.7 541.8 410.7 540.2M404.9 543.4 403.2 544.2 402.4 545.9 402.4 547.5 403.2 549.1 404.9 549.9 407.4 549.9 409.1 549.1 410.7 547.5 410.7 541.8M404.9 543.4 402.4 544.2 401.6 545.9 401.6 547.5 402.4 549.1 404.9 549.9M410.7 547.5 411.6 549.1 413.2 549.9M417.4 532.9 420.8 532.9 420.8 549.9 417.4 549.9M419.9 532.9 419.9 549.9M420.8 549.9 423.3 549.9" fill="none" stroke="#000" stroke-width="1.15" stroke-linecap="round" stroke-linejoin="round"/>
<path d="M439.9 538.2 443.4 538.2 443.4 555.7 439.9 555.7M442.5 538.2 442.5 555.7M443.4 540.7 445.1 539.1 446.8 538.2 448.5 538.2 451.1 539.1 452.8 540.7 453.7 543.2 453.7 544.9 452.8 547.4 451.1 549.1 448.5 549.9 446.8 549.9 445.1 549.1 443.4 547.4M443.4 555.7 445.9 555.7M448.5 538.2 450.2 539.1 452.0 540.7 452.8 543.2 452.8 544.9 452.0 547.4 450.2 549.1 448.5 549.9" fill="none" stroke="#000" stroke-width="1.15" stroke-linecap="round" stroke-linejoin="round"/>
<path d="M438.2 535.3 L455.9 535.3" stroke="#000" stroke-width="1.15" stroke-linecap="round"/>
<path d="M477.1 531.3 475.4 534.5 474.6 536.9 473.8 541.0 473.8 544.2 474.6 548.3 475.4 550.7 477.1 553.9 478.8 555.6M477.1 531.3 478.8 529.7M477.1 531.3 475.4 533.7 473.8 536.9 472.9 541.0 472.9 544.2 473.8 548.3 475.4 551.5 477.1 553.9M483.0 532.9 488.8 532.9M483.0 549.9 495.5 549.9 495.5 545.0 494.7 549.9M485.5 532.9 485.5 549.9M486.3 532.9 486.3 549.9M498.8 536.9 500.5 538.6 502.2 539.4 507.2 541.0 508.8 541.8 509.7 542.6 510.5 544.2 510.5 547.5 508.8 549.1 506.3 549.9 503.8 549.9 501.3 549.1 499.7 547.5 498.8 545.0 498.8 549.9 499.7 547.5M498.8 536.9 498.8 535.3 500.5 533.7 503.0 532.9 505.5 532.9 508.0 533.7 509.7 535.3 510.5 537.8 510.5 532.9 509.7 535.3M498.8 536.9 499.7 538.6 500.5 539.4 502.2 540.2 507.2 541.8 508.8 542.6 510.5 544.2M514.7 532.9 524.7 532.9 527.2 533.7 528.0 534.5 528.9 536.1 528.9 538.6 528.0 540.2 527.2 541.0 524.7 541.8 518.0 541.8 518.0 532.9M514.7 549.9 520.5 549.9M517.2 532.9 517.2 549.9M518.0 541.8 518.0 549.9M524.7 532.9 526.4 533.7 527.2 534.5 528.0 536.1 528.0 538.6 527.2 540.2 526.4 541.0 524.7 541.8M533.9 529.7 535.6 531.3 537.2 533.7 538.9 536.9 539.7 541.0 539.7 544.2 538.9 548.3 537.2 551.5 535.6 553.9 533.9 555.6M535.6 531.3 537.2 534.5 538.1 536.9 538.9 541.0 538.9 544.2 538.1 548.3 537.2 550.7 535.6 553.9" fill="none" stroke="#000" stroke-width="1.15" stroke-linecap="round" stroke-linejoin="round"/>
<path d="M357.5 578.6 364.2 578.6M360.0 572.9 360.0 586.7 360.8 589.1 362.5 589.9 364.2 589.9 365.8 589.1 366.7 587.5M360.8 572.9 360.8 586.7 361.6 589.1 362.5 589.9M375.8 578.6 377.5 578.6 380.0 579.4 381.7 581.0 382.5 583.4 382.5 585.0 381.7 587.5 380.0 589.1 377.5 589.9 375.8 589.9 373.3 589.1 371.7 587.5 370.8 585.0 370.8 583.4 371.7 581.0 373.3 579.4 375.8 578.6 374.2 579.4 372.5 581.0 371.7 583.4 371.7 585.0 372.5 587.5 374.2 589.1 375.8 589.9M377.5 578.6 379.2 579.4 380.8 581.0 381.7 583.4 381.7 585.0 380.8 587.5 379.2 589.1 377.5 589.9M386.7 578.6 393.4 578.6M389.2 572.9 389.2 586.7 390.0 589.1 391.7 589.9 393.4 589.9 395.0 589.1 395.9 587.5M390.0 572.9 390.0 586.7 390.9 589.1 391.7 589.9M401.7 580.2 401.7 581.0 400.9 581.0 400.9 580.2 401.7 579.4 403.4 578.6 406.7 578.6 408.4 579.4 409.2 580.2 410.1 581.8 410.1 587.5 410.9 589.1 411.7 589.9 412.6 589.9M403.4 583.4 408.4 582.6 409.2 581.8 409.2 580.2M403.4 583.4 401.7 584.2 400.9 585.9 400.9 587.5 401.7 589.1 403.4 589.9 405.9 589.9 407.6 589.1 409.2 587.5 409.2 581.8M403.4 583.4 400.9 584.2 400.1 585.9 400.1 587.5 400.9 589.1 403.4 589.9M409.2 587.5 410.1 589.1 411.7 589.9M415.9 572.9 419.3 572.9 419.3 589.9 415.9 589.9M418.4 572.9 418.4 589.9M419.3 589.9 421.8 589.9" fill="none" stroke="#000" stroke-width="1.15" stroke-linecap="round" stroke-linejoin="round"/>
<path d="M438.4 578.2 441.9 578.2 441.9 595.7 438.4 595.7M441.0 578.2 441.0 595.7M441.9 580.7 443.6 579.1 445.3 578.2 447.0 578.2 449.6 579.1 451.3 580.7 452.2 583.2 452.2 584.9 451.3 587.4 449.6 589.1 447.0 589.9 445.3 589.9 443.6 589.1 441.9 587.4M441.9 595.7 444.4 595.7M447.0 578.2 448.7 579.1 450.5 580.7 451.3 583.2 451.3 584.9 450.5 587.4 448.7 589.1 447.0 589.9" fill="none" stroke="#000" stroke-width="1.15" stroke-linecap="round" stroke-linejoin="round"/>
<path d="M436.7 575.3 L454.4 575.3" stroke="#000" stroke-width="1.15" stroke-linecap="round"/>
<path d="M475.6 571.3 473.9 574.5 473.1 576.9 472.3 581.0 472.3 584.2 473.1 588.3 473.9 590.7 475.6 593.9 477.3 595.6M475.6 571.3 477.3 569.7M475.6 571.3 473.9 573.7 472.3 576.9 471.4 581.0 471.4 584.2 472.3 588.3 473.9 591.5 475.6 593.9M481.5 572.9 487.3 572.9M481.5 589.9 494.0 589.9 494.0 585.0 493.2 589.9M484.0 572.9 484.0 589.9M484.8 572.9 484.8 589.9M496.5 572.9 502.3 572.9M496.5 589.9 502.3 589.9M499.0 572.9 499.0 589.9M499.8 572.9 499.8 589.9M499.8 583.4 510.7 572.9 512.4 572.9M503.2 580.2 509.8 589.9 512.4 589.9M504.0 580.2 510.7 589.9M507.3 572.9 510.7 572.9M507.3 589.9 509.8 589.9M514.9 572.9 524.9 572.9 527.4 573.7 528.2 574.5 529.1 576.1 529.1 578.6 528.2 580.2 527.4 581.0 524.9 581.8 518.2 581.8 518.2 572.9M514.9 589.9 520.7 589.9M517.4 572.9 517.4 589.9M518.2 581.8 518.2 589.9M524.9 572.9 526.5 573.7 527.4 574.5 528.2 576.1 528.2 578.6 527.4 580.2 526.5 581.0 524.9 581.8M534.1 569.7 535.7 571.3 537.4 573.7 539.1 576.9 539.9 581.0 539.9 584.2 539.1 588.3 537.4 591.5 535.7 593.9 534.1 595.6M535.7 571.3 537.4 574.5 538.2 576.9 539.1 581.0 539.1 584.2 538.2 588.3 537.4 590.7 535.7 593.9" fill="none" stroke="#000" stroke-width="1.15" stroke-linecap="round" stroke-linejoin="round"/>
<path d="M257.0 754.1 258.1 753.5 259.8 751.9 259.8 763.3 262.0 763.3M257.0 763.3 259.8 763.3M259.2 752.4 259.2 763.3M269.8 751.9 268.7 752.4 268.2 753.0 267.6 754.1 267.0 756.8 267.0 758.4 267.6 761.1 268.2 762.2 268.7 762.8 269.8 763.3 271.0 763.3 272.6 762.8 273.8 761.1 274.3 758.4 274.3 756.8 273.8 754.1 272.6 752.4 271.0 751.9 269.8 751.9 268.2 752.4 267.0 754.1 266.5 756.8 266.5 758.4 267.0 761.1 268.2 762.8 269.8 763.3M271.0 751.9 272.1 752.4 272.6 753.0 273.2 754.1 273.8 756.8 273.8 758.4 273.2 761.1 272.6 762.2 272.1 762.8 271.0 763.3" fill="none" stroke="#000" stroke-width="1.15" stroke-linecap="round" stroke-linejoin="round"/>
<path d="M483.0 754.1 484.1 753.5 485.8 751.9 485.8 763.3 488.0 763.3M483.0 763.3 485.8 763.3M485.2 752.4 485.2 763.3M495.8 751.9 494.7 752.4 494.2 753.0 493.6 754.1 493.0 756.8 493.0 758.4 493.6 761.1 494.2 762.2 494.7 762.8 495.8 763.3 497.0 763.3 498.6 762.8 499.8 761.1 500.3 758.4 500.3 756.8 499.8 754.1 498.6 752.4 497.0 751.9 495.8 751.9 494.2 752.4 493.0 754.1 492.5 756.8 492.5 758.4 493.0 761.1 494.2 762.8 495.8 763.3M497.0 751.9 498.1 752.4 498.6 753.0 499.2 754.1 499.8 756.8 499.8 758.4 499.2 761.1 498.6 762.2 498.1 762.8 497.0 763.3M507.0 751.9 505.9 752.4 505.4 753.0 504.8 754.1 504.2 756.8 504.2 758.4 504.8 761.1 505.4 762.2 505.9 762.8 507.0 763.3 508.2 763.3 509.8 762.8 511.0 761.1 511.5 758.4 511.5 756.8 511.0 754.1 509.8 752.4 508.2 751.9 507.0 751.9 505.4 752.4 504.2 754.1 503.7 756.8 503.7 758.4 504.2 761.1 505.4 762.8 507.0 763.3M508.2 751.9 509.3 752.4 509.8 753.0 510.4 754.1 511.0 756.8 511.0 758.4 510.4 761.1 509.8 762.2 509.3 762.8 508.2 763.3" fill="none" stroke="#000" stroke-width="1.15" stroke-linecap="round" stroke-linejoin="round"/>
<path d="M709.6 754.1 710.7 753.5 712.4 751.9 712.4 763.3 714.6 763.3M709.6 763.3 712.4 763.3M711.8 752.4 711.8 763.3M722.4 751.9 721.3 752.4 720.8 753.0 720.2 754.1 719.6 756.8 719.6 758.4 720.2 761.1 720.8 762.2 721.3 762.8 722.4 763.3 723.6 763.3 725.2 762.8 726.4 761.1 726.9 758.4 726.9 756.8 726.4 754.1 725.2 752.4 723.6 751.9 722.4 751.9 720.8 752.4 719.6 754.1 719.1 756.8 719.1 758.4 719.6 761.1 720.8 762.8 722.4 763.3M723.6 751.9 724.7 752.4 725.2 753.0 725.8 754.1 726.4 756.8 726.4 758.4 725.8 761.1 725.2 762.2 724.7 762.8 723.6 763.3M733.6 751.9 732.5 752.4 732.0 753.0 731.4 754.1 730.8 756.8 730.8 758.4 731.4 761.1 732.0 762.2 732.5 762.8 733.6 763.3 734.8 763.3 736.4 762.8 737.6 761.1 738.1 758.4 738.1 756.8 737.6 754.1 736.4 752.4 734.8 751.9 733.6 751.9 732.0 752.4 730.8 754.1 730.3 756.8 730.3 758.4 730.8 761.1 732.0 762.8 733.6 763.3M734.8 751.9 735.9 752.4 736.4 753.0 737.0 754.1 737.6 756.8 737.6 758.4 737.0 761.1 736.4 762.2 735.9 762.8 734.8 763.3M744.8 751.9 743.7 752.4 743.2 753.0 742.6 754.1 742.0 756.8 742.0 758.4 742.6 761.1 743.2 762.2 743.7 762.8 744.8 763.3 746.0 763.3 747.6 762.8 748.8 761.1 749.3 758.4 749.3 756.8 748.8 754.1 747.6 752.4 746.0 751.9 744.8 751.9 743.2 752.4 742.0 754.1 741.5 756.8 741.5 758.4 742.0 761.1 743.2 762.8 744.8 763.3M746.0 751.9 747.1 752.4 747.6 753.0 748.2 754.1 748.8 756.8 748.8 758.4 748.2 761.1 747.6 762.2 747.1 762.8 746.0 763.3" fill="none" stroke="#000" stroke-width="1.15" stroke-linecap="round" stroke-linejoin="round"/>
<path d="M380.2 777.2 379.5 781.1 379.5 777.2 389.5 777.2 389.5 781.1 388.9 777.2M382.2 790.8 386.9 790.8M384.2 777.2 384.2 790.8M384.9 777.2 384.9 790.8" fill="none" stroke="#000" stroke-width="1.15" stroke-linecap="round" stroke-linejoin="round"/>
<path d="M392.7 777.7 392.3 780.0 392.3 777.7 398.3 777.7 398.3 780.0 397.9 777.7M393.9 785.8 396.7 785.8M395.1 777.7 395.1 785.8M395.5 777.7 395.5 785.8M403.1 777.7 401.9 778.0 401.1 778.8 400.7 779.6 400.3 781.1 400.3 782.3 400.7 783.9 401.1 784.6 401.9 785.4 403.1 785.8 403.9 785.8 405.1 785.4 405.9 784.6 406.3 783.9 406.7 782.3 406.7 781.1 406.3 779.6 405.9 778.8 405.1 778.0 403.9 777.7 403.1 777.7 402.3 778.0 401.5 778.8 401.1 779.6 400.7 781.1 400.7 782.3 401.1 783.9 401.5 784.6 402.3 785.4 403.1 785.8M403.9 777.7 404.7 778.0 405.5 778.8 405.9 779.6 406.3 781.1 406.3 782.3 405.9 783.9 405.5 784.6 404.7 785.4 403.9 785.8M408.3 785.8 410.7 785.8M409.1 785.8 411.9 777.7 414.7 785.8 415.5 785.8M409.9 783.5 413.5 783.5 414.3 785.8 414.7 785.8M411.9 778.8 413.5 783.5M413.1 785.8 414.3 785.8" fill="none" stroke="#000" stroke-width="1.15" stroke-linecap="round" stroke-linejoin="round"/>
<path d="M392.4 792.8 394.0 792.8 394.0 800.9 392.4 800.9M393.6 792.8 393.6 800.9M394.0 793.9 394.8 793.2 395.6 792.8 396.4 792.8 397.6 793.2 398.4 793.9 398.8 795.1 398.8 795.9 398.4 797.0 397.6 797.8 396.4 798.2 395.6 798.2 394.8 797.8 394.0 797.0M394.0 800.9 395.2 800.9M396.4 792.8 397.2 793.2 398.0 793.9 398.4 795.1 398.4 795.9 398.0 797.0 397.2 797.8 396.4 798.2" fill="none" stroke="#000" stroke-width="1.15" stroke-linecap="round" stroke-linejoin="round"/>
<path d="M391.8 789.0 L400.0 789.0" stroke="#000" stroke-width="1.15" stroke-linecap="round"/>
<path d="M440.3 774.3 444.4 774.3M440.3 774.3 439.6 774.3 439.6 795.4 444.4 795.4M440.3 774.3 440.3 795.4M453.2 776.9 451.2 777.6 449.8 778.9 449.1 780.2 448.5 782.2 448.5 785.5 449.1 787.5 449.8 788.8 451.2 790.1 453.2 790.8 454.6 790.8 456.6 790.1 458.0 788.8 458.0 785.5 455.9 785.5M453.2 776.9 451.9 777.6 450.5 778.9 449.8 780.2 449.1 782.2 449.1 785.5 449.8 787.5 450.5 788.8 451.9 790.1 453.2 790.8M453.2 776.9 454.6 776.9 456.6 777.6 458.0 778.9 458.7 780.9 458.7 776.9 458.0 778.9M458.0 785.5 460.7 785.5M458.0 788.8 458.0 790.8M458.7 785.5 458.7 790.8M464.8 785.5 464.8 786.8 465.5 788.8 466.8 790.1 468.2 790.8 469.5 790.8 471.6 790.1 472.9 788.8M464.8 785.5 472.9 785.5 472.9 784.2 472.3 782.9 471.6 782.2 470.2 781.6 468.2 781.6 466.1 782.2 464.8 783.5 464.1 785.5 464.1 786.8 464.8 788.8 466.1 790.1 468.2 790.8M464.8 785.5 465.5 783.5 466.8 782.2 468.2 781.6M471.6 782.2 472.3 783.5 472.3 785.5M475.7 776.9 479.7 776.9M477.0 776.9 481.8 790.8 486.5 776.9 487.9 776.9M477.7 776.9 481.8 788.8M483.8 776.9 486.5 776.9M490.6 774.3 495.4 774.3 495.4 795.4 490.6 795.4M494.7 774.3 494.7 795.4" fill="none" stroke="#000" stroke-width="1.15" stroke-linecap="round" stroke-linejoin="round"/>
<path d="M54.5 101.7 55.6 101.1 57.3 99.5 57.3 111.0 59.6 111.0M54.5 111.0 57.3 111.0M56.8 100.0 56.8 111.0M67.5 99.5 66.4 100.0 65.8 100.6 65.2 101.7 64.7 104.4 64.7 106.0 65.2 108.8 65.8 109.9 66.4 110.4 67.5 111.0 68.6 111.0 70.3 110.4 71.4 108.8 72.0 106.0 72.0 104.4 71.4 101.7 70.3 100.0 68.6 99.5 67.5 99.5 65.8 100.0 64.7 101.7 64.1 104.4 64.1 106.0 64.7 108.8 65.8 110.4 67.5 111.0M68.6 99.5 69.7 100.0 70.3 100.6 70.9 101.7 71.4 104.4 71.4 106.0 70.9 108.8 70.3 109.9 69.7 110.4 68.6 111.0" fill="none" stroke="#000" stroke-width="1.15" stroke-linecap="round" stroke-linejoin="round"/>
<path d="M75.3 105.3 75.7 105.0 76.4 105.0 78.1 105.6 79.2 105.6 79.9 105.3 80.2 105.0 80.2 104.3M75.3 105.3 75.3 105.0 75.7 103.9 76.4 103.3 78.5 102.2 79.5 101.6 79.9 100.9 79.9 100.2 79.5 99.5 79.2 99.2 78.5 98.8 77.1 98.8 76.0 99.2 75.7 99.5 75.3 100.2 75.3 100.5 75.7 100.9 76.0 100.5 75.7 100.2M75.3 105.3 75.3 106.0M76.4 105.0 78.1 106.0 79.5 106.0 79.9 105.6 80.2 105.0M77.1 102.9 78.8 102.2 79.9 101.6 80.2 100.9 80.2 100.2 79.9 99.5 79.5 99.2 78.5 98.8" fill="none" stroke="#000" stroke-width="1.15" stroke-linecap="round" stroke-linejoin="round"/>
<path d="M54.5 300.6 55.6 300.0 57.3 298.4 57.3 309.9 59.6 309.9M54.5 309.9 57.3 309.9M56.8 298.9 56.8 309.9M67.5 298.4 66.4 298.9 65.8 299.5 65.2 300.6 64.7 303.3 64.7 305.0 65.2 307.7 65.8 308.8 66.4 309.3 67.5 309.9 68.6 309.9 70.3 309.3 71.4 307.7 72.0 305.0 72.0 303.3 71.4 300.6 70.3 298.9 68.6 298.4 67.5 298.4 65.8 298.9 64.7 300.6 64.1 303.3 64.1 305.0 64.7 307.7 65.8 309.3 67.5 309.9M68.6 298.4 69.7 298.9 70.3 299.5 70.9 300.6 71.4 303.3 71.4 305.0 70.9 307.7 70.3 308.8 69.7 309.3 68.6 309.9" fill="none" stroke="#000" stroke-width="1.15" stroke-linecap="round" stroke-linejoin="round"/>
<path d="M76.4 299.1 77.1 298.8 78.1 297.8 78.1 304.9 79.5 304.9M76.4 304.9 78.1 304.9M77.8 298.1 77.8 304.9" fill="none" stroke="#000" stroke-width="1.15" stroke-linecap="round" stroke-linejoin="round"/>
<path d="M54.5 499.5 55.6 498.9 57.3 497.3 57.3 508.8 59.6 508.8M54.5 508.8 57.3 508.8M56.8 497.8 56.8 508.8M67.5 497.3 66.4 497.8 65.8 498.4 65.2 499.5 64.7 502.2 64.7 503.9 65.2 506.6 65.8 507.7 66.4 508.3 67.5 508.8 68.6 508.8 70.3 508.3 71.4 506.6 72.0 503.9 72.0 502.2 71.4 499.5 70.3 497.8 68.6 497.3 67.5 497.3 65.8 497.8 64.7 499.5 64.1 502.2 64.1 503.9 64.7 506.6 65.8 508.3 67.5 508.8M68.6 497.3 69.7 497.8 70.3 498.4 70.9 499.5 71.4 502.2 71.4 503.9 70.9 506.6 70.3 507.7 69.7 508.3 68.6 508.8" fill="none" stroke="#000" stroke-width="1.15" stroke-linecap="round" stroke-linejoin="round"/>
<path d="M77.5 496.7 76.8 497.0 76.4 497.4 76.0 498.0 75.7 499.7 75.7 500.7 76.0 502.4 76.4 503.1 76.8 503.5 77.5 503.8 78.1 503.8 79.2 503.5 79.9 502.4 80.2 500.7 80.2 499.7 79.9 498.0 79.2 497.0 78.1 496.7 77.5 496.7 76.4 497.0 75.7 498.0 75.3 499.7 75.3 500.7 75.7 502.4 76.4 503.5 77.5 503.8M78.1 496.7 78.8 497.0 79.2 497.4 79.5 498.0 79.9 499.7 79.9 500.7 79.5 502.4 79.2 503.1 78.8 503.5 78.1 503.8" fill="none" stroke="#000" stroke-width="1.15" stroke-linecap="round" stroke-linejoin="round"/>
<path d="M45.4 698.4 46.5 697.9 48.2 696.2 48.2 707.7 50.5 707.7M45.4 707.7 48.2 707.7M47.6 696.8 47.6 707.7M58.4 696.2 57.3 696.8 56.7 697.3 56.1 698.4 55.6 701.1 55.6 702.8 56.1 705.5 56.7 706.6 57.3 707.2 58.4 707.7 59.5 707.7 61.2 707.2 62.3 705.5 62.9 702.8 62.9 701.1 62.3 698.4 61.2 696.8 59.5 696.2 58.4 696.2 56.7 696.8 55.6 698.4 55.0 701.1 55.0 702.8 55.6 705.5 56.7 707.2 58.4 707.7M59.5 696.2 60.6 696.8 61.2 697.3 61.8 698.4 62.3 701.1 62.3 702.8 61.8 705.5 61.2 706.6 60.6 707.2 59.5 707.7" fill="none" stroke="#000" stroke-width="1.15" stroke-linecap="round" stroke-linejoin="round"/>
<path d="M65.6 699.7 71.9 699.7M75.4 696.9 76.1 696.6 77.1 695.6 77.1 702.7 78.5 702.7M75.4 702.7 77.1 702.7M76.8 695.9 76.8 702.7" fill="none" stroke="#000" stroke-width="1.15" stroke-linecap="round" stroke-linejoin="round"/>
<g transform="translate(25.7,546.6) rotate(-90)">
<path d="M1.0 0.0 5.6 0.0M3.0 -13.6 12.3 -13.6 11.6 -9.7 11.6 -13.6M3.0 -13.6 1.0 -9.7 2.3 -13.6 3.0 -13.6M3.0 0.0 7.0 -13.6M3.6 0.0 7.6 -13.6" fill="none" stroke="#000" stroke-width="1.15" stroke-linecap="round" stroke-linejoin="round"/>
<path d="M14.1 -13.0 14.5 -12.6 14.1 -12.2 13.7 -12.6 13.7 -13.0 14.1 -13.8 14.5 -14.2 15.7 -14.5 17.3 -14.5 18.5 -14.2 18.9 -13.4 18.9 -12.2 18.5 -11.4 17.3 -11.1 16.1 -11.1M14.1 -8.0 14.5 -8.3 14.1 -8.7 13.7 -8.3 13.7 -8.0 14.1 -7.2 14.5 -6.8 15.7 -6.4 17.3 -6.4 18.5 -6.8 18.9 -7.2 19.3 -8.0 19.3 -9.1 18.9 -9.9 18.1 -10.7 17.3 -11.1 18.1 -11.4 18.5 -12.2 18.5 -13.4 18.1 -14.2 17.3 -14.5M17.3 -6.4 18.1 -6.8 18.5 -7.2 18.9 -8.0 18.9 -9.1 18.5 -10.3" fill="none" stroke="#000" stroke-width="1.15" stroke-linecap="round" stroke-linejoin="round"/>
<path d="M14.4 0.5 16.0 0.5 16.0 8.6 14.4 8.6M15.6 0.5 15.6 8.6M16.0 1.6 16.8 0.9 17.6 0.5 18.4 0.5 19.6 0.9 20.4 1.6 20.8 2.8 20.8 3.6 20.4 4.7 19.6 5.5 18.4 5.9 17.6 5.9 16.8 5.5 16.0 4.7M16.0 8.6 17.2 8.6M18.4 0.5 19.2 0.9 20.0 1.6 20.4 2.8 20.4 3.6 20.0 4.7 19.2 5.5 18.4 5.9" fill="none" stroke="#000" stroke-width="1.15" stroke-linecap="round" stroke-linejoin="round"/>
<path d="M14.1 -3.3 L21.5 -3.3" stroke="#000" stroke-width="1.15" stroke-linecap="round"/>
<path d="M42.2 -7.0 L42.0 -6.1 L41.6 -5.3 L40.9 -4.6 L40.2 -3.9 L39.2 -3.3 L38.2 -2.9 L37.1 -2.7 L36.0 -2.6 L34.9 -2.7 L33.9 -2.9 L33.0 -3.3 L32.2 -3.9 L31.6 -4.6 L31.2 -5.3 L31.0 -6.1 L31.0 -7.0 L31.2 -7.9 L31.6 -8.7 L32.3 -9.4 L33.0 -10.1 L34.0 -10.7 L35.0 -11.1 L36.1 -11.3 L37.2 -11.4 L38.3 -11.3 L39.3 -11.1 L40.2 -10.7 L41.0 -10.1 L41.6 -9.4 L42.0 -8.7 L42.2 -7.9 L42.2 -7.0 Z" fill="none" stroke="#000" stroke-width="1.15"/>
<path d="M37.5 -14.2 L35.7 0.0" stroke="#000" stroke-width="1.1" stroke-linecap="round"/>
<path d="M34.8 -14.2 L40.2 -14.2" stroke="#000" stroke-width="1.1" stroke-linecap="round"/>
<path d="M33.0 0.0 L38.4 0.0" stroke="#000" stroke-width="1.1" stroke-linecap="round"/>
<path d="M47.6 -14.5 47.2 -12.2 47.2 -14.5 53.2 -14.5 53.2 -12.2 52.8 -14.5M48.8 -6.4 51.6 -6.4M50.0 -14.5 50.0 -6.4M50.4 -14.5 50.4 -6.4M58.0 -14.5 56.8 -14.2 56.0 -13.4 55.6 -12.6 55.2 -11.1 55.2 -9.9 55.6 -8.3 56.0 -7.6 56.8 -6.8 58.0 -6.4 58.8 -6.4 60.0 -6.8 60.8 -7.6 61.2 -8.3 61.6 -9.9 61.6 -11.1 61.2 -12.6 60.8 -13.4 60.0 -14.2 58.8 -14.5 58.0 -14.5 57.2 -14.2 56.4 -13.4 56.0 -12.6 55.6 -11.1 55.6 -9.9 56.0 -8.3 56.4 -7.6 57.2 -6.8 58.0 -6.4M58.8 -14.5 59.6 -14.2 60.4 -13.4 60.8 -12.6 61.2 -11.1 61.2 -9.9 60.8 -8.3 60.4 -7.6 59.6 -6.8 58.8 -6.4M63.2 -6.4 65.6 -6.4M64.0 -6.4 66.8 -14.5 69.6 -6.4 70.4 -6.4M64.8 -8.7 68.4 -8.7 69.2 -6.4 69.6 -6.4M66.8 -13.4 68.4 -8.7M68.0 -6.4 69.2 -6.4" fill="none" stroke="#000" stroke-width="1.15" stroke-linecap="round" stroke-linejoin="round"/>
<path d="M47.7 0.5 49.3 0.5 49.3 8.6 47.7 8.6M48.9 0.5 48.9 8.6M49.3 1.6 50.1 0.9 50.9 0.5 51.7 0.5 52.9 0.9 53.7 1.6 54.1 2.8 54.1 3.6 53.7 4.7 52.9 5.5 51.7 5.9 50.9 5.9 50.1 5.5 49.3 4.7M49.3 8.6 50.5 8.6M51.7 0.5 52.5 0.9 53.3 1.6 53.7 2.8 53.7 3.6 53.3 4.7 52.5 5.5 51.7 5.9" fill="none" stroke="#000" stroke-width="1.15" stroke-linecap="round" stroke-linejoin="round"/>
<path d="M47.4 -3.3 L54.8 -3.3" stroke="#000" stroke-width="1.15" stroke-linecap="round"/>
<path d="M96.0 -16.2 100.0 -16.2M96.0 -16.2 95.4 -16.2 95.4 4.5 100.0 4.5M96.0 -16.2 96.0 4.5M103.4 -9.1 106.0 -9.1 106.0 0.0 103.4 0.0M105.4 -9.1 105.4 0.0M106.0 -7.1 107.4 -8.4 109.4 -9.1 110.7 -9.1 112.7 -8.4 113.4 -7.1 113.4 0.0 115.4 0.0M106.0 0.0 108.0 0.0M110.7 -9.1 112.0 -8.4 112.7 -7.1 112.7 0.0 110.7 0.0M112.7 0.0 113.4 0.0M113.4 -7.1 114.7 -8.4 116.7 -9.1 118.0 -9.1 120.0 -8.4 120.7 -7.1 120.7 0.0 118.0 0.0M118.0 -9.1 119.4 -8.4 120.0 -7.1 120.0 0.0M120.7 0.0 122.7 0.0" fill="none" stroke="#000" stroke-width="1.15" stroke-linecap="round" stroke-linejoin="round"/>
<path d="M125.4 -9.9 132.6 -9.9M135.4 -7.2 135.8 -7.6 136.6 -7.6 138.6 -6.8 139.8 -6.8 140.6 -7.2 141.0 -7.6 141.0 -8.3M135.4 -7.2 135.4 -7.6 135.8 -8.7 136.6 -9.5 139.0 -10.7 140.2 -11.4 140.6 -12.2 140.6 -13.0 140.2 -13.8 139.8 -14.2 139.0 -14.5 137.4 -14.5 136.2 -14.2 135.8 -13.8 135.4 -13.0 135.4 -12.6 135.8 -12.2 136.2 -12.6 135.8 -13.0M135.4 -7.2 135.4 -6.4M136.6 -7.6 138.6 -6.4 140.2 -6.4 140.6 -6.8 141.0 -7.6M137.4 -9.9 139.4 -10.7 140.6 -11.4 141.0 -12.2 141.0 -13.0 140.6 -13.8 140.2 -14.2 139.0 -14.5" fill="none" stroke="#000" stroke-width="1.15" stroke-linecap="round" stroke-linejoin="round"/>
<path d="M156.8 -7.1 156.8 -7.8 157.5 -8.4 158.8 -9.1 161.5 -9.1 162.8 -8.4 163.5 -7.8 164.1 -6.5 164.1 -9.1 163.5 -7.8M156.8 -7.1 157.5 -6.5 158.8 -5.8 162.1 -4.5 163.5 -3.9 164.1 -3.2 164.1 -1.3 163.5 -0.6 162.1 0.0 159.5 0.0 158.1 -0.6 157.5 -1.3 156.8 -2.6 156.8 0.0 157.5 -1.3M156.8 -7.1 156.8 -6.5 157.5 -5.8 158.8 -5.2 162.1 -3.9 163.5 -3.2 164.1 -2.6" fill="none" stroke="#000" stroke-width="1.15" stroke-linecap="round" stroke-linejoin="round"/>
<path d="M167.5 -9.9 174.7 -9.9M178.7 -13.0 179.5 -13.4 180.7 -14.5 180.7 -6.4 182.3 -6.4M178.7 -6.4 180.7 -6.4M180.3 -14.2 180.3 -6.4" fill="none" stroke="#000" stroke-width="1.15" stroke-linecap="round" stroke-linejoin="round"/>
<path d="M197.6 -7.1 197.6 -7.8 198.3 -8.4 199.6 -9.1 202.3 -9.1 203.6 -8.4 204.3 -7.8 204.9 -6.5 204.9 -9.1 204.3 -7.8M197.6 -7.1 198.3 -6.5 199.6 -5.8 202.9 -4.5 204.3 -3.9 204.9 -3.2 204.9 -1.3 204.3 -0.6 202.9 0.0 200.3 0.0 198.9 -0.6 198.3 -1.3 197.6 -2.6 197.6 0.0 198.3 -1.3M197.6 -7.1 197.6 -6.5 198.3 -5.8 199.6 -5.2 202.9 -3.9 204.3 -3.2 204.9 -2.6M208.3 -9.1 210.9 -9.1 210.9 0.0 208.3 0.0M210.3 -9.1 210.3 0.0M210.9 -5.2 211.6 -7.1 212.9 -8.4 214.3 -9.1 216.3 -9.1 216.9 -8.4 216.9 -7.8 216.3 -7.1 215.6 -7.8 216.3 -8.4M210.9 0.0 212.9 0.0" fill="none" stroke="#000" stroke-width="1.15" stroke-linecap="round" stroke-linejoin="round"/>
<path d="M219.7 -9.9 226.9 -9.9M230.9 -13.0 231.7 -13.4 232.9 -14.5 232.9 -6.4 234.5 -6.4M230.9 -6.4 232.9 -6.4M232.5 -14.2 232.5 -6.4" fill="none" stroke="#000" stroke-width="1.15" stroke-linecap="round" stroke-linejoin="round"/>
<path d="M253.9 -13.6 251.9 -12.9 250.5 -11.6 249.9 -10.4 249.2 -8.4 249.2 -5.2 249.9 -3.2 250.5 -1.9 251.9 -0.6 253.9 0.0 255.2 0.0 257.2 -0.6 258.5 -1.9 258.5 -5.2 256.5 -5.2M253.9 -13.6 252.5 -12.9 251.2 -11.6 250.5 -10.4 249.9 -8.4 249.9 -5.2 250.5 -3.2 251.2 -1.9 252.5 -0.6 253.9 0.0M253.9 -13.6 255.2 -13.6 257.2 -12.9 258.5 -11.6 259.2 -9.7 259.2 -13.6 258.5 -11.6M258.5 -5.2 261.2 -5.2M258.5 -1.9 258.5 0.0M259.2 -5.2 259.2 0.0M265.2 -5.2 265.2 -3.9 265.9 -1.9 267.2 -0.6 268.5 0.0 269.9 0.0 271.9 -0.6 273.2 -1.9M265.2 -5.2 273.2 -5.2 273.2 -6.5 272.5 -7.8 271.9 -8.4 270.5 -9.1 268.5 -9.1 266.5 -8.4 265.2 -7.1 264.5 -5.2 264.5 -3.9 265.2 -1.9 266.5 -0.6 268.5 0.0M265.2 -5.2 265.9 -7.1 267.2 -8.4 268.5 -9.1M271.9 -8.4 272.5 -7.1 272.5 -5.2M275.9 -13.6 279.9 -13.6M277.2 -13.6 281.9 0.0 286.6 -13.6 287.9 -13.6M277.9 -13.6 281.9 -1.9M283.9 -13.6 286.6 -13.6" fill="none" stroke="#000" stroke-width="1.15" stroke-linecap="round" stroke-linejoin="round"/>
<path d="M289.6 -7.2 290.0 -7.6 290.8 -7.6 292.8 -6.8 294.0 -6.8 294.8 -7.2 295.2 -7.6 295.2 -8.3M289.6 -7.2 289.6 -7.6 290.0 -8.7 290.8 -9.5 293.2 -10.7 294.4 -11.4 294.8 -12.2 294.8 -13.0 294.4 -13.8 294.0 -14.2 293.2 -14.5 291.6 -14.5 290.4 -14.2 290.0 -13.8 289.6 -13.0 289.6 -12.6 290.0 -12.2 290.4 -12.6 290.0 -13.0M289.6 -7.2 289.6 -6.4M290.8 -7.6 292.8 -6.4 294.4 -6.4 294.8 -6.8 295.2 -7.6M291.6 -9.9 293.6 -10.7 294.8 -11.4 295.2 -12.2 295.2 -13.0 294.8 -13.8 294.4 -14.2 293.2 -14.5" fill="none" stroke="#000" stroke-width="1.15" stroke-linecap="round" stroke-linejoin="round"/>
<path d="M298.7 -16.2 303.3 -16.2 303.3 4.5 298.7 4.5M302.7 -16.2 302.7 4.5" fill="none" stroke="#000" stroke-width="1.15" stroke-linecap="round" stroke-linejoin="round"/>
</g>
</svg>
</body></html>
